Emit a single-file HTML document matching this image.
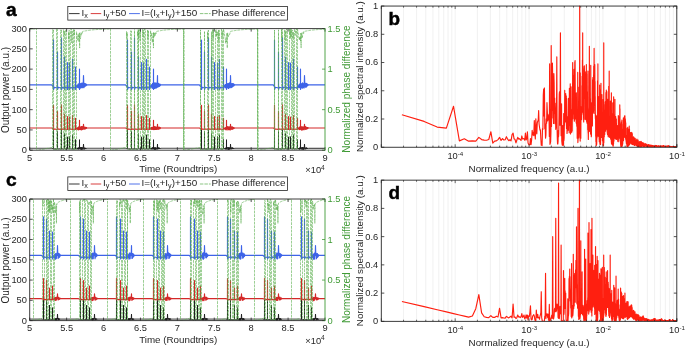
<!DOCTYPE html>
<html><head><meta charset="utf-8"><style>
html,body{margin:0;padding:0;background:#fff;}
svg{display:block;will-change:transform;}
text{font-family:'Liberation Sans',sans-serif;}
</style></head><body>
<svg width="685" height="349" viewBox="0 0 685 349">
<rect width="685" height="349" fill="#fff"/>
<defs>
<clipPath id="clipa"><rect x="29.7" y="28.6" width="295.3" height="121.6"/></clipPath>
<clipPath id="clipc"><rect x="29.7" y="199.0" width="295.3" height="121.6"/></clipPath>
</defs>
<g clip-path="url(#clipa)">
<polyline fill="none" stroke="#1e1e1e" stroke-width="0.95" stroke-linejoin="round" points="28.71,148.29 29.71,148.29 30.71,148.29 31.71,148.29 32.71,148.29 33.71,148.29 34.71,148.29 35.71,148.29 36.71,148.29 37.71,148.29 38.71,148.29 39.71,148.29 40.71,148.29 41.71,148.29 42.71,148.29 43.71,148.29 44.71,148.29 45.71,148.29 46.71,148.29 47.71,148.29 48.71,148.29 49.71,148.29 50.71,148.29 51.71,148.29 52.83,148.59 53.45,148.78 53.5,125.47 53.55,148.5 54.4,148.78 56.73,148.93 57.45,148.78 57.5,131.55 57.55,148.5 58.4,148.78 60.53,148.93 61.45,148.78 61.5,123.85 61.55,148.5 62.4,148.78 63.73,148.93 64.45,148.78 64.5,133.58 64.55,148.5 65.4,148.78 66.63,148.93 67.45,148.78 67.5,136.82 67.55,148.5 68.4,148.78 69.45,148.78 69.5,136.62 69.55,148.5 70.4,148.78 71.73,148.93 72.45,148.78 72.5,134.8 72.55,148.5 73.4,148.78 75.03,148.93 75.45,148.78 75.5,139.5 75.55,148.5 76.03,148.59 76.33,148.46 76.4,148.78 76.63,148.82 76.93,148.28 77.23,148.92 77.53,147.98 77.83,149.27 78.13,147.62 78.43,149.22 78.73,147.57 78.73,148.93 79.45,148.78 79.5,139.66 79.55,148.5 79.93,147.32 80.23,149.41 80.53,147.45 80.83,149.2 81.13,147.39 81.43,149.62 81.73,147.3 82.03,149.59 82.33,147.37 82.63,149.26 83.2,148.29 83.5,144.12 83.8,148.29 83.83,149.35 84.13,147.69 84.43,149.23 84.73,147.83 85.03,149.06 85.33,147.88 85.63,148.78 85.93,147.96 86.23,148.67 86.53,148.11 86.83,148.42 87.03,148.29 87.53,148.29 88.53,148.29 89.53,148.29 90.53,148.29 91.53,148.29 92.53,148.29 93.53,148.29 94.53,148.29 95.53,148.29 96.53,148.29 97.53,148.29 98.53,148.29 99.53,148.29 100.53,148.29 101.53,148.29 102.53,148.29 103.53,148.29 104.53,148.29 105.53,148.29 106.53,148.29 107.53,148.29 108.53,148.29 109.53,148.29 110.53,148.29 111.53,148.29 112.53,148.29 113.53,148.29 114.53,148.29 115.53,148.29 116.53,148.29 117.53,148.29 118.53,148.29 119.53,148.29 120.53,148.29 121.53,148.29 122.53,148.29 123.53,148.29 124.53,148.29 125.53,148.29 126.66,148.59 127.45,148.78 127.5,125.47 127.55,148.5 128.4,148.78 130.56,148.93 131.45,148.78 131.5,131.55 131.55,148.5 132.4,148.78 134.36,148.93 134.45,148.78 134.5,123.85 134.55,148.5 135.4,148.78 137.56,148.93 138.45,148.78 138.5,133.58 138.55,148.5 139.4,148.78 140.46,148.93 141.45,148.78 141.5,136.82 141.55,148.5 142.4,148.78 143.45,148.78 143.5,136.62 143.55,148.5 144.4,148.78 145.56,148.93 146.45,148.78 146.5,134.8 146.55,148.5 147.4,148.78 148.86,148.93 149.45,148.78 149.5,139.5 149.55,148.5 149.86,148.59 150.16,148.49 150.4,148.78 150.46,148.77 150.76,148.31 151.06,149.01 151.36,148.05 151.66,149.25 151.96,147.73 152.26,149.34 152.56,148.93 152.56,147.38 153.45,148.78 153.5,139.66 153.55,148.5 153.76,147.45 154.06,149.6 154.36,147.57 154.66,149.45 154.96,147.63 155.26,149.66 155.56,147.59 155.86,149.28 156.16,147.65 156.46,149.27 157.2,148.29 157.5,144.12 157.66,149.35 157.8,148.29 157.96,147.5 158.26,148.97 158.56,147.72 158.86,148.94 159.16,147.75 159.46,148.8 159.76,147.9 160.06,148.7 160.36,148.05 160.66,148.41 160.86,148.29 161.36,148.29 162.36,148.29 163.36,148.29 164.36,148.29 165.36,148.29 166.36,148.29 167.36,148.29 168.36,148.29 169.36,148.29 170.36,148.29 171.36,148.29 172.36,148.29 173.36,148.29 174.36,148.29 175.36,148.29 176.36,148.29 177.36,148.29 178.36,148.29 179.36,148.29 180.36,148.29 181.36,148.29 182.36,148.29 183.36,148.29 184.36,148.29 185.36,148.29 186.36,148.29 187.36,148.29 188.36,148.29 189.36,148.29 190.36,148.29 191.36,148.29 192.36,148.29 193.36,148.29 194.36,148.29 195.36,148.29 196.36,148.29 197.36,148.29 198.36,148.29 199.36,148.29 200.48,148.59 201.45,148.78 201.5,125.47 201.55,148.5 202.4,148.78 204.38,148.93 204.45,148.78 204.5,131.55 204.55,148.5 205.4,148.78 208.18,148.93 208.45,148.78 208.5,123.85 208.55,148.5 209.4,148.78 211.38,148.93 211.45,148.78 211.5,133.58 211.55,148.5 212.4,148.78 214.28,148.93 214.45,148.78 214.5,136.82 214.55,148.5 215.4,148.78 216.48,148.93 217.45,148.78 217.5,136.62 217.55,148.5 218.4,148.78 219.38,148.93 219.45,148.78 219.5,134.8 219.55,148.5 220.4,148.78 222.68,148.93 223.45,148.78 223.5,139.5 223.55,148.5 223.68,148.59 223.98,148.48 224.28,148.74 224.4,148.78 224.58,148.29 224.88,148.93 225.18,148.07 225.48,149.12 225.78,147.76 226.08,149.57 226.38,148.93 226.38,147.43 226.45,148.78 226.5,139.66 226.55,148.5 227.58,147.37 227.88,149.57 228.18,147.45 228.48,149.64 228.78,147.39 229.08,149.42 229.38,147.67 229.68,149.39 229.98,147.59 230.2,148.29 230.28,149.21 230.5,144.12 230.8,148.29 231.48,149.24 231.78,147.46 232.08,149.03 232.38,147.59 232.68,148.97 232.98,147.89 233.28,148.92 233.58,147.94 233.88,148.61 234.18,148.03 234.48,148.4 234.68,148.29 235.18,148.29 236.18,148.29 237.18,148.29 238.18,148.29 239.18,148.29 240.18,148.29 241.18,148.29 242.18,148.29 243.18,148.29 244.18,148.29 245.18,148.29 246.18,148.29 247.18,148.29 248.18,148.29 249.18,148.29 250.18,148.29 251.18,148.29 252.18,148.29 253.18,148.29 254.18,148.29 255.18,148.29 256.18,148.29 257.18,148.29 258.18,148.29 259.18,148.29 260.18,148.29 261.18,148.29 262.18,148.29 263.18,148.29 264.18,148.29 265.18,148.29 266.18,148.29 267.18,148.29 268.18,148.29 269.18,148.29 270.18,148.29 271.18,148.29 272.18,148.29 273.18,148.29 274.31,148.59 274.45,148.78 274.5,125.47 274.55,148.5 275.4,148.78 278.21,148.93 278.45,148.78 278.5,131.55 278.55,148.5 279.4,148.78 282.01,148.93 282.45,148.78 282.5,123.85 282.55,148.5 283.4,148.78 285.21,148.93 285.45,148.78 285.5,133.58 285.55,148.5 286.4,148.78 288.11,148.93 288.45,148.78 288.5,136.82 288.55,148.5 289.4,148.78 290.31,148.93 290.45,148.78 290.5,136.62 290.55,148.5 291.4,148.78 293.21,148.93 293.45,148.78 293.5,134.8 293.55,148.5 294.4,148.78 296.51,148.93 297.45,148.78 297.5,139.5 297.51,148.59 297.55,148.5 297.81,148.49 298.11,148.77 298.4,148.78 298.41,148.29 298.71,149.05 299.01,148.05 299.31,149.33 299.61,147.74 299.91,149.45 300.21,148.93 300.21,147.55 300.45,148.78 300.5,139.66 300.55,148.5 301.41,147.6 301.71,149.4 302.01,147.28 302.31,149.29 302.61,147.24 302.91,149.54 303.21,147.53 303.51,149.47 303.81,147.5 304.11,149.33 304.2,148.29 304.5,144.12 304.8,148.29 305.31,149.24 305.61,147.77 305.91,149.1 306.21,147.52 306.51,148.9 306.81,147.72 307.11,148.8 307.41,147.98 307.71,148.71 308.01,148.13 308.31,148.41 308.51,148.29 309.01,148.29 310.01,148.29 311.01,148.29 312.01,148.29 313.01,148.29 314.01,148.29 315.01,148.29 316.01,148.29 317.01,148.29 318.01,148.29 319.01,148.29 320.01,148.29 321.01,148.29 322.01,148.29 323.01,148.29 324.01,148.29 325.01,148.29"/>
<polyline fill="none" stroke="#d42828" stroke-width="1.15" stroke-linejoin="round" points="28.71,127.99 29.71,127.99 30.71,127.99 31.71,127.99 32.71,127.99 33.71,127.99 34.71,127.99 35.71,127.99 36.71,127.99 37.71,127.99 38.71,127.99 39.71,127.99 40.71,127.99 41.71,127.99 42.71,127.99 43.71,127.99 44.71,127.99 45.71,127.99 46.71,127.99 47.71,127.99 48.71,127.99 49.71,127.99 50.71,127.99 51.71,127.99 52.83,128.6 53.45,129 53.5,105.21 53.55,129.41 54.4,129 56.73,129.31 57.45,129 57.5,111.45 57.55,129.41 58.4,129 60.53,129.31 61.45,129 61.5,104.8 61.55,129.41 62.4,129 63.73,129.31 64.45,129 64.5,114.13 64.55,129.41 65.4,129 66.63,129.31 67.45,129 67.5,116.56 67.55,129.41 68.4,129 69.45,129 69.5,117.17 69.55,129.41 70.4,129 71.73,129.31 72.45,129 72.5,115.46 72.55,129.41 73.4,129 75.03,129.31 75.45,129 75.5,118.34 75.55,129.41 76.03,128.6 76.33,128.42 76.4,129 76.63,128.82 76.93,128.04 77.23,129.2 77.53,127.9 77.83,129.6 78.13,127.21 78.43,130 78.73,126.89 78.73,129.31 79.45,129 79.5,120.21 79.55,129.41 79.93,126.78 80.23,129.58 80.53,127.24 80.83,129.47 81.13,126.52 81.43,129.86 81.73,126.5 82.03,129.61 82.33,126.6 82.63,129.37 83.2,127.99 83.5,124.26 83.8,127.99 83.83,129.23 84.13,127.08 84.43,129.27 84.73,127.07 85.03,129.02 85.33,127.29 85.63,128.81 85.93,127.3 86.23,128.51 86.53,127.61 86.83,128.14 87.03,127.99 87.53,127.99 88.53,127.99 89.53,127.99 90.53,127.99 91.53,127.99 92.53,127.99 93.53,127.99 94.53,127.99 95.53,127.99 96.53,127.99 97.53,127.99 98.53,127.99 99.53,127.99 100.53,127.99 101.53,127.99 102.53,127.99 103.53,127.99 104.53,127.99 105.53,127.99 106.53,127.99 107.53,127.99 108.53,127.99 109.53,127.99 110.53,127.99 111.53,127.99 112.53,127.99 113.53,127.99 114.53,127.99 115.53,127.99 116.53,127.99 117.53,127.99 118.53,127.99 119.53,127.99 120.53,127.99 121.53,127.99 122.53,127.99 123.53,127.99 124.53,127.99 125.53,127.99 126.66,128.6 127.45,129 127.5,105.21 127.55,129.41 128.4,129 130.56,129.31 131.45,129 131.5,111.45 131.55,129.41 132.4,129 134.36,129.31 134.45,129 134.5,104.8 134.55,129.41 135.4,129 137.56,129.31 138.45,129 138.5,114.13 138.55,129.41 139.4,129 140.46,129.31 141.45,129 141.5,116.56 141.55,129.41 142.4,129 143.45,129 143.5,117.17 143.55,129.41 144.4,129 145.56,129.31 146.45,129 146.5,115.46 146.55,129.41 147.4,129 148.86,129.31 149.45,129 149.5,118.34 149.55,129.41 149.86,128.6 150.16,128.42 150.4,129 150.46,128.9 150.76,128.13 151.06,129.13 151.36,127.54 151.66,129.52 151.96,127.32 152.26,129.46 152.56,129.31 152.56,127.33 153.45,129 153.5,120.21 153.55,129.41 153.76,127.13 154.06,129.56 154.36,126.53 154.66,129.43 154.96,126.95 155.26,129.43 155.56,126.72 155.86,129.39 156.16,127.1 156.46,129.38 157.2,127.99 157.5,124.26 157.66,129.3 157.8,127.99 157.96,126.91 158.26,129.41 158.56,127.22 158.86,128.92 159.16,127.12 159.46,128.87 159.76,127.55 160.06,128.59 160.36,127.61 160.66,128.15 160.86,127.99 161.36,127.99 162.36,127.99 163.36,127.99 164.36,127.99 165.36,127.99 166.36,127.99 167.36,127.99 168.36,127.99 169.36,127.99 170.36,127.99 171.36,127.99 172.36,127.99 173.36,127.99 174.36,127.99 175.36,127.99 176.36,127.99 177.36,127.99 178.36,127.99 179.36,127.99 180.36,127.99 181.36,127.99 182.36,127.99 183.36,127.99 184.36,127.99 185.36,127.99 186.36,127.99 187.36,127.99 188.36,127.99 189.36,127.99 190.36,127.99 191.36,127.99 192.36,127.99 193.36,127.99 194.36,127.99 195.36,127.99 196.36,127.99 197.36,127.99 198.36,127.99 199.36,127.99 200.48,128.6 201.45,129 201.5,105.21 201.55,129.41 202.4,129 204.38,129.31 204.45,129 204.5,111.45 204.55,129.41 205.4,129 208.18,129.31 208.45,129 208.5,104.8 208.55,129.41 209.4,129 211.38,129.31 211.45,129 211.5,114.13 211.55,129.41 212.4,129 214.28,129.31 214.45,129 214.5,116.56 214.55,129.41 215.4,129 216.48,129.31 217.45,129 217.5,117.17 217.55,129.41 218.4,129 219.38,129.31 219.45,129 219.5,115.46 219.55,129.41 220.4,129 222.68,129.31 223.45,129 223.5,118.34 223.55,129.41 223.68,128.6 223.98,128.44 224.28,128.84 224.4,129 224.58,128.07 224.88,129.17 225.18,127.73 225.48,129.47 225.78,127.53 226.08,129.91 226.38,129.31 226.38,127.17 226.45,129 226.5,120.21 226.55,129.41 227.58,126.62 227.88,129.83 228.18,127.03 228.48,129.55 228.78,126.87 229.08,129.67 229.38,126.73 229.68,129.72 229.98,127.13 230.2,127.99 230.28,129.93 230.5,124.26 230.8,127.99 231.48,129.16 231.78,126.76 232.08,129.41 232.38,126.88 232.68,129.1 232.98,127.4 233.28,128.76 233.58,127.46 233.88,128.55 234.18,127.69 234.48,128.2 234.68,127.99 235.18,127.99 236.18,127.99 237.18,127.99 238.18,127.99 239.18,127.99 240.18,127.99 241.18,127.99 242.18,127.99 243.18,127.99 244.18,127.99 245.18,127.99 246.18,127.99 247.18,127.99 248.18,127.99 249.18,127.99 250.18,127.99 251.18,127.99 252.18,127.99 253.18,127.99 254.18,127.99 255.18,127.99 256.18,127.99 257.18,127.99 258.18,127.99 259.18,127.99 260.18,127.99 261.18,127.99 262.18,127.99 263.18,127.99 264.18,127.99 265.18,127.99 266.18,127.99 267.18,127.99 268.18,127.99 269.18,127.99 270.18,127.99 271.18,127.99 272.18,127.99 273.18,127.99 274.31,128.6 274.45,129 274.5,105.21 274.55,129.41 275.4,129 278.21,129.31 278.45,129 278.5,111.45 278.55,129.41 279.4,129 282.01,129.31 282.45,129 282.5,104.8 282.55,129.41 283.4,129 285.21,129.31 285.45,129 285.5,114.13 285.55,129.41 286.4,129 288.11,129.31 288.45,129 288.5,116.56 288.55,129.41 289.4,129 290.31,129.31 290.45,129 290.5,117.17 290.55,129.41 291.4,129 293.21,129.31 293.45,129 293.5,115.46 293.55,129.41 294.4,129 296.51,129.31 297.45,129 297.5,118.34 297.51,128.6 297.55,129.41 297.81,128.43 298.11,128.89 298.4,129 298.41,128.09 298.71,129.05 299.01,127.53 299.31,129.54 299.61,127.18 299.91,129.65 300.21,129.31 300.21,126.7 300.45,129 300.5,120.21 300.55,129.41 301.41,126.69 301.71,130.17 302.01,127.11 302.31,129.77 302.61,126.94 302.91,129.84 303.21,127 303.51,129.43 303.81,126.81 304.11,129.79 304.2,127.99 304.5,124.26 304.8,127.99 305.31,129.37 305.61,126.66 305.91,129.19 306.21,127.2 306.51,129.17 306.81,127.27 307.11,128.7 307.41,127.51 307.71,128.63 308.01,127.59 308.31,128.2 308.51,127.99 309.01,127.99 310.01,127.99 311.01,127.99 312.01,127.99 313.01,127.99 314.01,127.99 315.01,127.99 316.01,127.99 317.01,127.99 318.01,127.99 319.01,127.99 320.01,127.99 321.01,127.99 322.01,127.99 323.01,127.99 324.01,127.99 325.01,127.99"/>
<polyline fill="none" stroke="#3d63e8" stroke-width="1.15" stroke-linejoin="round" points="28.71,84.86 29.71,84.86 30.71,84.86 31.71,84.86 32.71,84.86 33.71,84.86 34.71,84.86 35.71,84.86 36.71,84.86 37.71,84.86 38.71,84.86 39.71,84.86 40.71,84.86 41.71,84.86 42.71,84.86 43.71,84.86 44.71,84.86 45.71,84.86 46.71,84.86 47.71,84.86 48.71,84.86 49.71,84.86 50.71,84.86 51.71,84.86 52.83,86.32 53.45,87.29 53.5,39.95 53.55,89.52 54.4,87.29 56.73,88.02 57.45,87.29 57.5,52.11 57.55,89.52 58.4,87.29 60.53,88.02 61.45,87.29 61.5,37.92 61.55,89.52 62.4,87.29 63.73,88.02 64.45,87.29 64.5,56.97 64.55,89.52 65.4,87.29 66.63,88.02 67.45,87.29 67.5,62.65 67.55,89.52 68.4,87.29 69.45,87.29 69.5,63.05 69.55,89.52 70.4,87.29 71.73,88.02 72.45,87.29 72.5,59.41 72.55,89.52 73.4,87.29 75.03,88.02 75.45,87.29 75.5,67.11 75.55,89.52 76.03,86.32 76.33,86.08 76.4,87.29 76.63,86.81 76.93,85.39 77.23,87.11 77.53,85.18 77.83,87.32 78.13,84.09 78.43,87.57 78.73,83.94 78.73,88.02 79.45,87.29 79.5,69.13 79.55,89.52 79.93,83.81 80.23,88.31 80.53,83.61 80.83,87.48 81.13,83.52 81.43,87.68 81.73,83.05 82.03,87.59 82.33,82.99 82.63,87.76 83.2,84.86 83.5,75.62 83.8,84.86 83.83,87.67 84.13,83.17 84.43,86.85 84.73,83.59 85.03,86.54 85.33,83.57 85.63,85.96 85.93,84.1 86.23,85.74 86.53,84.4 86.83,85.19 87.03,84.86 87.53,84.86 88.53,84.86 89.53,84.86 90.53,84.86 91.53,84.86 92.53,84.86 93.53,84.86 94.53,84.86 95.53,84.86 96.53,84.86 97.53,84.86 98.53,84.86 99.53,84.86 100.53,84.86 101.53,84.86 102.53,84.86 103.53,84.86 104.53,84.86 105.53,84.86 106.53,84.86 107.53,84.86 108.53,84.86 109.53,84.86 110.53,84.86 111.53,84.86 112.53,84.86 113.53,84.86 114.53,84.86 115.53,84.86 116.53,84.86 117.53,84.86 118.53,84.86 119.53,84.86 120.53,84.86 121.53,84.86 122.53,84.86 123.53,84.86 124.53,84.86 125.53,84.86 126.66,86.32 127.45,87.29 127.5,39.95 127.55,89.52 128.4,87.29 130.56,88.02 131.45,87.29 131.5,52.11 131.55,89.52 132.4,87.29 134.36,88.02 134.45,87.29 134.5,37.92 134.55,89.52 135.4,87.29 137.56,88.02 138.45,87.29 138.5,56.97 138.55,89.52 139.4,87.29 140.46,88.02 141.45,87.29 141.5,62.65 141.55,89.52 142.4,87.29 143.45,87.29 143.5,63.05 143.55,89.52 144.4,87.29 145.56,88.02 146.45,87.29 146.5,59.41 146.55,89.52 147.4,87.29 148.86,88.02 149.45,87.29 149.5,67.11 149.55,89.52 149.86,86.32 150.16,86.04 150.4,87.29 150.46,86.78 150.76,85.52 151.06,87.2 151.36,84.74 151.66,87.29 151.96,84.46 152.26,88.42 152.56,88.02 152.56,83.21 153.45,87.29 153.5,69.13 153.55,89.52 153.76,82.97 154.06,87.51 154.36,83.08 154.66,88.45 154.96,82.92 155.26,88.12 155.56,83.09 155.86,88.04 156.16,83.13 156.46,88.04 157.2,84.86 157.5,75.62 157.66,87.28 157.8,84.86 157.96,83.64 158.26,86.58 158.56,83.26 158.86,86.74 159.16,84.01 159.46,86.34 159.76,84.16 160.06,85.77 160.36,84.42 160.66,85.13 160.86,84.86 161.36,84.86 162.36,84.86 163.36,84.86 164.36,84.86 165.36,84.86 166.36,84.86 167.36,84.86 168.36,84.86 169.36,84.86 170.36,84.86 171.36,84.86 172.36,84.86 173.36,84.86 174.36,84.86 175.36,84.86 176.36,84.86 177.36,84.86 178.36,84.86 179.36,84.86 180.36,84.86 181.36,84.86 182.36,84.86 183.36,84.86 184.36,84.86 185.36,84.86 186.36,84.86 187.36,84.86 188.36,84.86 189.36,84.86 190.36,84.86 191.36,84.86 192.36,84.86 193.36,84.86 194.36,84.86 195.36,84.86 196.36,84.86 197.36,84.86 198.36,84.86 199.36,84.86 200.48,86.32 201.45,87.29 201.5,39.95 201.55,89.52 202.4,87.29 204.38,88.02 204.45,87.29 204.5,52.11 204.55,89.52 205.4,87.29 208.18,88.02 208.45,87.29 208.5,37.92 208.55,89.52 209.4,87.29 211.38,88.02 211.45,87.29 211.5,56.97 211.55,89.52 212.4,87.29 214.28,88.02 214.45,87.29 214.5,62.65 214.55,89.52 215.4,87.29 216.48,88.02 217.45,87.29 217.5,63.05 217.55,89.52 218.4,87.29 219.38,88.02 219.45,87.29 219.5,59.41 219.55,89.52 220.4,87.29 222.68,88.02 223.45,87.29 223.5,67.11 223.55,89.52 223.68,86.32 223.98,86.09 224.28,86.63 224.4,87.29 224.58,85.62 224.88,86.95 225.18,84.68 225.48,87.58 225.78,84.63 226.08,88.01 226.38,88.02 226.38,83.69 226.45,87.29 226.5,69.13 226.55,89.52 227.58,83.54 227.88,87.7 228.18,83.53 228.48,88.37 228.78,83.51 229.08,87.88 229.38,82.81 229.68,87.49 229.98,82.96 230.2,84.86 230.28,87.7 230.5,75.62 230.8,84.86 231.48,87.57 231.78,83.51 232.08,86.97 232.38,83.69 232.68,86.82 232.98,83.54 233.28,86.24 233.58,83.83 233.88,85.81 234.18,84.29 234.48,85.23 234.68,84.86 235.18,84.86 236.18,84.86 237.18,84.86 238.18,84.86 239.18,84.86 240.18,84.86 241.18,84.86 242.18,84.86 243.18,84.86 244.18,84.86 245.18,84.86 246.18,84.86 247.18,84.86 248.18,84.86 249.18,84.86 250.18,84.86 251.18,84.86 252.18,84.86 253.18,84.86 254.18,84.86 255.18,84.86 256.18,84.86 257.18,84.86 258.18,84.86 259.18,84.86 260.18,84.86 261.18,84.86 262.18,84.86 263.18,84.86 264.18,84.86 265.18,84.86 266.18,84.86 267.18,84.86 268.18,84.86 269.18,84.86 270.18,84.86 271.18,84.86 272.18,84.86 273.18,84.86 274.31,86.32 274.45,87.29 274.5,39.95 274.55,89.52 275.4,87.29 278.21,88.02 278.45,87.29 278.5,52.11 278.55,89.52 279.4,87.29 282.01,88.02 282.45,87.29 282.5,37.92 282.55,89.52 283.4,87.29 285.21,88.02 285.45,87.29 285.5,56.97 285.55,89.52 286.4,87.29 288.11,88.02 288.45,87.29 288.5,62.65 288.55,89.52 289.4,87.29 290.31,88.02 290.45,87.29 290.5,63.05 290.55,89.52 291.4,87.29 293.21,88.02 293.45,87.29 293.5,59.41 293.55,89.52 294.4,87.29 296.51,88.02 297.45,87.29 297.5,67.11 297.51,86.32 297.55,89.52 297.81,85.97 298.11,86.71 298.4,87.29 298.41,85.46 298.71,86.99 299.01,84.68 299.31,87.45 299.61,84.14 299.91,87.7 300.21,88.02 300.21,83.9 300.45,87.29 300.5,69.13 300.55,89.52 301.41,83.66 301.71,87.73 302.01,83.98 302.31,88.26 302.61,82.86 302.91,87.56 303.21,83.68 303.51,87.62 303.81,83.69 304.11,87.88 304.2,84.86 304.5,75.62 304.8,84.86 305.31,87.15 305.61,83.33 305.91,87.28 306.21,83.3 306.51,86.86 306.81,83.53 307.11,86.21 307.41,84.06 307.71,85.55 308.01,84.49 308.31,85.18 308.51,84.86 309.01,84.86 310.01,84.86 311.01,84.86 312.01,84.86 313.01,84.86 314.01,84.86 315.01,84.86 316.01,84.86 317.01,84.86 318.01,84.86 319.01,84.86 320.01,84.86 321.01,84.86 322.01,84.86 323.01,84.86 324.01,84.86 325.01,84.86"/>
<g fill="none" stroke="#5aae4d" stroke-width="0.6" stroke-dasharray="2.8,0.9">
<polyline stroke-dashoffset="1.1" points="29.91,29.16 30.61,29.13 31.31,29.1 32.01,29.08 32.71,29.05 33.41,29.03 34.11,29 34.81,28.98 35.51,28.96 36.21,28.94 36.5,28.6"/>
<line x1="36.5" y1="28.6" x2="36.5" y2="150.2" stroke-dashoffset="1.19"/>
<polyline stroke-dashoffset="1.71" points="36.5,150.2 37.3,150.12 38.3,149.99 39.3,149.85 40.3,149.7 41.3,149.53 42.3,149.36 43.3,149.19 44.3,149.01 45.3,148.82 46.3,148.63 47.3,148.43 48.3,148.24 49.3,148.03 50.3,147.83 51.3,147.62 52.3,147.41 52.5,147.36"/>
<line x1="52.5" y1="147.36" x2="52.5" y2="31.37" stroke-dashoffset="1.3"/>
<polyline stroke-dashoffset="2.77" points="52.5,31.37 52.8,29.5 53.1,30.67 53.5,29.21"/>
<line x1="53.5" y1="29.21" x2="53.5" y2="149.87" stroke-dashoffset="2.89"/>
<polyline stroke-dashoffset="0.07" points="53.5,149.87 55,149.15 56.5,149.77"/>
<line x1="56.5" y1="149.77" x2="56.5" y2="29.22" stroke-dashoffset="0.6"/>
<polyline stroke-dashoffset="0.38" points="56.5,29.22 56.8,28.83 57.1,29.29 57.5,29.59"/>
<line x1="57.5" y1="29.59" x2="57.5" y2="149.85" stroke-dashoffset="1.31"/>
<polyline stroke-dashoffset="1.32" points="57.5,149.85 59,149.67 60.5,150"/>
<line x1="60.5" y1="150" x2="60.5" y2="30.13" stroke-dashoffset="2.77"/>
<polyline stroke-dashoffset="2.7" points="60.5,30.13 60.8,29.42 61.1,30.69 61.5,29.84"/>
<line x1="61.5" y1="29.84" x2="61.5" y2="150.14" stroke-dashoffset="3.26"/>
<polyline stroke-dashoffset="2.53" points="61.5,150.14 62.5,148.95 63.5,149.81"/>
<line x1="63.5" y1="149.81" x2="63.5" y2="29.68" stroke-dashoffset="2.2"/>
<polyline stroke-dashoffset="3.68" points="63.5,29.68 63.8,31.03 64.1,35.44 64.5,31.14"/>
<line x1="64.5" y1="31.14" x2="64.5" y2="149.09" stroke-dashoffset="2.38"/>
<line x1="64.5" y1="149.09" x2="65.5" y2="149.86" stroke-dashoffset="1.44"/>
<line x1="65.5" y1="149.86" x2="65.5" y2="30.53" stroke-dashoffset="1.13"/>
<polyline stroke-dashoffset="0.13" points="65.5,30.53 65.8,30.2 66.1,30.44 66.5,32.55"/>
<line x1="66.5" y1="32.55" x2="66.5" y2="148.87" stroke-dashoffset="3.49"/>
<polyline stroke-dashoffset="2.78" points="66.5,148.87 67.5,148.86 68.5,148.69"/>
<line x1="68.5" y1="148.69" x2="68.5" y2="31.72" stroke-dashoffset="1.4"/>
<polyline stroke-dashoffset="3.24" points="68.5,31.72 68.8,39.6 69.1,29.96 69.5,31.35"/>
<line x1="69.5" y1="31.35" x2="69.5" y2="149.68" stroke-dashoffset="2.82"/>
<line x1="69.5" y1="149.68" x2="70.5" y2="148.8" stroke-dashoffset="1.72"/>
<line x1="70.5" y1="148.8" x2="70.5" y2="29.92" stroke-dashoffset="3.54"/>
<polyline stroke-dashoffset="3.3" points="70.5,29.92 70.8,28.76 71.1,29.16 71.4,29.07 71.7,42.96 72,30.84 72.5,31.77"/>
<line x1="72.5" y1="31.77" x2="72.5" y2="150.01" stroke-dashoffset="1.65"/>
<line x1="72.5" y1="150.01" x2="73.5" y2="149.85" stroke-dashoffset="1.58"/>
<line x1="73.5" y1="149.85" x2="73.5" y2="29.86" stroke-dashoffset="0.56"/>
<polyline stroke-dashoffset="0.38" points="73.5,29.86 73.8,29.41 74.1,35.62 74.5,29.92"/>
<line x1="74.5" y1="29.92" x2="74.5" y2="148.92" stroke-dashoffset="1.32"/>
<polyline stroke-dashoffset="0.79" points="74.5,148.92 75.5,150.11 76.5,149.83"/>
<line x1="76.5" y1="149.83" x2="76.5" y2="31.28" stroke-dashoffset="0.25"/>
<polyline stroke-dashoffset="2.72" points="76.5,31.28 77.33,40.28 77.63,38.69 77.93,36.77 78.23,33.95 78.53,37.1 78.83,41.86 79.13,37.71 79.33,33.06 79.43,37.14 79.63,48.06 79.73,40.05 79.98,32.61 80.03,38.63 80.33,38.8 80.63,37.83 80.93,35.56 81.23,33.25 81.53,34.32 81.83,32.81 82.13,33.64 82.43,31.69 82.73,31.41 82.73,31.41 83.43,31.26 84.13,31.12 84.83,30.99 85.53,30.87 86.23,30.75 86.93,30.63 87.63,30.53 88.33,30.43 89.03,30.33 89.73,30.24 90.43,30.15 91.13,30.07 91.83,30 92.53,29.92 93.23,29.85 93.93,29.79 94.63,29.73 95.33,29.67 96.03,29.61 96.73,29.56 97.43,29.51 98.13,29.46 98.83,29.41 99.53,29.37 100.23,29.33 100.93,29.29 101.63,29.26 102.33,29.22 103.03,29.19 103.73,29.16 104.43,29.13 105.13,29.1 105.83,29.08 106.53,29.05 107.23,29.03 107.93,29 108.63,28.98 109.33,28.96 110.03,28.94 110.5,28.6"/>
<line x1="110.5" y1="28.6" x2="110.5" y2="150.2" stroke-dashoffset="3.56"/>
<polyline stroke-dashoffset="2.54" points="110.5,150.2 111.3,150.12 112.3,149.99 113.3,149.85 114.3,149.69 115.3,149.52 116.3,149.35 117.3,149.17 118.3,148.99 119.3,148.8 120.3,148.61 121.3,148.41 122.3,148.21 123.3,148.01 124.3,147.8 125.3,147.59 126.3,147.38 126.5,147.36"/>
<line x1="126.5" y1="147.36" x2="126.5" y2="31.33" stroke-dashoffset="3.36"/>
<polyline stroke-dashoffset="3.22" points="126.5,31.33 126.8,37.37 127.1,32.76 127.5,32.47"/>
<line x1="127.5" y1="32.47" x2="127.5" y2="149.13" stroke-dashoffset="2.39"/>
<polyline stroke-dashoffset="1.93" points="127.5,149.13 129,149.61 130.5,149.36"/>
<line x1="130.5" y1="149.36" x2="130.5" y2="31.11" stroke-dashoffset="1.32"/>
<polyline stroke-dashoffset="1.83" points="130.5,31.11 130.8,30.61 131.1,32.08 131.5,31.19"/>
<line x1="131.5" y1="31.19" x2="131.5" y2="149.35" stroke-dashoffset="1.19"/>
<polyline stroke-dashoffset="0.64" points="131.5,149.35 133,149.28 134.5,149.85"/>
<line x1="134.5" y1="149.85" x2="134.5" y2="31.65" stroke-dashoffset="1.83"/>
<line x1="134.5" y1="31.65" x2="134.5" y2="29.63" stroke-dashoffset="2.45"/>
<line x1="134.5" y1="29.63" x2="134.5" y2="149.62" stroke-dashoffset="2.17"/>
<polyline stroke-dashoffset="2.73" points="134.5,149.62 136,148.97 137.5,150.12"/>
<line x1="137.5" y1="150.12" x2="137.5" y2="31.68" stroke-dashoffset="1.24"/>
<polyline stroke-dashoffset="0" points="137.5,31.68 137.8,35.58 138.1,29.22 138.5,29.52"/>
<line x1="138.5" y1="29.52" x2="138.5" y2="148.73" stroke-dashoffset="0.79"/>
<line x1="138.5" y1="148.73" x2="138.5" y2="148.6" stroke-dashoffset="1.07"/>
<line x1="138.5" y1="148.6" x2="138.5" y2="30.33" stroke-dashoffset="2.05"/>
<polyline stroke-dashoffset="1.44" points="138.5,30.33 138.8,37.42 139.1,31.72 139.4,30.11 139.7,29.51 140,41.21 140.5,29.83"/>
<line x1="140.5" y1="29.83" x2="140.5" y2="149.68" stroke-dashoffset="2.43"/>
<polyline stroke-dashoffset="0.83" points="140.5,149.68 141.5,149.22 142.5,149.79"/>
<line x1="142.5" y1="149.79" x2="142.5" y2="30.41" stroke-dashoffset="1.73"/>
<polyline stroke-dashoffset="0.01" points="142.5,30.41 142.8,29.3 143.1,37.01 143.5,30.07"/>
<line x1="143.5" y1="30.07" x2="143.5" y2="149.84" stroke-dashoffset="2.54"/>
<line x1="143.5" y1="149.84" x2="144.5" y2="150.01" stroke-dashoffset="3.2"/>
<line x1="144.5" y1="150.01" x2="144.5" y2="30.43" stroke-dashoffset="3.18"/>
<polyline stroke-dashoffset="3.24" points="144.5,30.43 144.8,28.65 145.1,30.94 145.5,30.8"/>
<line x1="145.5" y1="30.8" x2="145.5" y2="148.63" stroke-dashoffset="0.73"/>
<polyline stroke-dashoffset="3.63" points="145.5,148.63 146.5,149.06 147.5,149.32"/>
<line x1="147.5" y1="149.32" x2="147.5" y2="30.1" stroke-dashoffset="2.04"/>
<polyline stroke-dashoffset="0.69" points="147.5,30.1 147.8,38.55 148.1,39.04 148.5,30.59"/>
<line x1="148.5" y1="30.59" x2="148.5" y2="149.11" stroke-dashoffset="0.34"/>
<polyline stroke-dashoffset="0.26" points="148.5,149.11 149.5,148.67 150.5,149.82"/>
<line x1="150.5" y1="149.82" x2="150.5" y2="29.91" stroke-dashoffset="2.36"/>
<polyline stroke-dashoffset="2.33" points="150.5,29.91 151.16,36.17 151.46,33.37 151.76,39.57 152.06,39.24 152.36,42.58 152.66,38.16 152.96,35.9 153.16,33.06 153.26,39.91 153.46,48.06 153.56,32.26 153.81,32.61 153.86,34.3 154.16,37.12 154.46,32.91 154.76,33.84 155.06,35.93 155.36,33.13 155.66,32.45 155.96,33.85 156.26,31.6 156.56,31.41 156.56,31.41 157.26,31.26 157.96,31.12 158.66,30.99 159.36,30.87 160.06,30.75 160.76,30.63 161.46,30.53 162.16,30.43 162.86,30.33 163.56,30.24 164.26,30.15 164.96,30.07 165.66,30 166.36,29.92 167.06,29.85 167.76,29.79 168.46,29.73 169.16,29.67 169.86,29.61 170.56,29.56 171.26,29.51 171.96,29.46 172.66,29.41 173.36,29.37 174.06,29.33 174.76,29.29 175.46,29.26 176.16,29.22 176.86,29.19 177.56,29.16 178.26,29.13 178.96,29.1 179.66,29.08 180.36,29.05 181.06,29.03 181.76,29 182.46,28.98 183.16,28.96 183.5,28.6"/>
<line x1="183.5" y1="28.6" x2="183.5" y2="150.2" stroke-dashoffset="2.91"/>
<polyline stroke-dashoffset="2.44" points="183.5,150.2 183.86,28.94 184.3,150.13 185.3,150 186.3,149.87 187.3,149.72 188.3,149.56 189.3,149.4 190.3,149.23 191.3,149.06 192.3,148.88 193.3,148.7 194.3,148.52 195.3,148.33 196.3,148.14 197.3,147.94 198.3,147.74 199.3,147.54 200.5,147.36"/>
<line x1="200.5" y1="147.36" x2="200.5" y2="29.88" stroke-dashoffset="1.92"/>
<line x1="200.5" y1="29.88" x2="200.5" y2="31.38" stroke-dashoffset="0.6"/>
<line x1="200.5" y1="31.38" x2="200.5" y2="149.86" stroke-dashoffset="2.72"/>
<polyline stroke-dashoffset="0.02" points="200.5,149.86 202.5,149.41 204.5,149.42"/>
<line x1="204.5" y1="149.42" x2="204.5" y2="31.65" stroke-dashoffset="2.44"/>
<line x1="204.5" y1="31.65" x2="204.5" y2="31.73" stroke-dashoffset="0.61"/>
<line x1="204.5" y1="31.73" x2="204.5" y2="149.45" stroke-dashoffset="0.59"/>
<polyline stroke-dashoffset="3.35" points="204.5,149.45 206,149.29 207.5,149.68"/>
<line x1="207.5" y1="149.68" x2="207.5" y2="31.79" stroke-dashoffset="3.43"/>
<polyline stroke-dashoffset="2.67" points="207.5,31.79 207.8,41.52 208.1,30.83 208.5,30.04"/>
<line x1="208.5" y1="30.04" x2="208.5" y2="149.52" stroke-dashoffset="0.85"/>
<polyline stroke-dashoffset="1.74" points="208.5,149.52 210,149.6 211.5,148.86"/>
<line x1="211.5" y1="148.86" x2="211.5" y2="31.94" stroke-dashoffset="1.28"/>
<line x1="211.5" y1="31.94" x2="211.5" y2="31.69" stroke-dashoffset="0.44"/>
<line x1="211.5" y1="31.69" x2="211.5" y2="149.47" stroke-dashoffset="0.88"/>
<line x1="211.5" y1="149.47" x2="212.5" y2="148.86" stroke-dashoffset="0.21"/>
<line x1="212.5" y1="148.86" x2="212.5" y2="30.97" stroke-dashoffset="3.6"/>
<polyline stroke-dashoffset="0.87" points="212.5,30.97 212.8,29.05 213.1,38.87 213.5,29.41"/>
<line x1="213.5" y1="29.41" x2="213.5" y2="149.29" stroke-dashoffset="1.43"/>
<polyline stroke-dashoffset="0.91" points="213.5,149.29 214.5,148.9 215.5,149.14"/>
<line x1="215.5" y1="149.14" x2="215.5" y2="30.58" stroke-dashoffset="2.41"/>
<polyline stroke-dashoffset="2.08" points="215.5,30.58 215.8,30.35 216.1,29.28 216.4,36.74 216.7,31.58 217,35.33 217.5,31.84"/>
<line x1="217.5" y1="31.84" x2="217.5" y2="149.14" stroke-dashoffset="2.83"/>
<line x1="217.5" y1="149.14" x2="218.5" y2="150.13" stroke-dashoffset="0.04"/>
<line x1="218.5" y1="150.13" x2="218.5" y2="30.16" stroke-dashoffset="0.76"/>
<polyline stroke-dashoffset="2.22" points="218.5,30.16 218.8,41.07 219.1,29.95 219.5,31.58"/>
<line x1="219.5" y1="31.58" x2="219.5" y2="149.09" stroke-dashoffset="2.13"/>
<polyline stroke-dashoffset="3.05" points="219.5,149.09 220.5,148.88 221.5,149.75"/>
<line x1="221.5" y1="149.75" x2="221.5" y2="29.34" stroke-dashoffset="0.3"/>
<polyline stroke-dashoffset="1.37" points="221.5,29.34 221.8,30.93 222.1,36.88 222.5,30.81"/>
<line x1="222.5" y1="30.81" x2="222.5" y2="149.59" stroke-dashoffset="1.49"/>
<line x1="222.5" y1="149.59" x2="223.5" y2="148.98" stroke-dashoffset="1.9"/>
<line x1="223.5" y1="148.98" x2="223.5" y2="29.03" stroke-dashoffset="1.3"/>
<polyline stroke-dashoffset="2.72" points="223.5,29.03 224.98,37.34 225.28,37.75 225.58,43.24 225.88,39.83 226.18,39.67 226.48,41.99 226.78,34.36 226.98,33.06 227.08,37.37 227.28,48.06 227.38,33 227.63,32.61 227.68,33.26 227.98,36.73 228.28,37.04 228.58,35.38 228.88,34.6 229.18,35.01 229.48,34.9 229.78,33.94 230.08,32.76 230.38,31.41 230.38,31.41 231.08,31.26 231.78,31.12 232.48,30.99 233.18,30.87 233.88,30.75 234.58,30.63 235.28,30.53 235.98,30.43 236.68,30.33 237.38,30.24 238.08,30.15 238.78,30.07 239.48,30 240.18,29.92 240.88,29.85 241.58,29.79 242.28,29.73 242.98,29.67 243.68,29.61 244.38,29.56 245.08,29.51 245.78,29.46 246.48,29.41 247.18,29.37 247.88,29.33 248.58,29.29 249.28,29.26 249.98,29.22 250.68,29.19 251.38,29.16 252.08,29.13 252.78,29.1 253.48,29.08 254.18,29.05 254.88,29.03 255.58,29 256.28,28.98 256.98,28.96 257.5,28.6"/>
<line x1="257.5" y1="28.6" x2="257.5" y2="150.2" stroke-dashoffset="0.39"/>
<polyline stroke-dashoffset="0.22" points="257.5,150.2 257.68,28.94 258.3,150.12 259.3,150 260.3,149.86 261.3,149.71 262.3,149.56 263.3,149.39 264.3,149.22 265.3,149.05 266.3,148.87 267.3,148.68 268.3,148.49 269.3,148.3 270.3,148.11 271.3,147.91 272.3,147.71 273.3,147.51 274.5,147.36"/>
<line x1="274.5" y1="147.36" x2="274.5" y2="31.71" stroke-dashoffset="1.16"/>
<line x1="274.5" y1="31.71" x2="274.5" y2="30" stroke-dashoffset="0.33"/>
<line x1="274.5" y1="30" x2="274.5" y2="149.82" stroke-dashoffset="1.45"/>
<polyline stroke-dashoffset="2.14" points="274.5,149.82 276.5,148.73 278.5,149.75"/>
<line x1="278.5" y1="149.75" x2="278.5" y2="29.82" stroke-dashoffset="0.31"/>
<line x1="278.5" y1="29.82" x2="278.5" y2="31.78" stroke-dashoffset="1.7"/>
<line x1="278.5" y1="31.78" x2="278.5" y2="149.77" stroke-dashoffset="2.05"/>
<polyline stroke-dashoffset="2.09" points="278.5,149.77 280,149.65 281.5,149.41"/>
<line x1="281.5" y1="149.41" x2="281.5" y2="29.25" stroke-dashoffset="0.11"/>
<polyline stroke-dashoffset="2.86" points="281.5,29.25 281.8,41.5 282.1,28.98 282.5,30.39"/>
<line x1="282.5" y1="30.39" x2="282.5" y2="149.52" stroke-dashoffset="2.67"/>
<polyline stroke-dashoffset="1.1" points="282.5,149.52 283.5,148.86 284.5,149.13"/>
<line x1="284.5" y1="149.13" x2="284.5" y2="29.92" stroke-dashoffset="1.74"/>
<polyline stroke-dashoffset="2.73" points="284.5,29.92 284.8,30.07 285.1,40.17 285.5,30.49"/>
<line x1="285.5" y1="30.49" x2="285.5" y2="148.76" stroke-dashoffset="3.09"/>
<line x1="285.5" y1="148.76" x2="286.5" y2="149.12" stroke-dashoffset="0.92"/>
<line x1="286.5" y1="149.12" x2="286.5" y2="29.09" stroke-dashoffset="2.85"/>
<polyline stroke-dashoffset="1.57" points="286.5,29.09 286.8,30.01 287.1,29.62 287.5,31.29"/>
<line x1="287.5" y1="31.29" x2="287.5" y2="150.1" stroke-dashoffset="3.53"/>
<polyline stroke-dashoffset="3.25" points="287.5,150.1 288.5,149.38 289.5,148.68"/>
<line x1="289.5" y1="148.68" x2="289.5" y2="29.26" stroke-dashoffset="1.32"/>
<polyline stroke-dashoffset="1.33" points="289.5,29.26 289.8,34.59 290.1,29.52 290.4,38.44 290.7,28.73 291,37.64 291.5,28.68"/>
<line x1="291.5" y1="28.68" x2="291.5" y2="148.66" stroke-dashoffset="1.8"/>
<line x1="291.5" y1="148.66" x2="292.5" y2="149.16" stroke-dashoffset="3.55"/>
<line x1="292.5" y1="149.16" x2="292.5" y2="30.17" stroke-dashoffset="0.53"/>
<polyline stroke-dashoffset="2.03" points="292.5,30.17 292.8,30.75 293.1,38.54 293.5,32.35"/>
<line x1="293.5" y1="32.35" x2="293.5" y2="148.92" stroke-dashoffset="2.4"/>
<line x1="293.5" y1="148.92" x2="294.5" y2="150.17" stroke-dashoffset="2.66"/>
<line x1="294.5" y1="150.17" x2="294.5" y2="28.73" stroke-dashoffset="0.25"/>
<polyline stroke-dashoffset="2.22" points="294.5,28.73 294.8,29.99 295.1,30.73 295.4,31.01 295.7,35.44 296,30.3 296.5,28.83"/>
<line x1="296.5" y1="28.83" x2="296.5" y2="148.73" stroke-dashoffset="1.67"/>
<line x1="296.5" y1="148.73" x2="297.5" y2="149.2" stroke-dashoffset="1.26"/>
<line x1="297.5" y1="149.2" x2="297.5" y2="29.23" stroke-dashoffset="3.59"/>
<polyline stroke-dashoffset="0.39" points="297.5,29.23 298.81,37.05 299.11,39.45 299.41,39.91 299.71,36.93 300.01,40 300.31,37.51 300.61,41.15 300.81,33.06 300.91,39.51 301.11,48.06 301.21,33.34 301.46,32.61 301.51,32.82 301.81,37.81 302.11,35.68 302.41,37.28 302.71,33.9 303.01,32.44 303.31,31.74 303.61,33.53 303.91,31.61 304.21,31.41 304.91,31.26 305.61,31.12 306.31,30.99 307.01,30.87 307.71,30.75 308.41,30.63 309.11,30.53 309.81,30.43 310.51,30.33 311.21,30.24 311.91,30.15 312.61,30.07 313.31,30 314.01,29.92 314.71,29.85 315.41,29.79 316.11,29.73 316.81,29.67 317.51,29.61 318.21,29.56 318.91,29.51 319.61,29.46 320.31,29.41 321.01,29.37 321.71,29.33 322.41,29.29 323.11,29.26 323.81,29.22 324.51,29.19"/>
</g>
</g>
<line x1="29.7" y1="150.2" x2="29.7" y2="147.2" stroke="#262626" stroke-width="0.8"/>
<line x1="29.7" y1="28.6" x2="29.7" y2="31.6" stroke="#262626" stroke-width="0.8"/>
<line x1="66.61" y1="150.2" x2="66.61" y2="147.2" stroke="#262626" stroke-width="0.8"/>
<line x1="66.61" y1="28.6" x2="66.61" y2="31.6" stroke="#262626" stroke-width="0.8"/>
<line x1="103.53" y1="150.2" x2="103.53" y2="147.2" stroke="#262626" stroke-width="0.8"/>
<line x1="103.53" y1="28.6" x2="103.53" y2="31.6" stroke="#262626" stroke-width="0.8"/>
<line x1="140.44" y1="150.2" x2="140.44" y2="147.2" stroke="#262626" stroke-width="0.8"/>
<line x1="140.44" y1="28.6" x2="140.44" y2="31.6" stroke="#262626" stroke-width="0.8"/>
<line x1="177.35" y1="150.2" x2="177.35" y2="147.2" stroke="#262626" stroke-width="0.8"/>
<line x1="177.35" y1="28.6" x2="177.35" y2="31.6" stroke="#262626" stroke-width="0.8"/>
<line x1="214.26" y1="150.2" x2="214.26" y2="147.2" stroke="#262626" stroke-width="0.8"/>
<line x1="214.26" y1="28.6" x2="214.26" y2="31.6" stroke="#262626" stroke-width="0.8"/>
<line x1="251.18" y1="150.2" x2="251.18" y2="147.2" stroke="#262626" stroke-width="0.8"/>
<line x1="251.18" y1="28.6" x2="251.18" y2="31.6" stroke="#262626" stroke-width="0.8"/>
<line x1="288.09" y1="150.2" x2="288.09" y2="147.2" stroke="#262626" stroke-width="0.8"/>
<line x1="288.09" y1="28.6" x2="288.09" y2="31.6" stroke="#262626" stroke-width="0.8"/>
<line x1="325" y1="150.2" x2="325" y2="147.2" stroke="#262626" stroke-width="0.8"/>
<line x1="325" y1="28.6" x2="325" y2="31.6" stroke="#262626" stroke-width="0.8"/>
<line x1="29.7" y1="150.2" x2="32.7" y2="150.2" stroke="#262626" stroke-width="0.8"/>
<line x1="29.7" y1="129.93" x2="32.7" y2="129.93" stroke="#262626" stroke-width="0.8"/>
<line x1="29.7" y1="109.67" x2="32.7" y2="109.67" stroke="#262626" stroke-width="0.8"/>
<line x1="29.7" y1="89.4" x2="32.7" y2="89.4" stroke="#262626" stroke-width="0.8"/>
<line x1="29.7" y1="69.13" x2="32.7" y2="69.13" stroke="#262626" stroke-width="0.8"/>
<line x1="29.7" y1="48.87" x2="32.7" y2="48.87" stroke="#262626" stroke-width="0.8"/>
<line x1="29.7" y1="28.6" x2="32.7" y2="28.6" stroke="#262626" stroke-width="0.8"/>
<line x1="325" y1="150.2" x2="322" y2="150.2" stroke="#3f9a35" stroke-width="0.8"/>
<line x1="325" y1="109.67" x2="322" y2="109.67" stroke="#3f9a35" stroke-width="0.8"/>
<line x1="325" y1="69.13" x2="322" y2="69.13" stroke="#3f9a35" stroke-width="0.8"/>
<line x1="325" y1="28.6" x2="322" y2="28.6" stroke="#3f9a35" stroke-width="0.8"/>
<polyline fill="none" stroke="#262626" stroke-width="0.9" points="325,28.6 29.7,28.6 29.7,150.2 325,150.2"/>
<line x1="325" y1="28.15" x2="325" y2="150.65" stroke="#3f9a35" stroke-width="0.9"/>
<text x="26.9" y="153.2" text-anchor="end" font-size="9.3" fill="#262626">0</text>
<text x="26.9" y="132.93" text-anchor="end" font-size="9.3" fill="#262626">50</text>
<text x="26.9" y="112.67" text-anchor="end" font-size="9.3" fill="#262626">100</text>
<text x="26.9" y="92.4" text-anchor="end" font-size="9.3" fill="#262626">150</text>
<text x="26.9" y="72.13" text-anchor="end" font-size="9.3" fill="#262626">200</text>
<text x="26.9" y="51.87" text-anchor="end" font-size="9.3" fill="#262626">250</text>
<text x="26.9" y="31.6" text-anchor="end" font-size="9.3" fill="#262626">300</text>
<text x="29.7" y="160.9" text-anchor="middle" font-size="9.3" fill="#262626">5</text>
<text x="66.61" y="160.9" text-anchor="middle" font-size="9.3" fill="#262626">5.5</text>
<text x="103.53" y="160.9" text-anchor="middle" font-size="9.3" fill="#262626">6</text>
<text x="140.44" y="160.9" text-anchor="middle" font-size="9.3" fill="#262626">6.5</text>
<text x="177.35" y="160.9" text-anchor="middle" font-size="9.3" fill="#262626">7</text>
<text x="214.26" y="160.9" text-anchor="middle" font-size="9.3" fill="#262626">7.5</text>
<text x="251.18" y="160.9" text-anchor="middle" font-size="9.3" fill="#262626">8</text>
<text x="288.09" y="160.9" text-anchor="middle" font-size="9.3" fill="#262626">8.5</text>
<text x="325" y="160.9" text-anchor="middle" font-size="9.3" fill="#262626">9</text>
<text x="327.6" y="153.2" font-size="9.3" fill="#3f9a35">0</text>
<text x="327.6" y="112.67" font-size="9.3" fill="#3f9a35">0.5</text>
<text x="327.6" y="72.13" font-size="9.3" fill="#3f9a35">1</text>
<text x="327.6" y="31.6" font-size="9.3" fill="#3f9a35">1.5</text>
<text x="305.3" y="173.1" font-size="9.3" fill="#262626">×10<tspan font-size="6.5" dy="-3.6">4</tspan></text>
<text x="178.15" y="172.4" text-anchor="middle" font-size="9.8" fill="#262626">Time (Roundtrips)</text>
<text transform="translate(8.6,90) rotate(-90)" text-anchor="middle" font-size="10" fill="#262626">Output power (a.u.)</text>
<text transform="translate(350.2,89.1) rotate(-90)" text-anchor="middle" font-size="10" fill="#3f9a35">Normalized phase difference</text>
<rect x="67.8" y="6.5" width="219.6" height="13.6" fill="#fff" stroke="#262626" stroke-width="0.8"/>
<line x1="69" y1="13.6" x2="79.6" y2="13.6" stroke="#202020" stroke-width="0.9"/>
<line x1="90.7" y1="13.6" x2="101.2" y2="13.6" stroke="#d42828" stroke-width="0.9"/>
<line x1="129" y1="13.6" x2="139.9" y2="13.6" stroke="#3d63e8" stroke-width="0.9"/>
<line x1="199.9" y1="13.6" x2="210.7" y2="13.6" stroke="#5aae4d" stroke-width="0.7" stroke-dasharray="3.5,1"/>
<text x="81.4" y="15.9" font-size="9.9" fill="#262626">I<tspan font-size="7.2" dy="1.9">x</tspan></text>
<text x="103.1" y="15.9" font-size="9.9" fill="#262626">I<tspan font-size="7.2" dy="1.9">y</tspan><tspan dy="-1.9">+50</tspan></text>
<text x="141.4" y="15.9" font-size="9.9" fill="#262626">I=(I<tspan font-size="7.2" dy="1.9">x</tspan><tspan dy="-1.9">+I</tspan><tspan font-size="7.2" dy="1.9">y</tspan><tspan dy="-1.9">)+150</tspan></text>
<text x="211.5" y="15.9" font-size="9.9" fill="#262626">Phase difference</text>
<text x="5.9" y="16.3" font-size="19.2" font-weight="bold" fill="#000" stroke="#000" stroke-width="0.45">a</text>
<g clip-path="url(#clipc)">
<polyline fill="none" stroke="#1e1e1e" stroke-width="0.95" stroke-linejoin="round" points="29.12,319.1 30.12,319.1 31.12,319.1 32.12,319.1 33.12,319.1 34.12,319.1 35.12,319.1 36.12,319.1 37.12,319.1 38.12,319.1 39.12,319.1 40.12,319.1 41.12,319.1 42.54,319.34 43.45,319.51 43.5,298.31 43.55,319.3 44.4,319.51 45.84,319.63 46.45,319.51 46.5,300.33 46.55,319.3 47.4,319.51 49.24,319.63 49.45,319.51 49.5,305.2 49.55,319.3 50.4,319.51 52.24,319.63 52.45,319.51 52.5,307.63 52.55,319.3 53.34,319.34 53.64,319.17 53.94,319.68 54.24,318.87 54.54,319.96 54.84,318.6 55.14,320.06 55.44,318.52 55.74,320.33 56.04,318.3 56.34,320.41 56.64,318.1 57.2,319.1 57.5,314.11 57.8,319.1 57.84,318.27 58.14,320.34 58.44,318.28 58.74,320.03 59.04,318.51 59.34,319.63 59.64,318.74 59.94,319.42 60.24,318.88 60.54,319.1 61.04,319.1 62.04,319.1 63.04,319.1 64.04,319.1 65.04,319.1 66.04,319.1 67.04,319.1 68.04,319.1 69.04,319.1 70.04,319.1 71.04,319.1 72.04,319.1 73.04,319.1 74.04,319.1 75.04,319.1 76.04,319.1 77.04,319.1 78.04,319.1 79.45,319.34 80.45,319.51 80.5,298.31 80.55,319.3 81.4,319.51 82.75,319.63 83.45,319.51 83.5,300.33 83.55,319.3 84.4,319.51 86.15,319.63 86.45,319.51 86.5,305.2 86.55,319.3 87.4,319.51 89.15,319.63 89.45,319.51 89.5,307.63 89.55,319.3 90.25,319.34 90.55,319.21 90.85,319.7 91.15,318.92 91.45,319.94 91.75,318.49 92.05,320.31 92.35,318.3 92.65,320.45 92.95,318.16 93.25,320.25 93.55,318.2 94.2,319.1 94.5,314.11 94.75,318.22 94.8,319.1 95.05,320.34 95.35,318.43 95.65,320 95.95,318.46 96.25,319.59 96.55,318.71 96.85,319.55 97.15,318.86 97.45,319.1 97.45,319.1 97.95,319.1 98.95,319.1 99.95,319.1 100.95,319.1 101.95,319.1 102.95,319.1 103.95,319.1 104.95,319.1 105.95,319.1 106.95,319.1 107.95,319.1 108.95,319.1 109.95,319.1 110.95,319.1 111.95,319.1 112.95,319.1 113.95,319.1 114.95,319.1 116.36,319.34 116.45,319.51 116.5,298.31 116.55,319.3 117.4,319.51 119.66,319.63 120.45,319.51 120.5,300.33 120.55,319.3 121.4,319.51 123.06,319.63 123.45,319.51 123.5,305.2 123.55,319.3 124.4,319.51 126.06,319.63 126.45,319.51 126.5,307.63 126.55,319.3 127.16,319.34 127.46,319.21 127.76,319.7 128.06,318.92 128.36,319.81 128.66,318.29 128.96,320.23 129.26,318.39 129.56,320.02 129.86,318.33 130.16,320.15 130.46,318.25 131.2,319.1 131.5,314.11 131.66,318.46 131.8,319.1 131.96,319.96 132.26,318.44 132.56,319.91 132.86,318.54 133.16,319.75 133.46,318.71 133.76,319.55 134.06,318.84 134.36,319.1 134.36,319.1 134.86,319.1 135.86,319.1 136.86,319.1 137.86,319.1 138.86,319.1 139.86,319.1 140.86,319.1 141.86,319.1 142.86,319.1 143.86,319.1 144.86,319.1 145.86,319.1 146.86,319.1 147.86,319.1 148.86,319.1 149.86,319.1 150.86,319.1 151.86,319.1 153.27,319.34 153.45,319.51 153.5,298.31 153.55,319.3 154.4,319.51 156.57,319.63 157.45,319.51 157.5,300.33 157.55,319.3 158.4,319.51 159.97,319.63 160.45,319.51 160.5,305.2 160.55,319.3 161.4,319.51 162.97,319.63 163.45,319.51 163.5,307.63 163.55,319.3 164.07,319.34 164.37,319.17 164.67,319.69 164.97,318.93 165.27,319.85 165.57,318.5 165.87,320.34 166.17,318.1 166.47,320.41 166.77,318.14 167.07,320 167.2,319.1 167.37,318.03 167.5,314.11 167.8,319.1 168.57,318.16 168.87,319.93 169.17,318.42 169.47,319.98 169.77,318.51 170.07,319.7 170.37,318.59 170.67,319.53 170.97,318.89 171.27,319.1 171.27,319.1 171.77,319.1 172.77,319.1 173.77,319.1 174.77,319.1 175.77,319.1 176.77,319.1 177.77,319.1 178.77,319.1 179.77,319.1 180.77,319.1 181.77,319.1 182.77,319.1 183.77,319.1 184.77,319.1 185.77,319.1 186.77,319.1 187.77,319.1 188.77,319.1 190.19,319.34 190.45,319.51 190.5,298.31 190.55,319.3 191.4,319.51 193.49,319.63 194.45,319.51 194.5,300.33 194.55,319.3 195.4,319.51 196.89,319.63 197.45,319.51 197.5,305.2 197.55,319.3 198.4,319.51 199.89,319.63 200.45,319.51 200.5,307.63 200.55,319.3 200.99,319.34 201.29,319.13 201.59,319.66 201.89,318.71 202.19,319.8 202.49,318.33 202.79,320.28 203.09,318.2 203.39,320.09 203.69,318.26 203.99,320.11 204.2,319.1 204.29,318.45 204.5,314.11 204.8,319.1 205.49,318.46 205.79,320.31 206.09,318.24 206.39,319.82 206.69,318.56 206.99,319.71 207.29,318.58 207.59,319.41 207.89,318.84 208.19,319.1 208.19,319.1 208.69,319.1 209.69,319.1 210.69,319.1 211.69,319.1 212.69,319.1 213.69,319.1 214.69,319.1 215.69,319.1 216.69,319.1 217.69,319.1 218.69,319.1 219.69,319.1 220.69,319.1 221.69,319.1 222.69,319.1 223.69,319.1 224.69,319.1 225.69,319.1 227.1,319.34 227.45,319.51 227.5,298.31 227.55,319.3 228.4,319.51 230.4,319.63 230.45,319.51 230.5,300.33 230.55,319.3 231.4,319.51 233.8,319.63 234.45,319.51 234.5,305.2 234.55,319.3 235.4,319.51 236.8,319.63 237.45,319.51 237.5,307.63 237.55,319.3 237.9,319.34 238.2,319.16 238.5,319.62 238.8,318.78 239.1,319.82 239.4,318.49 239.7,320.3 240,318.24 240.3,320.33 240.6,318.09 240.9,320.09 241.2,318.43 241.2,319.1 241.5,314.11 241.8,319.1 242.4,318.27 242.7,320.15 243,318.12 243.3,320.01 243.6,318.39 243.9,319.86 244.2,318.71 244.5,319.43 244.8,318.9 245.1,319.1 245.1,319.1 245.6,319.1 246.6,319.1 247.6,319.1 248.6,319.1 249.6,319.1 250.6,319.1 251.6,319.1 252.6,319.1 253.6,319.1 254.6,319.1 255.6,319.1 256.6,319.1 257.6,319.1 258.6,319.1 259.6,319.1 260.6,319.1 261.6,319.1 262.6,319.1 264.01,319.34 264.45,319.51 264.5,298.31 264.55,319.3 265.4,319.51 267.31,319.63 267.45,319.51 267.5,300.33 267.55,319.3 268.4,319.51 270.71,319.63 271.45,319.51 271.5,305.2 271.55,319.3 272.4,319.51 273.71,319.63 274.45,319.51 274.5,307.63 274.55,319.3 274.81,319.34 275.11,319.13 275.41,319.59 275.71,318.82 276.01,320.01 276.31,318.48 276.61,320.46 276.91,318.18 277.21,320.42 277.51,318.47 277.81,320.07 278.11,318.47 278.2,319.1 278.5,314.11 278.8,319.1 279.31,318.06 279.61,320.34 279.91,318.52 280.21,320.04 280.51,318.4 280.81,319.84 281.11,318.71 281.41,319.52 281.71,318.92 282.01,319.1 282.51,319.1 283.51,319.1 284.51,319.1 285.51,319.1 286.51,319.1 287.51,319.1 288.51,319.1 289.51,319.1 290.51,319.1 291.51,319.1 292.51,319.1 293.51,319.1 294.51,319.1 295.51,319.1 296.51,319.1 297.51,319.1 298.51,319.1 299.51,319.1 300.92,319.34 301.45,319.51 301.5,298.31 301.55,319.3 302.4,319.51 304.22,319.63 304.45,319.51 304.5,300.33 304.55,319.3 305.4,319.51 307.62,319.63 308.45,319.51 308.5,305.2 308.55,319.3 309.4,319.51 310.62,319.63 311.45,319.51 311.5,307.63 311.55,319.3 311.72,319.34 312.02,319.15 312.32,319.57 312.62,318.78 312.92,319.88 313.22,318.49 313.52,320.45 313.82,318.42 314.12,320.22 314.42,318.35 314.72,320.06 315.02,318.27 315.2,319.1 315.5,314.11 315.8,319.1 316.22,318.37 316.52,320.26 316.82,318.27 317.12,319.85 317.42,318.31 317.72,319.67 318.02,318.62 318.32,319.52 318.62,318.92 318.92,319.1 319.42,319.1 320.42,319.1 321.42,319.1 322.42,319.1 323.42,319.1 324.42,319.1 325.42,319.1"/>
<polyline fill="none" stroke="#d42828" stroke-width="1.15" stroke-linejoin="round" points="29.12,298.59 30.12,298.59 31.12,298.59 32.12,298.59 33.12,298.59 34.12,298.59 35.12,298.59 36.12,298.59 37.12,298.59 38.12,298.59 39.12,298.59 40.12,298.59 41.12,298.59 42.54,299.08 43.45,299.4 43.5,278.61 43.55,299.81 44.4,299.4 45.84,299.64 46.45,299.4 46.5,280.47 46.55,299.81 47.4,299.4 49.24,299.64 49.45,299.4 49.5,288.01 49.55,299.81 50.4,299.4 52.24,299.64 52.45,299.4 52.5,286.15 52.55,299.81 53.34,299.08 53.64,298.82 53.94,299.45 54.24,298.14 54.54,299.87 54.84,297.49 55.14,300.13 55.44,297.53 55.74,300.33 56.04,297.28 56.34,300.22 56.64,297.4 57.2,298.59 57.5,293.85 57.8,298.59 57.84,297.63 58.14,300.03 58.44,297.3 58.74,299.64 59.04,297.7 59.34,299.43 59.64,298.06 59.94,299.06 60.24,298.23 60.54,298.59 61.04,298.59 62.04,298.59 63.04,298.59 64.04,298.59 65.04,298.59 66.04,298.59 67.04,298.59 68.04,298.59 69.04,298.59 70.04,298.59 71.04,298.59 72.04,298.59 73.04,298.59 74.04,298.59 75.04,298.59 76.04,298.59 77.04,298.59 78.04,298.59 79.45,299.08 80.45,299.4 80.5,278.61 80.55,299.81 81.4,299.4 82.75,299.64 83.45,299.4 83.5,280.47 83.55,299.81 84.4,299.4 86.15,299.64 86.45,299.4 86.5,288.01 86.55,299.81 87.4,299.4 89.15,299.64 89.45,299.4 89.5,286.15 89.55,299.81 90.25,299.08 90.55,298.83 90.85,299.5 91.15,298.2 91.45,300.02 91.75,297.51 92.05,300.72 92.35,297.49 92.65,300.49 92.95,297.4 93.25,300.19 93.55,297.43 94.2,298.59 94.5,293.85 94.75,297.15 94.8,298.59 95.05,300.2 95.35,297.36 95.65,299.86 95.95,297.45 96.25,299.66 96.55,298.07 96.85,299.25 97.15,298.21 97.45,298.59 97.45,298.59 97.95,298.59 98.95,298.59 99.95,298.59 100.95,298.59 101.95,298.59 102.95,298.59 103.95,298.59 104.95,298.59 105.95,298.59 106.95,298.59 107.95,298.59 108.95,298.59 109.95,298.59 110.95,298.59 111.95,298.59 112.95,298.59 113.95,298.59 114.95,298.59 116.36,299.08 116.45,299.4 116.5,278.61 116.55,299.81 117.4,299.4 119.66,299.64 120.45,299.4 120.5,280.47 120.55,299.81 121.4,299.4 123.06,299.64 123.45,299.4 123.5,288.01 123.55,299.81 124.4,299.4 126.06,299.64 126.45,299.4 126.5,286.15 126.55,299.81 127.16,299.08 127.46,298.83 127.76,299.46 128.06,298.45 128.36,299.95 128.66,297.55 128.96,300.61 129.26,297.36 129.56,300.63 129.86,297.32 130.16,300.13 130.46,297.17 131.2,298.59 131.5,293.85 131.66,297.41 131.8,298.59 131.96,300.44 132.26,297.56 132.56,299.63 132.86,297.56 133.16,299.37 133.46,297.81 133.76,299.14 134.06,298.24 134.36,298.59 134.36,298.59 134.86,298.59 135.86,298.59 136.86,298.59 137.86,298.59 138.86,298.59 139.86,298.59 140.86,298.59 141.86,298.59 142.86,298.59 143.86,298.59 144.86,298.59 145.86,298.59 146.86,298.59 147.86,298.59 148.86,298.59 149.86,298.59 150.86,298.59 151.86,298.59 153.27,299.08 153.45,299.4 153.5,278.61 153.55,299.81 154.4,299.4 156.57,299.64 157.45,299.4 157.5,280.47 157.55,299.81 158.4,299.4 159.97,299.64 160.45,299.4 160.5,288.01 160.55,299.81 161.4,299.4 162.97,299.64 163.45,299.4 163.5,286.15 163.55,299.81 164.07,299.08 164.37,298.79 164.67,299.43 164.97,298.25 165.27,299.79 165.57,297.88 165.87,300.32 166.17,297.39 166.47,300.1 166.77,297.67 167.07,300.54 167.2,298.59 167.37,297.24 167.5,293.85 167.8,298.59 168.57,297.35 168.87,300.01 169.17,297.32 169.47,299.85 169.77,297.77 170.07,299.7 170.37,298.05 170.67,299.25 170.97,298.26 171.27,298.59 171.27,298.59 171.77,298.59 172.77,298.59 173.77,298.59 174.77,298.59 175.77,298.59 176.77,298.59 177.77,298.59 178.77,298.59 179.77,298.59 180.77,298.59 181.77,298.59 182.77,298.59 183.77,298.59 184.77,298.59 185.77,298.59 186.77,298.59 187.77,298.59 188.77,298.59 190.19,299.08 190.45,299.4 190.5,278.61 190.55,299.81 191.4,299.4 193.49,299.64 194.45,299.4 194.5,280.47 194.55,299.81 195.4,299.4 196.89,299.64 197.45,299.4 197.5,288.01 197.55,299.81 198.4,299.4 199.89,299.64 200.45,299.4 200.5,286.15 200.55,299.81 200.99,299.08 201.29,298.78 201.59,299.62 201.89,298.13 202.19,299.85 202.49,297.96 202.79,300.7 203.09,297.69 203.39,300.17 203.69,297.21 203.99,300.67 204.2,298.59 204.29,297.14 204.5,293.85 204.8,298.59 205.49,297.3 205.79,300.08 206.09,297.13 206.39,300 206.69,297.61 206.99,299.33 207.29,298.05 207.59,299.04 207.89,298.21 208.19,298.59 208.19,298.59 208.69,298.59 209.69,298.59 210.69,298.59 211.69,298.59 212.69,298.59 213.69,298.59 214.69,298.59 215.69,298.59 216.69,298.59 217.69,298.59 218.69,298.59 219.69,298.59 220.69,298.59 221.69,298.59 222.69,298.59 223.69,298.59 224.69,298.59 225.69,298.59 227.1,299.08 227.45,299.4 227.5,278.61 227.55,299.81 228.4,299.4 230.4,299.64 230.45,299.4 230.5,280.47 230.55,299.81 231.4,299.4 233.8,299.64 234.45,299.4 234.5,288.01 234.55,299.81 235.4,299.4 236.8,299.64 237.45,299.4 237.5,286.15 237.55,299.81 237.9,299.08 238.2,298.8 238.5,299.45 238.8,298.27 239.1,300.19 239.4,297.54 239.7,300.23 240,297.17 240.3,300.3 240.6,297.42 240.9,300.21 241.2,297.03 241.2,298.59 241.5,293.85 241.8,298.59 242.4,297.45 242.7,300.33 243,297.37 243.3,299.97 243.6,297.88 243.9,299.56 244.2,297.77 244.5,299.18 244.8,298.33 245.1,298.59 245.1,298.59 245.6,298.59 246.6,298.59 247.6,298.59 248.6,298.59 249.6,298.59 250.6,298.59 251.6,298.59 252.6,298.59 253.6,298.59 254.6,298.59 255.6,298.59 256.6,298.59 257.6,298.59 258.6,298.59 259.6,298.59 260.6,298.59 261.6,298.59 262.6,298.59 264.01,299.08 264.45,299.4 264.5,278.61 264.55,299.81 265.4,299.4 267.31,299.64 267.45,299.4 267.5,280.47 267.55,299.81 268.4,299.4 270.71,299.64 271.45,299.4 271.5,288.01 271.55,299.81 272.4,299.4 273.71,299.64 274.45,299.4 274.5,286.15 274.55,299.81 274.81,299.08 275.11,298.78 275.41,299.41 275.71,298.45 276.01,300.04 276.31,297.53 276.61,300.37 276.91,297.39 277.21,300.2 277.51,297.6 277.81,300.32 278.11,297.6 278.2,298.59 278.5,293.85 278.8,298.59 279.31,297.35 279.61,299.91 279.91,297.18 280.21,299.95 280.51,297.88 280.81,299.41 281.11,297.82 281.41,299.13 281.71,298.32 282.01,298.59 282.51,298.59 283.51,298.59 284.51,298.59 285.51,298.59 286.51,298.59 287.51,298.59 288.51,298.59 289.51,298.59 290.51,298.59 291.51,298.59 292.51,298.59 293.51,298.59 294.51,298.59 295.51,298.59 296.51,298.59 297.51,298.59 298.51,298.59 299.51,298.59 300.92,299.08 301.45,299.4 301.5,278.61 301.55,299.81 302.4,299.4 304.22,299.64 304.45,299.4 304.5,280.47 304.55,299.81 305.4,299.4 307.62,299.64 308.45,299.4 308.5,288.01 308.55,299.81 309.4,299.4 310.62,299.64 311.45,299.4 311.5,286.15 311.55,299.81 311.72,299.08 312.02,298.79 312.32,299.54 312.62,298.16 312.92,299.81 313.22,297.61 313.52,300.65 313.82,297.24 314.12,300.55 314.42,297.48 314.72,300 315.02,297.29 315.2,298.59 315.5,293.85 315.8,298.59 316.22,297.66 316.52,299.87 316.82,297.51 317.12,299.65 317.42,297.7 317.72,299.69 318.02,298.06 318.32,299.24 318.62,298.2 318.92,298.59 319.42,298.59 320.42,298.59 321.42,298.59 322.42,298.59 323.42,298.59 324.42,298.59 325.42,298.59"/>
<polyline fill="none" stroke="#3d63e8" stroke-width="1.15" stroke-linejoin="round" points="29.12,255.34 30.12,255.34 31.12,255.34 32.12,255.34 33.12,255.34 34.12,255.34 35.12,255.34 36.12,255.34 37.12,255.34 38.12,255.34 39.12,255.34 40.12,255.34 41.12,255.34 42.54,256.31 43.45,256.96 43.5,216.83 43.55,258.99 44.4,256.96 45.84,257.45 46.45,256.96 46.5,219.02 46.55,258.99 47.4,256.96 49.24,257.45 49.45,256.96 49.5,231.02 49.55,258.99 50.4,256.96 52.24,257.45 52.45,256.96 52.5,232.03 52.55,258.99 53.34,256.31 53.64,255.9 53.94,257.13 54.24,254.94 54.54,257.81 54.84,254.33 55.14,259.09 55.44,253.46 55.74,259.06 56.04,253.96 56.34,258.45 56.64,253.44 57.2,255.34 57.5,245.61 57.8,255.34 57.84,252.67 58.14,258.41 58.44,253.32 58.74,257.29 59.04,253.58 59.34,257.35 59.64,254.03 59.94,256.59 60.24,254.77 60.54,255.34 61.04,255.34 62.04,255.34 63.04,255.34 64.04,255.34 65.04,255.34 66.04,255.34 67.04,255.34 68.04,255.34 69.04,255.34 70.04,255.34 71.04,255.34 72.04,255.34 73.04,255.34 74.04,255.34 75.04,255.34 76.04,255.34 77.04,255.34 78.04,255.34 79.45,256.31 80.45,256.96 80.5,216.83 80.55,258.99 81.4,256.96 82.75,257.45 83.45,256.96 83.5,219.02 83.55,258.99 84.4,256.96 86.15,257.45 86.45,256.96 86.5,231.02 86.55,258.99 87.4,256.96 89.15,257.45 89.45,256.96 89.5,232.03 89.55,258.99 90.25,256.31 90.55,255.9 90.85,257.23 91.15,254.69 91.45,258 91.75,253.64 92.05,258.65 92.35,252.98 92.65,258.84 92.95,253.69 93.25,258.62 93.55,253.07 94.2,255.34 94.5,245.61 94.75,253.5 94.8,255.34 95.05,258.72 95.35,252.99 95.65,257.27 95.95,253.99 96.25,256.66 96.55,253.92 96.85,256.22 97.15,254.7 97.45,255.34 97.45,255.34 97.95,255.34 98.95,255.34 99.95,255.34 100.95,255.34 101.95,255.34 102.95,255.34 103.95,255.34 104.95,255.34 105.95,255.34 106.95,255.34 107.95,255.34 108.95,255.34 109.95,255.34 110.95,255.34 111.95,255.34 112.95,255.34 113.95,255.34 114.95,255.34 116.36,256.31 116.45,256.96 116.5,216.83 116.55,258.99 117.4,256.96 119.66,257.45 120.45,256.96 120.5,219.02 120.55,258.99 121.4,256.96 123.06,257.45 123.45,256.96 123.5,231.02 123.55,258.99 124.4,256.96 126.06,257.45 126.45,256.96 126.5,232.03 126.55,258.99 127.16,256.31 127.46,255.9 127.76,256.99 128.06,254.72 128.36,257.77 128.66,254.34 128.96,259.24 129.26,253.42 129.56,258.02 129.86,252.74 130.16,258.73 130.46,253.35 131.2,255.34 131.5,245.61 131.66,253.57 131.8,255.34 131.96,258.42 132.26,253.8 132.56,258.08 132.86,253.51 133.16,257.21 133.46,254.03 133.76,256.55 134.06,254.81 134.36,255.34 134.36,255.34 134.86,255.34 135.86,255.34 136.86,255.34 137.86,255.34 138.86,255.34 139.86,255.34 140.86,255.34 141.86,255.34 142.86,255.34 143.86,255.34 144.86,255.34 145.86,255.34 146.86,255.34 147.86,255.34 148.86,255.34 149.86,255.34 150.86,255.34 151.86,255.34 153.27,256.31 153.45,256.96 153.5,216.83 153.55,258.99 154.4,256.96 156.57,257.45 157.45,256.96 157.5,219.02 157.55,258.99 158.4,256.96 159.97,257.45 160.45,256.96 160.5,231.02 160.55,258.99 161.4,256.96 162.97,257.45 163.45,256.96 163.5,232.03 163.55,258.99 164.07,256.31 164.37,255.8 164.67,257.21 164.97,255.08 165.27,257.55 165.57,253.5 165.87,259.17 166.17,253.94 166.47,258.7 166.77,253.77 167.07,258.12 167.2,255.34 167.37,252.72 167.5,245.61 167.8,255.34 168.57,252.9 168.87,258.5 169.17,253.59 169.47,257.92 169.77,253.59 170.07,256.93 170.37,254.2 170.67,256.25 170.97,254.77 171.27,255.34 171.27,255.34 171.77,255.34 172.77,255.34 173.77,255.34 174.77,255.34 175.77,255.34 176.77,255.34 177.77,255.34 178.77,255.34 179.77,255.34 180.77,255.34 181.77,255.34 182.77,255.34 183.77,255.34 184.77,255.34 185.77,255.34 186.77,255.34 187.77,255.34 188.77,255.34 190.19,256.31 190.45,256.96 190.5,216.83 190.55,258.99 191.4,256.96 193.49,257.45 194.45,256.96 194.5,219.02 194.55,258.99 195.4,256.96 196.89,257.45 197.45,256.96 197.5,231.02 197.55,258.99 198.4,256.96 199.89,257.45 200.45,256.96 200.5,232.03 200.55,258.99 200.99,256.31 201.29,255.76 201.59,257.17 201.89,254.83 202.19,257.55 202.49,253.6 202.79,258.82 203.09,252.85 203.39,259.15 203.69,252.8 203.99,258.55 204.2,255.34 204.29,252.92 204.5,245.61 204.8,255.34 205.49,253.63 205.79,257.6 206.09,253.01 206.39,257.81 206.69,253.34 206.99,256.9 207.29,254.2 207.59,256.51 207.89,254.77 208.19,255.34 208.19,255.34 208.69,255.34 209.69,255.34 210.69,255.34 211.69,255.34 212.69,255.34 213.69,255.34 214.69,255.34 215.69,255.34 216.69,255.34 217.69,255.34 218.69,255.34 219.69,255.34 220.69,255.34 221.69,255.34 222.69,255.34 223.69,255.34 224.69,255.34 225.69,255.34 227.1,256.31 227.45,256.96 227.5,216.83 227.55,258.99 228.4,256.96 230.4,257.45 230.45,256.96 230.5,219.02 230.55,258.99 231.4,256.96 233.8,257.45 234.45,256.96 234.5,231.02 234.55,258.99 235.4,256.96 236.8,257.45 237.45,256.96 237.5,232.03 237.55,258.99 237.9,256.31 238.2,255.77 238.5,257.25 238.8,254.63 239.1,257.79 239.4,253.51 239.7,258.42 240,253.31 240.3,259.21 240.6,253.17 240.9,258.62 241.2,253.45 241.2,255.34 241.5,245.61 241.8,255.34 242.4,253.09 242.7,258.16 243,253.14 243.3,257.68 243.6,253.9 243.9,256.81 244.2,253.89 244.5,256.43 244.8,254.89 245.1,255.34 245.1,255.34 245.6,255.34 246.6,255.34 247.6,255.34 248.6,255.34 249.6,255.34 250.6,255.34 251.6,255.34 252.6,255.34 253.6,255.34 254.6,255.34 255.6,255.34 256.6,255.34 257.6,255.34 258.6,255.34 259.6,255.34 260.6,255.34 261.6,255.34 262.6,255.34 264.01,256.31 264.45,256.96 264.5,216.83 264.55,258.99 265.4,256.96 267.31,257.45 267.45,256.96 267.5,219.02 267.55,258.99 268.4,256.96 270.71,257.45 271.45,256.96 271.5,231.02 271.55,258.99 272.4,256.96 273.71,257.45 274.45,256.96 274.5,232.03 274.55,258.99 274.81,256.31 275.11,255.9 275.41,257.27 275.71,254.87 276.01,258.04 276.31,253.77 276.61,258.23 276.91,252.88 277.21,259.03 277.51,253.81 277.81,258.59 278.11,253.24 278.2,255.34 278.5,245.61 278.8,255.34 279.31,253.36 279.61,258.02 279.91,253.62 280.21,257.77 280.51,253.8 280.81,256.74 281.11,254.37 281.41,256.21 281.71,254.76 282.01,255.34 282.51,255.34 283.51,255.34 284.51,255.34 285.51,255.34 286.51,255.34 287.51,255.34 288.51,255.34 289.51,255.34 290.51,255.34 291.51,255.34 292.51,255.34 293.51,255.34 294.51,255.34 295.51,255.34 296.51,255.34 297.51,255.34 298.51,255.34 299.51,255.34 300.92,256.31 301.45,256.96 301.5,216.83 301.55,258.99 302.4,256.96 304.22,257.45 304.45,256.96 304.5,219.02 304.55,258.99 305.4,256.96 307.62,257.45 308.45,256.96 308.5,231.02 308.55,258.99 309.4,256.96 310.62,257.45 311.45,256.96 311.5,232.03 311.55,258.99 311.72,256.31 312.02,255.86 312.32,257.12 312.62,254.81 312.92,257.64 313.22,254.43 313.52,259.26 313.82,253.84 314.12,258.25 314.42,253.09 314.72,259.13 315.02,253.76 315.2,255.34 315.5,245.61 315.8,255.34 316.22,253.24 316.52,258.62 316.82,253.82 317.12,257.38 317.42,253.64 317.72,257.3 318.02,254.45 318.32,256.33 318.62,254.77 318.92,255.34 319.42,255.34 320.42,255.34 321.42,255.34 322.42,255.34 323.42,255.34 324.42,255.34 325.42,255.34"/>
<g fill="none" stroke="#5aae4d" stroke-width="0.6" stroke-dasharray="2.8,0.9">
<polyline stroke-dashoffset="3.2" points="29.92,199.69 30.62,199.61 31.32,199.54 32.02,199.47 32.72,199.42 33.5,199"/>
<line x1="33.5" y1="199" x2="33.5" y2="320.6" stroke-dashoffset="2.45"/>
<polyline stroke-dashoffset="3.4" points="33.5,320.6 34.3,320.47 35.3,320.25 36.3,320 37.3,319.74 38.3,319.46 39.3,319.17 40.3,318.87 41.3,318.56 42.3,318.24 42.5,318.17"/>
<line x1="42.5" y1="318.17" x2="42.5" y2="199.43" stroke-dashoffset="2.92"/>
<polyline stroke-dashoffset="1.63" points="42.5,199.43 42.8,200.05 43.1,206.46 43.4,200.76 43.7,199.28 44,199.82 44.5,200.46"/>
<line x1="44.5" y1="200.46" x2="44.5" y2="319.86" stroke-dashoffset="0.39"/>
<polyline stroke-dashoffset="1.81" points="44.5,319.86 45.5,319.85 46.5,319.32"/>
<line x1="46.5" y1="319.32" x2="46.5" y2="199.96" stroke-dashoffset="1.9"/>
<polyline stroke-dashoffset="0.41" points="46.5,199.96 46.8,205.32 47.1,200.36 47.5,199.19"/>
<line x1="47.5" y1="199.19" x2="47.5" y2="319.22" stroke-dashoffset="0.55"/>
<line x1="47.5" y1="319.22" x2="48.5" y2="319.56" stroke-dashoffset="3.63"/>
<line x1="48.5" y1="319.56" x2="48.5" y2="199.49" stroke-dashoffset="3.06"/>
<polyline stroke-dashoffset="1.33" points="48.5,199.49 48.8,212.14 49.1,199.98 49.4,212.89 49.7,200.61 50,211.63 50.5,199.78"/>
<line x1="50.5" y1="199.78" x2="50.5" y2="319.26" stroke-dashoffset="0.1"/>
<line x1="50.5" y1="319.26" x2="51.5" y2="319.3" stroke-dashoffset="0.99"/>
<line x1="51.5" y1="319.3" x2="51.5" y2="200.69" stroke-dashoffset="2.04"/>
<polyline stroke-dashoffset="3.58" points="51.5,200.69 51.8,209.01 52.1,205.04 52.4,210.43 52.7,206.22 53,213.39 53.5,199.45"/>
<line x1="53.5" y1="199.45" x2="53.5" y2="319.68" stroke-dashoffset="0.09"/>
<line x1="53.5" y1="319.68" x2="54.5" y2="320.24" stroke-dashoffset="2.66"/>
<line x1="54.5" y1="320.24" x2="54.5" y2="202.08" stroke-dashoffset="3.55"/>
<polyline stroke-dashoffset="3.57" points="54.5,202.08 55.14,206.16 55.44,213.2 55.74,209.51 56.04,205.24 56.14,205.49 56.34,205.88 56.44,223.32 56.64,204.42 56.79,204.84 56.94,203.84 57.04,203.12 57.74,202.62 58.44,202.19 59.14,201.81 59.84,201.47 60.54,201.18 61.24,200.92 61.94,200.69 62.64,200.49 63.34,200.31 64.04,200.15 64.74,200.02 65.44,199.89 66.14,199.79 66.84,199.69 67.54,199.61 68.24,199.54 68.94,199.47 69.64,199.42 70.5,199"/>
<line x1="70.5" y1="199" x2="70.5" y2="320.6" stroke-dashoffset="2.2"/>
<polyline stroke-dashoffset="2.91" points="70.5,320.6 71.3,320.47 72.3,320.25 73.3,320 74.3,319.73 75.3,319.45 76.3,319.15 77.3,318.85 78.3,318.54 79.3,318.22 79.5,318.17"/>
<line x1="79.5" y1="318.17" x2="79.5" y2="201.67" stroke-dashoffset="2.52"/>
<polyline stroke-dashoffset="0.07" points="79.5,201.67 79.8,213.38 80.1,199.53 80.5,199.54"/>
<line x1="80.5" y1="199.54" x2="80.5" y2="319.49" stroke-dashoffset="1.02"/>
<polyline stroke-dashoffset="3.48" points="80.5,319.49 81.5,320.02 82.5,320.17"/>
<line x1="82.5" y1="320.17" x2="82.5" y2="202" stroke-dashoffset="0.37"/>
<polyline stroke-dashoffset="0.59" points="82.5,202 82.8,199.65 83.1,200.34 83.4,200 83.7,199.37 84,201.24 84.5,199.01"/>
<line x1="84.5" y1="199.01" x2="84.5" y2="319.38" stroke-dashoffset="2.29"/>
<line x1="84.5" y1="319.38" x2="85.5" y2="319.02" stroke-dashoffset="3.31"/>
<line x1="85.5" y1="319.02" x2="85.5" y2="201.79" stroke-dashoffset="1.36"/>
<polyline stroke-dashoffset="2.22" points="85.5,201.79 85.8,199.52 86.1,199.91 86.4,200.89 86.7,201.35 87,200.08 87.5,200.92"/>
<line x1="87.5" y1="200.92" x2="87.5" y2="319.14" stroke-dashoffset="3.62"/>
<line x1="87.5" y1="319.14" x2="88.5" y2="319.87" stroke-dashoffset="3.1"/>
<line x1="88.5" y1="319.87" x2="88.5" y2="201.82" stroke-dashoffset="0.05"/>
<polyline stroke-dashoffset="2.5" points="88.5,201.82 88.8,202.68 89.1,203.51 89.4,202.23 89.7,204.55 90,204.01 90.5,200.61"/>
<line x1="90.5" y1="200.61" x2="90.5" y2="319.07" stroke-dashoffset="0.4"/>
<line x1="90.5" y1="319.07" x2="91.5" y2="319.92" stroke-dashoffset="3.53"/>
<line x1="91.5" y1="319.92" x2="91.5" y2="200.92" stroke-dashoffset="2.66"/>
<polyline stroke-dashoffset="3.35" points="91.5,200.92 92.05,214.71 92.35,208.72 92.65,206.48 92.95,207.81 93.05,205.49 93.25,208.06 93.35,223.32 93.55,204.45 93.7,204.84 93.85,204.2 93.95,203.12 94.65,202.62 95.35,202.19 96.05,201.81 96.75,201.47 97.45,201.18 98.15,200.92 98.85,200.69 99.55,200.49 100.25,200.31 100.95,200.15 101.65,200.02 102.35,199.89 103.05,199.79 103.75,199.69 104.45,199.61 105.15,199.54 105.85,199.47 106.55,199.42 107.5,199"/>
<line x1="107.5" y1="199" x2="107.5" y2="320.6" stroke-dashoffset="1.82"/>
<polyline stroke-dashoffset="0.22" points="107.5,320.6 108.3,320.46 109.3,320.24 110.3,319.99 111.3,319.72 112.3,319.43 113.3,319.14 114.3,318.83 115.3,318.51 116.3,318.19 116.5,318.17"/>
<line x1="116.5" y1="318.17" x2="116.5" y2="200.56" stroke-dashoffset="0.77"/>
<polyline stroke-dashoffset="0.31" points="116.5,200.56 116.8,200.57 117.1,201.72 117.5,199.94"/>
<line x1="117.5" y1="199.94" x2="117.5" y2="320.52" stroke-dashoffset="2.79"/>
<polyline stroke-dashoffset="3.25" points="117.5,320.52 118.5,319.17 119.5,319.54"/>
<line x1="119.5" y1="319.54" x2="119.5" y2="202.04" stroke-dashoffset="1.68"/>
<polyline stroke-dashoffset="3.1" points="119.5,202.04 119.8,207.16 120.1,199.34 120.4,200.47 120.7,204.1 121,200.12 121.5,201.43"/>
<line x1="121.5" y1="201.43" x2="121.5" y2="320.28" stroke-dashoffset="0.8"/>
<line x1="121.5" y1="320.28" x2="122.5" y2="320.47" stroke-dashoffset="1.62"/>
<line x1="122.5" y1="320.47" x2="122.5" y2="202.19" stroke-dashoffset="1.56"/>
<polyline stroke-dashoffset="1.81" points="122.5,202.19 122.8,199.88 123.1,201.99 123.4,199.73 123.7,200.82 124,199.54 124.5,200.78"/>
<line x1="124.5" y1="200.78" x2="124.5" y2="320.55" stroke-dashoffset="0.11"/>
<line x1="124.5" y1="320.55" x2="125.5" y2="319.11" stroke-dashoffset="0.63"/>
<line x1="125.5" y1="319.11" x2="125.5" y2="202.15" stroke-dashoffset="0.39"/>
<polyline stroke-dashoffset="2.4" points="125.5,202.15 125.8,199.74 126.1,200.98 126.4,199.38 126.7,209.5 127,200.54 127.5,202.88"/>
<line x1="127.5" y1="202.88" x2="127.5" y2="319.9" stroke-dashoffset="1.77"/>
<line x1="127.5" y1="319.9" x2="127.5" y2="319.27" stroke-dashoffset="3.68"/>
<line x1="127.5" y1="319.27" x2="127.5" y2="200.16" stroke-dashoffset="2.35"/>
<polyline stroke-dashoffset="0.76" points="127.5,200.16 128.96,206.93 129.26,212.12 129.56,208.36 129.86,209.92 129.96,205.49 130.16,206.3 130.26,223.32 130.46,206.57 130.61,204.84 130.76,204.18 130.86,203.12 131.56,202.62 132.26,202.19 132.96,201.81 133.66,201.47 134.36,201.18 135.06,200.92 135.76,200.69 136.46,200.49 137.16,200.31 137.86,200.15 138.56,200.02 139.26,199.89 139.96,199.79 140.66,199.69 141.36,199.61 142.06,199.54 142.76,199.47 143.46,199.42 143.5,199"/>
<line x1="143.5" y1="199" x2="143.5" y2="320.6" stroke-dashoffset="0.39"/>
<polyline stroke-dashoffset="2.53" points="143.5,320.6 144.3,320.48 145.3,320.28 146.3,320.06 147.3,319.82 148.3,319.56 149.3,319.3 150.3,319.03 151.3,318.74 152.3,318.46 153.5,318.17"/>
<line x1="153.5" y1="318.17" x2="153.5" y2="200.85" stroke-dashoffset="3.04"/>
<polyline stroke-dashoffset="0.49" points="153.5,200.85 153.8,200.79 154.1,210.81 154.5,199.44"/>
<line x1="154.5" y1="199.44" x2="154.5" y2="319.72" stroke-dashoffset="1.91"/>
<polyline stroke-dashoffset="3.54" points="154.5,319.72 155.5,319.81 156.5,319.36"/>
<line x1="156.5" y1="319.36" x2="156.5" y2="199.71" stroke-dashoffset="3.34"/>
<polyline stroke-dashoffset="0.42" points="156.5,199.71 156.8,200.92 157.1,207.46 157.4,210.02 157.7,200.24 158,212.43 158.5,201.38"/>
<line x1="158.5" y1="201.38" x2="158.5" y2="320.31" stroke-dashoffset="1.83"/>
<line x1="158.5" y1="320.31" x2="159.5" y2="319.41" stroke-dashoffset="3.23"/>
<line x1="159.5" y1="319.41" x2="159.5" y2="200.47" stroke-dashoffset="2.24"/>
<polyline stroke-dashoffset="0.08" points="159.5,200.47 159.8,203.98 160.1,199.81 160.4,199.82 160.7,209.64 161,205 161.5,202.26"/>
<line x1="161.5" y1="202.26" x2="161.5" y2="319.56" stroke-dashoffset="1.29"/>
<line x1="161.5" y1="319.56" x2="162.5" y2="319.01" stroke-dashoffset="1.04"/>
<line x1="162.5" y1="319.01" x2="162.5" y2="201.7" stroke-dashoffset="1.25"/>
<polyline stroke-dashoffset="3.62" points="162.5,201.7 162.8,200.24 163.1,201.43 163.5,199.05"/>
<line x1="163.5" y1="199.05" x2="163.5" y2="319.84" stroke-dashoffset="3.02"/>
<line x1="163.5" y1="319.84" x2="164.5" y2="319.39" stroke-dashoffset="3.69"/>
<line x1="164.5" y1="319.39" x2="164.5" y2="199.75" stroke-dashoffset="2.94"/>
<polyline stroke-dashoffset="3.58" points="164.5,199.75 165.87,205.57 166.17,209.29 166.47,204.75 166.77,205.02 166.87,205.49 167.07,203.94 167.17,223.32 167.37,206.06 167.52,204.84 167.67,203.26 167.77,203.12 168.47,202.62 169.17,202.19 169.87,201.81 170.57,201.47 171.27,201.18 171.97,200.92 172.67,200.69 173.37,200.49 174.07,200.31 174.77,200.15 175.47,200.02 176.17,199.89 176.87,199.79 177.57,199.69 178.27,199.61 178.97,199.54 179.67,199.47 180.37,199.42 180.5,199"/>
<line x1="180.5" y1="199" x2="180.5" y2="320.6" stroke-dashoffset="1.54"/>
<polyline stroke-dashoffset="3.47" points="180.5,320.6 181.3,320.48 182.3,320.28 183.3,320.05 184.3,319.81 185.3,319.55 186.3,319.29 187.3,319.01 188.3,318.72 189.3,318.43 190.5,318.17"/>
<line x1="190.5" y1="318.17" x2="190.5" y2="201.98" stroke-dashoffset="2.02"/>
<polyline stroke-dashoffset="3" points="190.5,201.98 190.8,199.98 191.1,204.73 191.5,200.03"/>
<line x1="191.5" y1="200.03" x2="191.5" y2="319.2" stroke-dashoffset="0.75"/>
<polyline stroke-dashoffset="3.24" points="191.5,319.2 192.5,319.77 193.5,320.57"/>
<line x1="193.5" y1="320.57" x2="193.5" y2="202.04" stroke-dashoffset="1.47"/>
<polyline stroke-dashoffset="3.48" points="193.5,202.04 193.8,201.41 194.1,206.3 194.4,199.27 194.7,203.69 195,199.06 195.5,202.75"/>
<line x1="195.5" y1="202.75" x2="195.5" y2="320.57" stroke-dashoffset="1.13"/>
<line x1="195.5" y1="320.57" x2="196.5" y2="319.1" stroke-dashoffset="1.46"/>
<line x1="196.5" y1="319.1" x2="196.5" y2="200.48" stroke-dashoffset="1.89"/>
<polyline stroke-dashoffset="3.27" points="196.5,200.48 196.8,203.57 197.1,199.46 197.4,201.16 197.7,207.51 198,201.27 198.5,199.75"/>
<line x1="198.5" y1="199.75" x2="198.5" y2="319.99" stroke-dashoffset="2.71"/>
<line x1="198.5" y1="319.99" x2="199.5" y2="319.52" stroke-dashoffset="0.97"/>
<line x1="199.5" y1="319.52" x2="199.5" y2="199.46" stroke-dashoffset="1.85"/>
<polyline stroke-dashoffset="3.15" points="199.5,199.46 199.8,210.22 200.1,200.37 200.5,202.52"/>
<line x1="200.5" y1="202.52" x2="200.5" y2="320.21" stroke-dashoffset="3.28"/>
<line x1="200.5" y1="320.21" x2="201.5" y2="319.11" stroke-dashoffset="2.75"/>
<line x1="201.5" y1="319.11" x2="201.5" y2="200.05" stroke-dashoffset="1.22"/>
<polyline stroke-dashoffset="3.41" points="201.5,200.05 202.79,214.63 203.09,211.41 203.39,210.14 203.69,208.1 203.79,205.49 203.99,207.81 204.09,223.32 204.29,204.55 204.44,204.84 204.59,204.19 204.69,203.12 205.39,202.62 206.09,202.19 206.79,201.81 207.49,201.47 208.19,201.18 208.89,200.92 209.59,200.69 210.29,200.49 210.99,200.31 211.69,200.15 212.39,200.02 213.09,199.89 213.79,199.79 214.49,199.69 215.19,199.61 215.89,199.54 216.59,199.47 217.29,199.42 217.5,199"/>
<line x1="217.5" y1="199" x2="217.5" y2="320.6" stroke-dashoffset="1.43"/>
<polyline stroke-dashoffset="2.7" points="217.5,320.6 218.3,320.48 219.3,320.27 220.3,320.05 221.3,319.8 222.3,319.54 223.3,319.27 224.3,318.99 225.3,318.7 226.3,318.41 227.5,318.17"/>
<line x1="227.5" y1="318.17" x2="227.5" y2="199.38" stroke-dashoffset="2.98"/>
<polyline stroke-dashoffset="2.54" points="227.5,199.38 227.8,201.37 228.1,199.6 228.5,202.65"/>
<line x1="228.5" y1="202.65" x2="228.5" y2="319.63" stroke-dashoffset="0.2"/>
<polyline stroke-dashoffset="0.79" points="228.5,319.63 229.5,319.89 230.5,319.98"/>
<line x1="230.5" y1="319.98" x2="230.5" y2="200.46" stroke-dashoffset="2.89"/>
<polyline stroke-dashoffset="2.41" points="230.5,200.46 230.8,212.88 231.1,199.39 231.4,200.46 231.7,199.7 232,200.26 232.5,199.91"/>
<line x1="232.5" y1="199.91" x2="232.5" y2="320.41" stroke-dashoffset="3.13"/>
<line x1="232.5" y1="320.41" x2="233.5" y2="319.15" stroke-dashoffset="2.61"/>
<line x1="233.5" y1="319.15" x2="233.5" y2="199.05" stroke-dashoffset="2.54"/>
<polyline stroke-dashoffset="3.26" points="233.5,199.05 233.8,205.9 234.1,207.07 234.5,199.72"/>
<line x1="234.5" y1="199.72" x2="234.5" y2="319.34" stroke-dashoffset="3.44"/>
<polyline stroke-dashoffset="1.06" points="234.5,319.34 235.5,319.65 236.5,319.55"/>
<line x1="236.5" y1="319.55" x2="236.5" y2="202.16" stroke-dashoffset="3.08"/>
<polyline stroke-dashoffset="3.57" points="236.5,202.16 236.8,205.81 237.1,203.37 237.5,201.04"/>
<line x1="237.5" y1="201.04" x2="237.5" y2="319.37" stroke-dashoffset="0.44"/>
<line x1="237.5" y1="319.37" x2="238.5" y2="320.3" stroke-dashoffset="1.63"/>
<line x1="238.5" y1="320.3" x2="238.5" y2="201.63" stroke-dashoffset="2.01"/>
<polyline stroke-dashoffset="2.08" points="238.5,201.63 239.7,212.61 240,209.02 240.3,211.38 240.6,206.84 240.7,205.49 240.9,208.9 241,223.32 241.2,206.9 241.35,204.84 241.5,203.76 241.6,203.12 242.3,202.62 243,202.19 243.7,201.81 244.4,201.47 245.1,201.18 245.8,200.92 246.5,200.69 247.2,200.49 247.9,200.31 248.6,200.15 249.3,200.02 250,199.89 250.7,199.79 251.4,199.69 252.1,199.61 252.8,199.54 253.5,199.47 254.2,199.42 254.5,199"/>
<line x1="254.5" y1="199" x2="254.5" y2="320.6" stroke-dashoffset="3.21"/>
<polyline stroke-dashoffset="0.03" points="254.5,320.6 255.3,320.48 256.3,320.27 257.3,320.04 258.3,319.79 259.3,319.53 260.3,319.26 261.3,318.97 262.3,318.68 263.3,318.38 264.5,318.17"/>
<line x1="264.5" y1="318.17" x2="264.5" y2="202.1" stroke-dashoffset="0.25"/>
<polyline stroke-dashoffset="2.89" points="264.5,202.1 264.8,200.29 265.1,200.95 265.5,202.89"/>
<line x1="265.5" y1="202.89" x2="265.5" y2="319.13" stroke-dashoffset="1.02"/>
<polyline stroke-dashoffset="1.71" points="265.5,319.13 266.5,319.05 267.5,319.95"/>
<line x1="267.5" y1="319.95" x2="267.5" y2="199.03" stroke-dashoffset="0.54"/>
<polyline stroke-dashoffset="3.55" points="267.5,199.03 267.8,204.56 268.1,206.94 268.4,203.44 268.7,212.29 269,200.66 269.5,202.06"/>
<line x1="269.5" y1="202.06" x2="269.5" y2="319.08" stroke-dashoffset="1.83"/>
<line x1="269.5" y1="319.08" x2="270.5" y2="319.44" stroke-dashoffset="0.26"/>
<line x1="270.5" y1="319.44" x2="270.5" y2="199.02" stroke-dashoffset="3.35"/>
<polyline stroke-dashoffset="2.18" points="270.5,199.02 270.8,199.52 271.1,201 271.5,201.77"/>
<line x1="271.5" y1="201.77" x2="271.5" y2="320.48" stroke-dashoffset="0.94"/>
<polyline stroke-dashoffset="0.34" points="271.5,320.48 272.5,320 273.5,320.39"/>
<line x1="273.5" y1="320.39" x2="273.5" y2="201.53" stroke-dashoffset="0.11"/>
<polyline stroke-dashoffset="3.21" points="273.5,201.53 273.8,205.47 274.1,201.01 274.5,200.73"/>
<line x1="274.5" y1="200.73" x2="274.5" y2="320.46" stroke-dashoffset="0.45"/>
<line x1="274.5" y1="320.46" x2="275.5" y2="319.18" stroke-dashoffset="0.81"/>
<line x1="275.5" y1="319.18" x2="275.5" y2="199.96" stroke-dashoffset="2.05"/>
<polyline stroke-dashoffset="0.25" points="275.5,199.96 276.61,210.09 276.91,204.53 277.21,206.69 277.51,210.37 277.61,205.49 277.81,207.56 277.91,223.32 278.11,206 278.26,204.84 278.41,203.96 278.51,203.12 279.21,202.62 279.91,202.19 280.61,201.81 281.31,201.47 282.01,201.18 282.71,200.92 283.41,200.69 284.11,200.49 284.81,200.31 285.51,200.15 286.21,200.02 286.91,199.89 287.61,199.79 288.31,199.69 289.01,199.61 289.71,199.54 290.41,199.47 291.11,199.42 291.5,199"/>
<line x1="291.5" y1="199" x2="291.5" y2="320.6" stroke-dashoffset="2.67"/>
<polyline stroke-dashoffset="2.39" points="291.5,320.6 292.3,320.47 293.3,320.27 294.3,320.03 295.3,319.78 296.3,319.52 297.3,319.24 298.3,318.96 299.3,318.66 300.3,318.36 300.5,318.17"/>
<line x1="300.5" y1="318.17" x2="300.5" y2="199.45" stroke-dashoffset="2.4"/>
<polyline stroke-dashoffset="1.32" points="300.5,199.45 300.8,212.9 301.1,208.7 301.4,209.67 301.7,200.54 302,199.63 302.5,202.19"/>
<line x1="302.5" y1="202.19" x2="302.5" y2="318.98" stroke-dashoffset="1.05"/>
<polyline stroke-dashoffset="2.85" points="302.5,318.98 303.5,320.38 304.5,320.2"/>
<line x1="304.5" y1="320.2" x2="304.5" y2="199.57" stroke-dashoffset="3.63"/>
<polyline stroke-dashoffset="2.2" points="304.5,199.57 304.8,202.42 305.1,199.92 305.4,201.09 305.7,199.43 306,207.32 306.5,200.92"/>
<line x1="306.5" y1="200.92" x2="306.5" y2="320.55" stroke-dashoffset="3.38"/>
<line x1="306.5" y1="320.55" x2="307.5" y2="319.41" stroke-dashoffset="0.58"/>
<line x1="307.5" y1="319.41" x2="307.5" y2="201.57" stroke-dashoffset="2.82"/>
<polyline stroke-dashoffset="0.87" points="307.5,201.57 307.8,200.8 308.1,199.16 308.5,199.26"/>
<line x1="308.5" y1="199.26" x2="308.5" y2="319.67" stroke-dashoffset="1.03"/>
<polyline stroke-dashoffset="0.11" points="308.5,319.67 309.5,319.89 310.5,319"/>
<line x1="310.5" y1="319" x2="310.5" y2="199.82" stroke-dashoffset="3.47"/>
<polyline stroke-dashoffset="0.56" points="310.5,199.82 310.8,203.71 311.1,200.69 311.5,199.02"/>
<line x1="311.5" y1="199.02" x2="311.5" y2="320.39" stroke-dashoffset="0.84"/>
<line x1="311.5" y1="320.39" x2="312.5" y2="319.06" stroke-dashoffset="1.28"/>
<line x1="312.5" y1="319.06" x2="312.5" y2="200.84" stroke-dashoffset="1.59"/>
<polyline stroke-dashoffset="3.01" points="312.5,200.84 313.52,209.27 313.82,205.23 314.12,206.06 314.42,204.06 314.52,205.49 314.72,208.19 314.82,223.32 315.02,206.78 315.17,204.84 315.32,203.92 315.42,203.12 316.12,202.62 316.82,202.19 317.52,201.81 318.22,201.47 318.92,201.18 319.62,200.92 320.32,200.69 321.02,200.49 321.72,200.31 322.42,200.15 323.12,200.02 323.82,199.89 324.52,199.79"/>
</g>
</g>
<line x1="29.7" y1="320.6" x2="29.7" y2="317.6" stroke="#262626" stroke-width="0.8"/>
<line x1="29.7" y1="199" x2="29.7" y2="202" stroke="#262626" stroke-width="0.8"/>
<line x1="66.61" y1="320.6" x2="66.61" y2="317.6" stroke="#262626" stroke-width="0.8"/>
<line x1="66.61" y1="199" x2="66.61" y2="202" stroke="#262626" stroke-width="0.8"/>
<line x1="103.53" y1="320.6" x2="103.53" y2="317.6" stroke="#262626" stroke-width="0.8"/>
<line x1="103.53" y1="199" x2="103.53" y2="202" stroke="#262626" stroke-width="0.8"/>
<line x1="140.44" y1="320.6" x2="140.44" y2="317.6" stroke="#262626" stroke-width="0.8"/>
<line x1="140.44" y1="199" x2="140.44" y2="202" stroke="#262626" stroke-width="0.8"/>
<line x1="177.35" y1="320.6" x2="177.35" y2="317.6" stroke="#262626" stroke-width="0.8"/>
<line x1="177.35" y1="199" x2="177.35" y2="202" stroke="#262626" stroke-width="0.8"/>
<line x1="214.26" y1="320.6" x2="214.26" y2="317.6" stroke="#262626" stroke-width="0.8"/>
<line x1="214.26" y1="199" x2="214.26" y2="202" stroke="#262626" stroke-width="0.8"/>
<line x1="251.18" y1="320.6" x2="251.18" y2="317.6" stroke="#262626" stroke-width="0.8"/>
<line x1="251.18" y1="199" x2="251.18" y2="202" stroke="#262626" stroke-width="0.8"/>
<line x1="288.09" y1="320.6" x2="288.09" y2="317.6" stroke="#262626" stroke-width="0.8"/>
<line x1="288.09" y1="199" x2="288.09" y2="202" stroke="#262626" stroke-width="0.8"/>
<line x1="325" y1="320.6" x2="325" y2="317.6" stroke="#262626" stroke-width="0.8"/>
<line x1="325" y1="199" x2="325" y2="202" stroke="#262626" stroke-width="0.8"/>
<line x1="29.7" y1="320.6" x2="32.7" y2="320.6" stroke="#262626" stroke-width="0.8"/>
<line x1="29.7" y1="300.33" x2="32.7" y2="300.33" stroke="#262626" stroke-width="0.8"/>
<line x1="29.7" y1="280.07" x2="32.7" y2="280.07" stroke="#262626" stroke-width="0.8"/>
<line x1="29.7" y1="259.8" x2="32.7" y2="259.8" stroke="#262626" stroke-width="0.8"/>
<line x1="29.7" y1="239.53" x2="32.7" y2="239.53" stroke="#262626" stroke-width="0.8"/>
<line x1="29.7" y1="219.27" x2="32.7" y2="219.27" stroke="#262626" stroke-width="0.8"/>
<line x1="29.7" y1="199" x2="32.7" y2="199" stroke="#262626" stroke-width="0.8"/>
<line x1="325" y1="320.6" x2="322" y2="320.6" stroke="#3f9a35" stroke-width="0.8"/>
<line x1="325" y1="280.07" x2="322" y2="280.07" stroke="#3f9a35" stroke-width="0.8"/>
<line x1="325" y1="239.53" x2="322" y2="239.53" stroke="#3f9a35" stroke-width="0.8"/>
<line x1="325" y1="199" x2="322" y2="199" stroke="#3f9a35" stroke-width="0.8"/>
<polyline fill="none" stroke="#262626" stroke-width="0.9" points="325,199 29.7,199 29.7,320.6 325,320.6"/>
<line x1="325" y1="198.55" x2="325" y2="321.05" stroke="#3f9a35" stroke-width="0.9"/>
<text x="26.9" y="323.6" text-anchor="end" font-size="9.3" fill="#262626">0</text>
<text x="26.9" y="303.33" text-anchor="end" font-size="9.3" fill="#262626">50</text>
<text x="26.9" y="283.07" text-anchor="end" font-size="9.3" fill="#262626">100</text>
<text x="26.9" y="262.8" text-anchor="end" font-size="9.3" fill="#262626">150</text>
<text x="26.9" y="242.53" text-anchor="end" font-size="9.3" fill="#262626">200</text>
<text x="26.9" y="222.27" text-anchor="end" font-size="9.3" fill="#262626">250</text>
<text x="26.9" y="202" text-anchor="end" font-size="9.3" fill="#262626">300</text>
<text x="29.7" y="331.3" text-anchor="middle" font-size="9.3" fill="#262626">5</text>
<text x="66.61" y="331.3" text-anchor="middle" font-size="9.3" fill="#262626">5.5</text>
<text x="103.53" y="331.3" text-anchor="middle" font-size="9.3" fill="#262626">6</text>
<text x="140.44" y="331.3" text-anchor="middle" font-size="9.3" fill="#262626">6.5</text>
<text x="177.35" y="331.3" text-anchor="middle" font-size="9.3" fill="#262626">7</text>
<text x="214.26" y="331.3" text-anchor="middle" font-size="9.3" fill="#262626">7.5</text>
<text x="251.18" y="331.3" text-anchor="middle" font-size="9.3" fill="#262626">8</text>
<text x="288.09" y="331.3" text-anchor="middle" font-size="9.3" fill="#262626">8.5</text>
<text x="325" y="331.3" text-anchor="middle" font-size="9.3" fill="#262626">9</text>
<text x="327.6" y="323.6" font-size="9.3" fill="#3f9a35">0</text>
<text x="327.6" y="283.07" font-size="9.3" fill="#3f9a35">0.5</text>
<text x="327.6" y="242.53" font-size="9.3" fill="#3f9a35">1</text>
<text x="327.6" y="202" font-size="9.3" fill="#3f9a35">1.5</text>
<text x="305.3" y="343.5" font-size="9.3" fill="#262626">×10<tspan font-size="6.5" dy="-3.6">4</tspan></text>
<text x="178.15" y="342.8" text-anchor="middle" font-size="9.8" fill="#262626">Time (Roundtrips)</text>
<text transform="translate(8.6,260.4) rotate(-90)" text-anchor="middle" font-size="10" fill="#262626">Output power (a.u.)</text>
<text transform="translate(350.2,259.5) rotate(-90)" text-anchor="middle" font-size="10" fill="#3f9a35">Normalized phase difference</text>
<rect x="67.8" y="176.9" width="219.6" height="13.6" fill="#fff" stroke="#262626" stroke-width="0.8"/>
<line x1="69" y1="184" x2="79.6" y2="184" stroke="#202020" stroke-width="0.9"/>
<line x1="90.7" y1="184" x2="101.2" y2="184" stroke="#d42828" stroke-width="0.9"/>
<line x1="129" y1="184" x2="139.9" y2="184" stroke="#3d63e8" stroke-width="0.9"/>
<line x1="199.9" y1="184" x2="210.7" y2="184" stroke="#5aae4d" stroke-width="0.7" stroke-dasharray="3.5,1"/>
<text x="81.4" y="186.3" font-size="9.9" fill="#262626">I<tspan font-size="7.2" dy="1.9">x</tspan></text>
<text x="103.1" y="186.3" font-size="9.9" fill="#262626">I<tspan font-size="7.2" dy="1.9">y</tspan><tspan dy="-1.9">+50</tspan></text>
<text x="141.4" y="186.3" font-size="9.9" fill="#262626">I=(I<tspan font-size="7.2" dy="1.9">x</tspan><tspan dy="-1.9">+I</tspan><tspan font-size="7.2" dy="1.9">y</tspan><tspan dy="-1.9">)+150</tspan></text>
<text x="211.5" y="186.3" font-size="9.9" fill="#262626">Phase difference</text>
<text x="5.9" y="185.5" font-size="19.2" font-weight="bold" fill="#000" stroke="#000" stroke-width="0.45">c</text>
<line x1="403.54" y1="6.05" x2="403.54" y2="147.25" stroke="#e6e6e6" stroke-width="0.55"/>
<line x1="416.55" y1="6.05" x2="416.55" y2="147.25" stroke="#e6e6e6" stroke-width="0.55"/>
<line x1="425.78" y1="6.05" x2="425.78" y2="147.25" stroke="#e6e6e6" stroke-width="0.55"/>
<line x1="432.94" y1="6.05" x2="432.94" y2="147.25" stroke="#e6e6e6" stroke-width="0.55"/>
<line x1="438.79" y1="6.05" x2="438.79" y2="147.25" stroke="#e6e6e6" stroke-width="0.55"/>
<line x1="443.73" y1="6.05" x2="443.73" y2="147.25" stroke="#e6e6e6" stroke-width="0.55"/>
<line x1="448.02" y1="6.05" x2="448.02" y2="147.25" stroke="#e6e6e6" stroke-width="0.55"/>
<line x1="451.79" y1="6.05" x2="451.79" y2="147.25" stroke="#e6e6e6" stroke-width="0.55"/>
<line x1="455.18" y1="6.05" x2="455.18" y2="147.25" stroke="#e6e6e6" stroke-width="0.55"/>
<line x1="477.41" y1="6.05" x2="477.41" y2="147.25" stroke="#e6e6e6" stroke-width="0.55"/>
<line x1="490.42" y1="6.05" x2="490.42" y2="147.25" stroke="#e6e6e6" stroke-width="0.55"/>
<line x1="499.65" y1="6.05" x2="499.65" y2="147.25" stroke="#e6e6e6" stroke-width="0.55"/>
<line x1="506.81" y1="6.05" x2="506.81" y2="147.25" stroke="#e6e6e6" stroke-width="0.55"/>
<line x1="512.66" y1="6.05" x2="512.66" y2="147.25" stroke="#e6e6e6" stroke-width="0.55"/>
<line x1="517.61" y1="6.05" x2="517.61" y2="147.25" stroke="#e6e6e6" stroke-width="0.55"/>
<line x1="521.89" y1="6.05" x2="521.89" y2="147.25" stroke="#e6e6e6" stroke-width="0.55"/>
<line x1="525.67" y1="6.05" x2="525.67" y2="147.25" stroke="#e6e6e6" stroke-width="0.55"/>
<line x1="529.05" y1="6.05" x2="529.05" y2="147.25" stroke="#e6e6e6" stroke-width="0.55"/>
<line x1="551.29" y1="6.05" x2="551.29" y2="147.25" stroke="#e6e6e6" stroke-width="0.55"/>
<line x1="564.3" y1="6.05" x2="564.3" y2="147.25" stroke="#e6e6e6" stroke-width="0.55"/>
<line x1="573.53" y1="6.05" x2="573.53" y2="147.25" stroke="#e6e6e6" stroke-width="0.55"/>
<line x1="580.69" y1="6.05" x2="580.69" y2="147.25" stroke="#e6e6e6" stroke-width="0.55"/>
<line x1="586.54" y1="6.05" x2="586.54" y2="147.25" stroke="#e6e6e6" stroke-width="0.55"/>
<line x1="591.48" y1="6.05" x2="591.48" y2="147.25" stroke="#e6e6e6" stroke-width="0.55"/>
<line x1="595.77" y1="6.05" x2="595.77" y2="147.25" stroke="#e6e6e6" stroke-width="0.55"/>
<line x1="599.54" y1="6.05" x2="599.54" y2="147.25" stroke="#e6e6e6" stroke-width="0.55"/>
<line x1="602.92" y1="6.05" x2="602.92" y2="147.25" stroke="#e6e6e6" stroke-width="0.55"/>
<line x1="625.16" y1="6.05" x2="625.16" y2="147.25" stroke="#e6e6e6" stroke-width="0.55"/>
<line x1="638.17" y1="6.05" x2="638.17" y2="147.25" stroke="#e6e6e6" stroke-width="0.55"/>
<line x1="647.4" y1="6.05" x2="647.4" y2="147.25" stroke="#e6e6e6" stroke-width="0.55"/>
<line x1="654.56" y1="6.05" x2="654.56" y2="147.25" stroke="#e6e6e6" stroke-width="0.55"/>
<line x1="660.41" y1="6.05" x2="660.41" y2="147.25" stroke="#e6e6e6" stroke-width="0.55"/>
<line x1="665.36" y1="6.05" x2="665.36" y2="147.25" stroke="#e6e6e6" stroke-width="0.55"/>
<line x1="669.64" y1="6.05" x2="669.64" y2="147.25" stroke="#e6e6e6" stroke-width="0.55"/>
<line x1="673.42" y1="6.05" x2="673.42" y2="147.25" stroke="#e6e6e6" stroke-width="0.55"/>
<clipPath id="clipb"><rect x="381.3" y="5.05" width="295.5" height="142.2"/></clipPath>
<polyline clip-path="url(#clipb)" fill="none" stroke="#ff1f10" stroke-width="1.15" stroke-linejoin="round" points="401.89,114.77 424.13,121.41 437.14,127.06 446.37,128.19 453.53,106.3 459.38,140.9 464.32,138.78 468.61,141.16 472.39,140.81 475.77,141.08 478.83,137.37 481.62,139.57 484.19,140.13 486.56,140.25 488.78,139.52 490.85,131.72 492.79,143.2 494.63,141.1 496.36,140.9 498.01,139.58 499.57,137.37 501.06,140.43 502.49,138.54 503.86,139.99 505.17,139.79 506.42,136.66 507.63,139.2 508.8,140.76 509.93,139.73 511.02,140.79 512.07,134.54 513.09,133.13 514.07,138.83 515.03,139.5 515.96,142.87 516.86,140.04 517.74,137.37 518.6,139.1 519.43,138.67 520.25,139.58 521.04,140.49 521.81,135.95 522.57,138.99 523.3,138.62 524.02,138.74 524.73,140.19 525.42,133.13 526.09,139.87 526.76,138.78 527.4,131.9 528.04,143.04 528.66,144.31 529.27,144.88 529.87,144.56 530.46,138.67 531.04,144.65 531.61,139.95 532.17,130.22 532.71,135.02 533.25,132.38 533.78,135.7 534.31,120.56 534.82,133.26 535.32,139.02 535.82,118.79 536.31,131.56 536.79,133.97 537.27,122.93 537.74,121.03 538.2,120.42 538.65,110.52 539.1,123.98 539.55,127.21 539.98,130.1 540.41,129.75 540.84,138.53 541.26,145.1 541.67,144.11 542.08,145.62 542.48,128.59 542.88,129.56 543.28,95.24 543.66,88.96 544.05,116.03 544.43,87.95 544.8,128.67 545.17,123.9 545.54,138.14 545.9,135.13 546.26,118.79 546.62,123.3 546.97,102.69 547.31,111.14 547.66,120.93 548,119.41 548.33,118.1 548.67,115.28 548.99,114.07 549.32,136.49 549.64,63.94 549.96,144.35 550.28,143.25 550.59,141.6 550.9,132.04 551.21,45.59 551.51,126.5 551.81,100.83 552.11,110.21 552.41,63.1 552.7,77.79 552.99,117.89 553.28,112.86 553.56,123.48 553.85,73.56 554.13,82.98 554.4,113.18 554.68,97.99 554.95,123.77 555.22,103.13 555.49,110.43 555.76,129.31 556.02,126.54 556.28,110.92 556.54,112.14 556.8,56.88 557.06,127.24 557.31,138.58 557.56,143.92 557.81,143.91 558.06,141.5 558.31,130.36 558.55,136.68 558.79,133.64 559.03,114.59 559.27,94.44 559.51,91.87 559.74,97.78 559.98,125.27 560.21,91.4 560.44,32.88 560.67,125.36 560.89,118.41 561.12,135.74 561.34,126.64 561.56,103.79 561.78,140.91 562,143.31 562.22,145 562.44,143.34 562.65,125.66 562.86,145.52 563.08,144.76 563.29,144.47 563.5,145.16 563.7,113.54 563.91,140.5 564.12,138.03 564.32,124.78 564.52,125.42 564.72,90.42 564.92,121.67 565.12,101.66 565.32,116.13 565.51,111.51 565.71,93.59 565.9,113.65 566.1,122.86 566.29,95.72 566.48,128.46 566.67,98.6 566.86,114.58 567.04,133.49 567.23,131.28 567.41,116.55 567.6,119.47 567.78,124.04 567.96,118.32 568.14,120.74 568.32,130.29 568.5,98.3 568.68,127.68 568.86,116.54 569.03,126.34 569.21,132.82 569.38,88.4 569.55,121.32 569.73,120.83 569.9,125.18 570.07,119.4 570.24,83.71 570.4,121.66 570.57,134 570.74,118.77 570.9,109.89 571.07,86.86 571.23,110.26 571.4,120.24 571.56,109.68 571.72,132.31 571.88,109.79 572.04,123.48 572.2,130.97 572.36,110.88 572.52,113.66 572.67,62.53 572.83,87.73 572.99,118.81 573.14,88.96 573.29,97.07 573.45,75.24 573.6,91.7 573.75,113.92 573.9,90.76 574.05,69.24 574.2,111.49 574.35,121.25 574.5,117.77 574.65,93.56 574.79,61.74 574.94,119.08 575.08,60.48 575.23,88.53 575.37,115.08 575.52,100.75 575.66,115.31 575.8,93.96 575.94,105.94 576.09,119.53 576.23,123.05 576.37,92.71 576.5,111.33 576.64,123.52 576.78,126.33 576.92,120.52 577.06,111.88 577.19,138.15 577.33,138.03 577.46,136.48 577.6,136.23 577.73,72.41 577.86,142.56 578,140.68 578.13,137.77 578.26,130.79 578.39,129.41 578.52,137.94 578.65,135.92 578.78,122.97 578.91,107.88 579.04,87.17 579.17,122.31 579.3,106.84 579.42,108.43 579.55,125.9 579.68,6.05 579.8,132.08 579.93,137.89 580.05,133.31 580.18,141.06 580.3,72.87 580.42,132.98 580.54,130.4 580.67,134.77 580.79,138.22 580.91,120.55 581.03,116.32 581.15,108.17 581.27,114.24 581.39,106.62 581.51,114.22 581.63,119.58 581.75,111.61 581.86,85.69 581.98,104.87 582.1,76.27 582.22,90.78 582.33,93.18 582.45,60.09 582.56,110.87 582.68,32.88 582.79,112.27 582.91,66.35 583.02,94.38 583.13,104.39 583.24,114.3 583.36,90.62 583.47,101.72 583.58,116.87 583.69,122 583.8,73.46 583.91,89.25 584.02,92.33 584.13,69.02 584.24,67.73 584.35,65.87 584.46,73.96 584.57,93.4 584.68,90.56 584.78,98.12 584.89,73.88 585,119.36 585.1,71.85 585.21,105.64 585.32,118.85 585.42,90.33 585.53,74.04 585.63,92.3 585.73,96.96 585.84,77.88 585.94,110.01 586.05,119.83 586.15,82.17 586.25,86.18 586.35,64.46 586.46,87.97 586.56,73.9 586.66,121.79 586.76,122.15 586.86,91.7 586.96,113.63 587.06,123.16 587.16,121.5 587.26,111.87 587.36,115.75 587.46,109.22 587.56,100.77 587.66,121.97 587.75,129.79 587.85,121.27 587.95,71.05 588.05,130.47 588.14,133.3 588.24,133.05 588.33,139.39 588.43,131 588.53,129.4 588.62,126.14 588.72,120.43 588.81,130.89 588.91,122.3 589,125.47 589.09,129.9 589.19,108.51 589.28,110.55 589.37,46.29 589.47,104.33 589.56,99.56 589.65,127.48 589.74,131.42 589.84,98.88 589.93,116.91 590.02,107.38 590.11,117.15 590.2,115.5 590.29,108.5 590.38,131.99 590.47,114.38 590.56,134.05 590.65,129.27 590.74,65.35 590.83,120.13 590.92,127.75 591.01,130.82 591.09,118.7 591.18,104.28 591.27,136.71 591.36,130.92 591.44,135.93 591.53,113.21 591.62,118.78 591.71,102.84 591.79,125.75 591.88,120.8 591.96,108.13 592.05,117.35 592.13,112.7 592.22,123.71 592.31,109.33 592.39,125.92 592.47,96.47 592.56,79.83 592.64,111.33 592.73,111.35 592.81,89.19 592.89,77.57 592.98,108.71 593.06,103.77 593.14,84.17 593.23,78.7 593.31,87.75 593.39,112.25 593.47,111.34 593.55,74.69 593.64,77.68 593.72,65.98 593.8,73.28 593.88,95.59 593.96,113.48 594.04,66.64 594.12,48.41 594.2,86.2 594.28,79.74 594.36,98.1 594.44,100.73 594.52,86.48 594.6,92.24 594.68,78.39 594.76,64.59 594.83,73.4 594.91,102.71 594.99,106.05 595.07,81.49 595.15,110.49 595.22,96.44 595.3,115.15 595.38,117.59 595.46,118.87 595.53,114.5 595.61,117.38 595.69,136.16 595.76,130.45 595.84,133.48 595.91,141.4 595.99,137.46 596.07,141.68 596.14,141.72 596.22,145.45 596.29,144.43 596.37,145.04 596.44,115.83 596.51,144.18 596.59,144.47 596.66,144.6 596.74,142.65 596.81,130.22 596.88,136.04 596.96,137.94 597.03,135.92 597.1,137.25 597.18,117.74 597.25,121.27 597.32,132.08 597.4,118.28 597.47,123.01 597.54,80.9 597.61,132.07 597.68,110.55 597.76,114.57 597.83,119.93 597.9,63.94 597.97,115.75 598.04,123.64 598.11,119.01 598.18,130.35 598.25,136.12 598.32,120.08 598.39,125.83 598.46,116.5 598.53,132.04 598.6,120.62 598.67,118.15 598.74,121.08 598.81,120.91 598.88,136.8 598.95,96.54 599.02,136.61 599.09,135.07 599.16,139.41 599.23,139.38 599.29,141.62 599.36,130.87 599.43,138.55 599.5,136.5 599.57,139.04 599.63,85.09 599.7,137.74 599.77,141.62 599.84,141.17 599.9,144.29 599.97,114.5 600.04,144.06 600.1,143.82 600.17,143.79 600.24,142.56 600.3,143.6 600.37,143.35 600.43,140.1 600.5,144.57 600.57,144.29 600.63,89.89 600.7,135.92 600.76,136.87 600.83,134.67 600.89,130.56 600.96,83.33 601.02,127.83 601.09,136.93 601.15,131.5 601.22,127.55 601.28,124.21 601.34,134.07 601.41,128.74 601.47,137.41 601.53,131.81 601.6,115.89 601.66,117.31 601.73,124.55 601.79,119.95 601.85,117.65 601.91,94.46 601.98,117.18 602.04,129.28 602.1,135.79 602.17,129.26 602.23,129.11 602.29,128.59 602.35,130.32 602.41,140.74 602.48,133.56 602.54,115.93 602.6,136.06 602.66,134.72 602.72,140.08 602.78,139.23 602.84,114.18 602.91,141.44 602.97,144.2 603.03,143.58 603.09,145.28 603.15,99.41 603.21,143.87 603.27,144.24 603.33,144.48 603.39,143.55 603.45,107.96 603.51,145.68 603.57,143.49 603.63,140.59 603.69,140.7 603.75,42.76 603.81,142.82 603.87,138.7 603.93,137.08 603.99,135.9 604.04,132.4 604.1,136.36 604.16,124.8 604.22,134.09 604.28,136.79 604.34,114.24 604.4,116.71 604.45,133.68 604.51,130.16 604.57,112.87 604.63,127.1 604.69,113.03 604.74,134.48 604.8,110.13 604.86,128.38 604.92,129.72 604.97,112.56 605.03,104.48 605.09,104.78 605.14,110.64 605.2,104.92 605.26,101.87 605.31,115.45 605.37,128.59 605.43,104.2 605.48,116.42 605.54,121.6 605.6,114.33 605.65,130.84 605.71,131.14 605.76,120.19 605.82,108.27 605.87,101.65 605.93,92.78 605.99,97.74 606.04,92.29 606.1,104.33 606.15,100.14 606.21,106.03 606.26,126.92 606.32,90.18 606.37,99.32 606.43,122.33 606.48,98.99 606.54,112.53 606.59,124.76 606.64,109.91 606.7,115.07 606.75,129.36 606.81,123.02 606.86,91.61 606.91,121.3 606.97,109.93 607.02,128.44 607.08,120.22 607.13,115.9 607.18,106.56 607.24,131.87 607.29,133.27 607.34,130.46 607.4,106.08 607.45,131.93 607.5,134.5 607.55,131.27 607.61,131.17 607.66,99.43 607.71,121.08 607.76,128.28 607.82,133.19 607.87,135.06 607.92,125.23 607.97,133.39 608.03,126.11 608.08,117 608.13,120.76 608.18,125.35 608.23,136.82 608.28,136.12 608.34,127.65 608.39,129.39 608.44,122.15 608.49,135.92 608.54,132.08 608.59,122.36 608.64,125.1 608.69,86.3 608.75,117.73 608.8,135.47 608.85,133.64 608.9,125.36 608.95,125.34 609,116 609.05,115.96 609.1,124.68 609.15,120.67 609.2,71 609.25,134.75 609.3,123.84 609.35,130.58 609.4,129.24 609.45,133.9 609.5,137.32 609.55,117.21 609.6,120.34 609.65,119.45 609.7,130.51 609.75,127.44 609.8,133.22 609.84,123.18 609.89,117.71 609.94,119.39 609.99,116.07 610.04,131.89 610.09,122.18 610.14,135.34 610.19,126.69 610.24,136.18 610.28,127.55 610.33,128.05 610.38,132.42 610.43,101.02 610.48,126.69 610.53,131.48 610.57,133.31 610.62,138.67 610.67,117.01 610.72,128.31 610.76,127.32 610.81,136.44 610.86,130.38 610.91,118.57 610.96,139.71 611,139.43 611.05,135.2 611.1,139.82 611.14,128.79 611.19,139.93 611.24,136.97 611.29,137.64 611.33,142.11 611.38,92.85 611.43,141.66 611.47,143.47 611.52,144.03 611.57,141.43 611.61,114.83 611.66,142.94 611.71,139.58 611.75,143.2 611.8,139.94 611.84,113.5 611.89,143.5 611.94,144.14 611.98,142.66 612.03,143.26 612.07,129.09 612.12,140.89 612.17,142.36 612.21,142.34 612.26,143.47 612.3,141.65 612.35,143.19 612.39,142.26 612.44,141.75 612.48,143.17 612.53,132.26 612.57,144.8 612.62,142.7 612.66,143.43 612.71,143.55 612.75,102.76 612.8,144.97 612.84,143.97 612.89,145.68 612.93,144.46 612.98,145.17 613.02,145.9 613.07,145.57 613.11,146.19 613.16,144.78 613.2,144.52 613.24,146.08 613.29,145.19 613.33,143.41 613.38,145.02 613.42,119.57 613.46,141.58 613.51,142.12 613.55,144.1 613.6,138.56 613.64,96.8 613.68,139.3 613.73,140.57 613.77,137.47 613.81,138.65 613.86,136.39 613.9,140.58 613.94,141.13 613.99,138.94 614.03,137.31 614.07,114.94 614.12,130.63 614.16,129.72 614.2,124.77 614.25,137.7 614.29,131.68 614.33,137.45 614.37,130.29 614.42,137.03 614.46,137.14 614.5,134.89 614.54,129.94 614.59,121.7 614.63,132.12 614.67,122.09 614.71,117.77 614.76,132.1 614.8,128.22 614.84,136.86 614.88,129.07 614.92,99.24 614.97,121.79 615.01,137.75 615.05,123.04 615.09,127.95 615.13,126.27 615.17,138.45 615.22,123.1 615.26,134.58 615.3,129.93 615.34,130.33 615.38,124.07 615.42,129.72 615.46,123.28 615.51,136.38 615.55,129.29 615.59,130.87 615.63,132.02 615.67,130.23 615.71,131.56 615.75,116.53 615.79,130.14 615.83,139.2 615.87,132.75 615.91,133.14 615.96,132.57 616,131.14 616.04,129.37 616.08,138.33 616.12,135.4 616.16,131.9 616.2,130.18 616.24,138.85 616.28,136.27 616.32,132.44 616.36,118.96 616.4,139.51 616.44,123.49 616.48,135.98 616.52,129.25 616.56,136.05 616.6,129.4 616.64,133.69 616.68,134.28 616.72,131.5 616.76,129.52 616.8,129.31 616.84,127.74 616.88,135.21 616.92,138.37 616.95,135.55 616.99,134.3 617.03,129.47 617.07,132.91 617.11,134.77 617.15,130.43 617.19,130.07 617.23,138.43 617.27,131.67 617.31,128.95 617.35,130.2 617.38,137.93 617.42,134.85 617.46,125.65 617.5,139.32 617.54,127.47 617.58,134.18 617.62,131.66 617.66,135.16 617.69,139.32 617.73,133.01 617.77,141.22 617.81,129.09 617.85,130.24 617.89,136.35 617.92,134.23 617.96,134.5 618,128.56 618.04,141.18 618.08,137.87 618.11,129.73 618.15,131.56 618.19,132.36 618.23,136.35 618.27,141.71 618.3,115.61 618.34,136.42 618.38,140.2 618.42,133.18 618.45,135.53 618.49,116.6 618.53,137.62 618.57,133.81 618.6,137.56 618.64,135.14 618.68,126.43 618.72,133.24 618.75,136.51 618.79,131.82 618.83,124.73 618.86,125.05 618.9,127.88 618.94,123.39 618.98,125.5 619.01,126.48 619.05,130.95 619.09,136.15 619.12,124.22 619.16,125.86 619.2,118.6 619.23,131.86 619.27,119.9 619.31,133.74 619.34,117.99 619.38,116.76 619.42,132.22 619.45,131.27 619.49,116.69 619.53,117.5 619.56,124.09 619.6,135.65 619.63,138.48 619.67,133.59 619.71,119.67 619.74,123.02 619.78,104.89 619.82,124.94 619.85,122.96 619.89,134.48 619.92,124.93 619.96,108.75 619.99,135.33 620.03,140.21 620.07,138.82 620.1,133.73 620.14,123.29 620.17,135.19 620.21,140.35 620.24,134.32 620.28,141.63 620.32,124.87 620.35,141.14 620.39,139.03 620.42,137.99 620.46,139.19 620.49,136.06 620.53,141.09 620.56,142.45 620.6,143.91 620.63,144.95 620.67,142.97 620.7,144.93 620.74,144.73 620.77,146.33 620.81,146.04 620.84,128.99 620.88,146.06 620.91,145.47 620.95,146.08 620.98,145.56 621.02,146.43 621.05,146.02 621.09,145.99 621.12,145.84 621.16,146.27 621.19,129.03 621.22,145.28 621.26,145.39 621.29,146.58 621.33,145.89 621.36,121.71 621.4,145.76 621.43,146.5 621.46,145.53 621.5,146.01 621.53,130.28 621.57,146.61 621.6,146.01 621.63,145.91 621.67,145.4 621.7,139.45 621.74,146.37 621.77,146.19 621.8,145.56 621.84,146.03 621.87,120.01 621.91,145.28 621.94,145.41 621.97,146.13 622.01,145.85 622.04,123.9 622.07,146.34 622.11,145.34 622.14,145.38 622.17,145.61 622.21,139.37 622.24,145.29 622.27,145.23 622.31,144.82 622.34,145.54 622.37,137 622.41,143.4 622.44,143.71 622.47,142.51 622.51,143.12 622.54,138.61 622.57,140.92 622.61,144.24 622.64,139.63 622.67,142.45 622.71,143.64 622.74,143.11 622.77,141.2 622.8,139.14 622.84,140.5 622.87,131.34 622.9,135.48 622.94,139.09 622.97,133.36 623,139.89 623.03,129.02 623.07,138.01 623.1,131.61 623.13,133.74 623.16,132.94 623.2,140.32 623.23,131.18 623.26,136.41 623.29,130.58 623.32,128.68 623.36,117.93 623.39,140.69 623.42,128.98 623.45,125.33 623.49,126.08 623.52,133.37 623.55,126.57 623.58,139.92 623.61,139.23 623.65,130.11 623.68,130.84 623.71,125.4 623.74,135.73 623.77,131.47 623.81,121.69 623.84,128.08 623.87,132.07 623.9,128.11 623.93,120.59 623.96,135.88 624,125.97 624.03,131.17 624.06,131.29 624.09,134 624.12,129.72 624.15,127.36 624.18,130.9 624.22,128.44 624.25,125.59 624.28,120.92 624.31,126.5 624.34,130.43 624.37,117.94 624.4,134.69 624.44,137.34 624.47,116.19 624.5,132.36 624.53,134.79 624.56,129.51 624.59,130.35 624.62,129.98 624.65,118.65 624.68,131.26 624.71,134.8 624.75,132.84 624.78,115.87 624.81,127.81 624.84,129.34 624.87,119.62 624.9,115.87 624.93,125.77 624.96,118.66 624.99,131.48 625.02,129.49 625.05,124.27 625.08,132.2 625.11,131.34 625.14,133.43 625.17,131.77 625.21,118.64 625.24,119.84 625.27,135.38 625.3,130.19 625.33,122.05 625.36,119.25 625.39,126.04 625.42,122.68 625.45,133.41 625.48,122.11 625.51,121.62 625.54,130.48 625.57,134.19 625.6,138.42 625.63,126.94 625.66,127.25 625.69,124.64 625.72,130.09 625.75,122.92 625.78,139.48 625.81,137.79 625.84,128.4 625.87,133.36 625.9,134.54 625.93,127.37 625.96,140.05 625.99,138.3 626.02,128.13 626.05,141.34 626.08,138.36 626.11,136.93 626.14,141.46 626.16,138.94 626.19,135.64 626.22,135.96 626.25,136.49 626.28,136.52 626.31,137.33 626.34,143.13 626.37,137.85 626.4,138.9 626.43,142.04 626.46,140.94 626.49,142.58 626.52,138.53 626.55,142.8 626.58,143.76 626.6,140.34 626.63,140.93 626.66,140.86 626.69,142.1 626.72,138.81 626.75,143.58 626.78,143.53 626.81,143.65 626.84,142.75 626.87,145.17 626.9,143.92 626.92,146.13 626.95,145.81 626.98,144.29 627.01,135.68 627.04,145.57 627.07,145.06 627.1,145.67 627.13,146.04 627.15,145.9 627.18,145.74 627.21,145.88 627.24,146.65 627.27,146.7 627.3,128.26 627.33,146.69 627.35,146.08 627.38,146.01 627.41,146.7 627.44,142.34 627.47,146.52 627.5,146.17 627.52,146.09 627.55,146.39 627.58,135.62 627.61,145.95 627.64,145.99 627.67,146.74 627.69,146.16 627.72,127.39 627.75,145.98 627.78,146.45 627.81,146.71 627.83,146.4 627.86,130.87 627.89,146.36 627.92,145.78 627.95,145.84 627.97,145.68 628,132.09 628.03,146.33 628.06,146.41 628.09,145.71 628.11,144.68 628.14,139.8 628.17,144.48 628.2,144.74 628.22,144.19 628.25,143.47 628.28,132.07 628.31,143.5 628.34,143 628.36,143.57 628.39,143.19 628.42,145.57 628.45,145.66 628.47,142.38 628.5,144.81 628.53,144.49 628.56,129.4 628.58,143.03 628.61,145.43 628.64,142.17 628.66,144.22 628.69,141.41 628.72,141.42 628.75,142.33 628.77,143.47 628.8,142.51 628.83,130.75 628.86,142.03 628.88,144.14 628.91,145.27 628.94,141.14 628.96,142.33 628.99,144.98 629.02,142.64 629.04,142.44 629.07,143.85 629.1,137.54 629.13,144.1 629.15,144.56 629.18,143.75 629.21,143.6 629.23,126.07 629.26,142.03 629.29,144.64 629.31,143.29 629.34,144.71 629.37,137.28 629.39,140.96 629.42,144.73 629.45,142.67 629.47,143.93 629.5,129.17 629.53,141.3 629.55,140.05 629.58,143.64 629.61,142.21 629.63,138.87 629.66,144.68 629.69,141.69 629.71,144.1 629.74,141.05 629.77,140.62 629.79,144.04 629.82,141.31 629.85,143.54 629.87,140.1 629.9,134.77 629.92,140.32 629.95,140.47 629.98,140.83 630,143.09 630.03,137.37 630.06,142 630.08,139.02 630.11,140.98 630.13,141.07 630.16,132.53 630.19,141.67 630.21,138.41 630.24,140.71 630.26,138.33 630.29,138.54 630.32,136.46 630.34,140.65 630.37,141.05 630.39,135.66 630.42,134.75 630.45,140.27 630.47,137.8 630.5,141.58 630.52,135.43 630.55,137.11 630.57,137.96 630.6,141.05 630.63,136.43 630.65,135.41 630.68,136.5 630.7,135.37 630.73,142.72 630.75,136.87 630.78,135.72 630.81,139.23 630.83,142.81 630.86,138.64 630.88,141.35 630.91,143.25 630.93,132.45 630.96,136.1 630.98,137.9 631.01,136.92 631.03,137.65 631.06,137.24 631.09,142.57 631.11,141.13 631.14,139.28 631.16,138.67 631.19,139.59 631.21,142.66 631.24,140.88 631.26,142.24 631.29,136.07 631.31,142.02 631.34,140.65 631.36,139.5 631.39,141.9 631.41,140.01 631.44,139.61 631.46,143.63 631.49,136.68 631.51,139.93 631.54,142.99 631.56,136.69 631.59,142.9 631.61,138.78 631.64,140.66 631.66,142.36 631.69,141.52 631.71,140.84 631.74,141.68 631.76,142.6 631.79,141.45 631.81,132.39 631.84,139.67 631.86,143.08 631.89,144.15 631.91,138.86 631.94,138.74 631.96,140.31 631.98,140.91 632.01,138.14 632.03,143.32 632.06,138.79 632.08,143.73 632.11,143.48 632.13,140.38 632.16,143.54 632.18,135.7 632.21,140.31 632.23,143.82 632.25,139.6 632.28,141.95 632.3,133.53 632.33,144.57 632.35,144.14 632.38,140.72 632.4,143.02 632.43,142.1 632.45,138.9 632.47,142.47 632.5,144.32 632.52,143.74 632.55,141.02 632.57,139.72 632.6,139.82 632.62,141.63 632.64,143.1 632.67,136.96 632.69,143.19 632.72,143.33 632.74,138.8 632.76,141.99 632.79,143.85 632.81,140.49 632.84,141.65 632.86,144.4 632.88,138.25 632.91,138.46 632.93,142.88 632.96,139.18 632.98,141.62 633,140.2 633.03,139.35 633.05,139.82 633.07,141.72 633.1,143.62 633.12,139.36 633.15,141.13 633.17,141.72 633.19,139.68 633.22,140.17 633.24,138.24 633.26,142.12 633.29,140.55 633.31,144.09 633.34,143.92 633.36,143.03 633.38,140.49 633.41,141.86 633.43,143.25 633.45,138.88 633.48,142.07 633.5,136.89 633.52,139.24 633.55,139.94 633.57,140.15 633.59,139.34 633.62,140.45 633.64,143.04 633.66,139.26 633.69,144.72 633.71,139.77 633.74,141.78 633.76,143.05 633.78,142.33 633.8,142.79 633.83,140.32 633.85,140.69 633.87,141.07 633.9,143.85 633.92,142.81 633.94,144.74 633.97,140.24 633.99,144.96 634.01,143.21 634.04,144.47 634.06,141.07 634.08,137.37 634.11,143.89 634.13,141.16 634.15,144.48 634.18,142.03 634.2,139.35 634.22,143.34 634.24,142.63 634.27,143.83 634.29,144.54 634.31,142.84 634.34,141.97 634.36,141.13 634.38,144.08 634.4,144.38 634.43,144.24 634.45,144.63 634.47,145.4 634.5,144.46 634.52,142.47 634.54,141.88 634.56,142.83 634.59,144.3 634.61,144.58 634.63,143.52 634.66,143.71 634.68,143.67 634.7,145.04 634.72,143.16 634.75,141.73 634.77,139.59 634.79,145.17 634.81,143.02 634.84,144.14 634.86,144.41 634.88,141.23 634.9,144.14 634.93,141.46 634.95,142.75 634.97,145.31 634.99,143.51 635.02,145.08 635.04,142.99 635.06,141.29 635.08,145.14 635.11,145.24 635.13,145.22 635.15,144.07 635.17,144.55 635.19,140.76 635.22,138.35 635.24,140.81 635.26,142.49 635.28,141.3 635.31,141.81 635.33,139.61 635.35,142.03 635.37,143.79 635.39,142.91 635.42,141.1 635.44,144.09 635.46,144.31 635.48,140.89 635.51,142.83 635.53,144.28 635.55,143.53 635.57,143.73 635.59,140.59 635.62,142.74 635.64,140.46 635.66,142.76 635.68,140.37 635.7,140.48 635.73,142.27 635.75,141.17 635.77,143.71 635.79,144.59 635.81,142.14 635.83,144.91 635.86,142.87 635.88,142.13 635.9,141.42 635.92,140.82 635.94,144.24 635.97,141.06 635.99,142.88 636.01,142.3 636.03,143.11 636.05,141.33 636.07,143.93 636.1,143.5 636.12,141.57 636.14,142.39 636.16,142.19 636.18,144.87 636.2,140.18 636.23,142.75 636.25,142.27 636.27,142.7 636.29,143.02 636.31,142.83 636.33,144.96 636.36,143.77 636.38,144.29 636.4,142.73 636.42,143.64 636.44,142.91 636.46,143.07 636.48,142.34 636.51,142.59 636.53,145.57 636.55,143.39 636.57,144.48 636.59,145.47 636.61,144.2 636.63,141.89 636.65,143.23 636.68,145.55 636.7,145.27 636.72,143.73 636.74,139.79 636.76,145.74 636.78,145.73 636.8,143.93 636.82,144.21 636.85,141.96 636.87,145.5 636.89,144.69 636.91,143.87 636.93,145.07 636.95,139.04 636.97,146.06 636.99,144.07 637.01,145.03 637.04,145.23 637.06,139.44 637.08,144.11 637.1,144.13 637.12,145.43 637.14,144.83 637.16,142.4 637.18,144.37 637.2,144.51 637.22,144.84 637.25,144.52 637.27,145.24 637.29,145.14 637.31,146.03 637.33,144.91 637.35,145.81 637.37,145.27 637.39,146.42 637.41,145.65 637.43,145.24 637.45,145.24 637.48,145.21 637.5,146 637.52,145.26 637.54,145.27 637.56,145.42 637.58,141.17 637.6,146.24 637.62,145.53 637.64,146.43 637.66,144.93 637.68,143.51 637.7,146.05 637.72,145.77 637.74,146.37 637.76,145.04 637.79,142.15 637.81,145.16 637.83,145.58 637.85,144.96 637.87,146 637.89,141.44 637.91,146.26 637.93,145.83 637.95,144.96 637.97,145.41 637.99,145.6 638.01,145.61 638.03,145.43 638.05,145.46 638.07,145.72 638.09,140 638.11,146.33 638.13,145.69 638.15,145.25 638.17,146.07 638.19,140.81 638.21,144.94 638.23,146.2 638.25,146.07 638.27,144.84 638.3,146.19 638.32,145.82 638.34,144.56 638.36,145.55 638.38,144.69 638.4,141.94 638.42,146.33 638.44,145.89 638.46,144.37 638.48,145.64 638.5,144.85 638.52,144.23 638.54,146.07 638.56,144.09 638.58,144.81 638.6,144.83 638.62,146.28 638.64,144.79 638.66,144.32 638.68,145.33 638.7,146.08 638.72,145.94 638.74,146.07 638.76,145.24 638.78,144.26 638.8,143.31 638.82,145.25 638.84,145.26 638.86,145.27 638.88,144.96 638.9,144.94 638.92,145.75 638.94,144.33 638.96,145.01 638.98,145.41 639,143.96 639.02,144.6 639.04,145.9 639.06,144.03 639.07,144.96 639.09,141.84 639.11,145.78 639.13,146.18 639.15,145.8 639.17,145.72 639.19,142.62 639.21,144.29 639.23,145.17 639.25,146.02 639.27,145.69 639.29,145.37 639.31,146.3 639.33,145.6 639.35,145.57 639.37,144.89 639.39,145.46 639.41,145.39 639.43,145.46 639.45,146.31 639.47,145.74 639.49,141.48 639.51,146.42 639.53,146.64 639.55,145.35 639.57,146.6 639.58,145.63 639.6,146.32 639.62,146.68 639.64,145.74 639.66,146.13 639.68,143.23 639.7,146.06 639.72,146.24 639.74,146.54 639.76,146.34 639.78,144.89 639.8,146.83 639.82,146.49 639.84,146.41 639.86,146.6 639.87,145.15 639.89,146.54 639.91,146.68 639.93,146.87 639.95,146.86 639.97,145.68 639.99,146.9 640.01,147.1 640.03,147.12 640.05,147.08 640.07,146.96 640.09,147.1 640.11,147.08 640.12,146.96 640.14,147.12 640.16,143.78 640.18,147.09 640.2,147.14 640.22,146.98 640.24,147.08 640.26,142.01 640.28,147.07 640.3,147.14 640.32,146.96 640.33,147.12 640.35,141.96 640.37,146.99 640.39,147.07 640.41,147.04 640.43,147.08 640.45,142.02 640.47,147.08 640.49,147.05 640.5,147.15 640.52,147.15 640.54,144.24 640.56,146.97 640.58,146.93 640.6,146.97 640.62,147.03 640.64,143.63 640.66,147 640.67,146.99 640.69,146.93 640.71,147.08 640.73,143.94 640.75,146.98 640.77,147.11 640.79,147.13 640.81,146.92 640.82,145.9 640.84,146.86 640.86,146.82 640.88,147.05 640.9,146.82 640.92,144.22 640.94,146.96 640.95,146.63 640.97,146.64 640.99,146.67 641.01,141.33 641.03,146.48 641.05,146.68 641.07,146.41 641.09,146.53 641.1,144.76 641.12,146.41 641.14,146.35 641.16,146.28 641.18,146.44 641.2,144.02 641.21,146.17 641.23,146.52 641.25,146.7 641.27,146.67 641.29,145.92 641.31,146.02 641.33,146.75 641.34,145.83 641.36,146.78 641.38,145.96 641.4,146.5 641.42,146.13 641.44,146.52 641.45,145.58 641.47,141.83 641.49,146.07 641.51,145.84 641.53,146.03 641.55,146.34 641.56,142.85 641.58,145.2 641.6,146.41 641.62,146.57 641.64,145.1 641.66,145.09 641.67,145.38 641.69,145.72 641.71,144.83 641.73,145.76 641.75,145.87 641.76,145.66 641.78,145.45 641.8,145.38 641.82,144.68 641.84,145.87 641.86,144.66 641.87,145.31 641.89,144.83 641.91,145.48 641.93,144.31 641.95,145.6 641.96,145.71 641.98,145.29 642,144.93 642.02,144.36 642.04,145.87 642.05,145.2 642.07,144.98 642.09,144.26 642.11,144.5 642.13,144.69 642.14,144.54 642.16,145.08 642.18,144.15 642.2,143.86 642.22,144.73 642.23,145.88 642.25,145.06 642.27,145.47 642.29,144.68 642.3,145.37 642.32,143.97 642.34,145.22 642.36,144.99 642.38,145.11 642.39,145.64 642.41,144.58 642.43,145 642.45,143.58 642.47,144.45 642.48,143.46 642.5,143.78 642.52,144.79 642.54,146.08 642.55,142.53 642.57,145.81 642.59,144.13 642.61,145.76 642.62,144.4 642.64,143.34 642.66,144.86 642.68,144.13 642.7,145.36 642.71,145.71 642.73,145.41 642.75,143.7 642.77,144.74 642.78,145.44 642.8,145.81 642.82,143.13 642.84,145.36 642.85,144.67 642.87,145.08 642.89,144.21 642.91,143.79 642.92,144.85 642.94,145.42 642.96,144.36 642.98,146.06 642.99,144.5 643.01,144.24 643.03,144.51 643.05,146.09 643.06,145.01 643.08,144.54 643.1,145.43 643.12,144.5 643.13,146 643.15,145.24 643.17,144.88 643.19,144.74 643.2,145.55 643.22,145.88 643.24,144.98 643.26,145.81 643.27,145.71 643.29,145.53 643.31,144.94 643.32,145.66 643.34,145.41 643.36,145.22 643.38,145.25 643.39,144.74 643.41,145.67 643.43,144.75 643.45,146.49 643.46,146.2 643.48,146.11 643.5,146.18 643.51,145.67 643.53,146.22 643.55,145.61 643.57,145.2 643.58,146.46 643.6,145.06 643.62,145.78 643.63,146.52 643.65,146.37 643.67,145.69 643.69,142.96 643.7,145.19 643.72,145.72 643.74,145.44 643.75,146.08 643.77,142.98 643.79,145.31 643.81,145.68 643.82,145.22 643.84,146.23 643.86,146.45 643.87,145.59 643.89,146.43 643.91,146.51 643.92,146.02 643.94,145.55 643.96,146.06 643.98,145.46 643.99,145.91 644.01,146.17 644.03,144 644.04,145.67 644.06,146.37 644.08,145.67 644.09,146.33 644.11,144.28 644.13,145.74 644.14,146.26 644.16,146.52 644.18,146.23 644.2,146.06 644.21,145.63 644.23,145.47 644.25,145.38 644.26,145.82 644.28,145.49 644.3,145.61 644.31,146.04 644.33,146.16 644.35,145.84 644.36,145.32 644.38,146.29 644.4,145.39 644.41,146.48 644.43,146.18 644.45,144.16 644.46,145.02 644.48,145.08 644.5,145.22 644.51,146 644.53,144.61 644.55,145.33 644.56,144.73 644.58,144.66 644.6,145.99 644.61,144.56 644.63,146.28 644.65,145.18 644.66,145.92 644.68,146.24 644.7,145.28 644.71,145.99 644.73,144.81 644.75,145.46 644.76,145.85 644.78,145.2 644.8,144.96 644.81,145.06 644.83,144.69 644.85,145.57 644.86,143.85 644.88,146.32 644.89,144.4 644.91,144.72 644.93,146.14 644.94,144.22 644.96,146.16 644.98,144.71 644.99,145.81 645.01,144.82 645.03,144.49 645.04,146.07 645.06,145.61 645.08,144.33 645.09,145.25 645.11,144.76 645.12,146.12 645.14,146.04 645.16,146.07 645.17,145.5 645.19,144.53 645.21,145.27 645.22,146.08 645.24,145.49 645.26,145.18 645.27,145.26 645.29,144.81 645.3,144.71 645.32,144.55 645.34,145.04 645.35,144.98 645.37,144.48 645.39,144.44 645.4,144.56 645.42,145.25 645.43,144.07 645.45,146.05 645.47,144.53 645.48,144.86 645.5,144.61 645.51,146.11 645.53,143.97 645.55,146.2 645.56,145.85 645.58,145.04 645.6,144.62 645.61,145.85 645.63,145.59 645.64,144.1 645.66,145.51 645.68,145.22 645.69,146.01 645.71,144.92 645.72,144.62 645.74,144.52 645.76,144.62 645.77,145.41 645.79,144.74 645.8,144 645.82,144.48 645.84,145.62 645.85,146.14 645.87,145.53 645.88,145.07 645.9,145.67 645.92,144.48 645.93,145.72 645.95,146.03 645.96,144.94 645.98,144.59 646,145.16 646.01,145.57 646.03,145.75 646.04,146.27 646.06,144.83 646.08,145.39 646.09,145.01 646.11,144.99 646.12,145.21 646.14,146.27 646.16,145.81 646.17,145.28 646.19,145.35 646.2,146.36 646.22,146.37 646.23,144.81 646.25,145.74 646.27,144.96 646.28,146.02 646.3,145.9 646.31,144.66 646.33,146.05 646.34,145.65 646.36,145.49 646.38,145.1 646.39,145.86 646.41,145.26 646.42,146.07 646.44,145.24 646.45,146.46 646.47,145.64 646.49,146.41 646.5,146.34 646.52,145.22 646.53,145.73 646.55,144.31 646.56,144.9 646.58,146.25 646.6,145.29 646.61,144.97 646.63,145.94 646.64,146.46 646.66,145.86 646.67,145.74 646.69,145.53 646.7,145.73 646.72,146.16 646.74,146.38 646.75,146.12 646.77,145.94 646.78,144.35 646.8,146.21 646.81,145.37 646.83,146.05 646.84,146.49 646.86,145.73 646.88,146.18 646.89,145.97 646.91,146.14 646.92,146.53 646.94,145.69 646.95,145.93 646.97,145.38 646.98,146.7 647,145.95 647.01,146.15 647.03,146.15 647.05,145.78 647.06,146.41 647.08,146.21 647.09,145.29 647.11,146.01 647.12,146.18 647.14,146.68 647.15,146.44 647.17,144.73 647.18,146.07 647.2,146.62 647.21,145.97 647.23,145.73 647.25,145.74 647.26,146.66 647.28,146.56 647.29,145.81 647.31,146.09 647.32,145.56 647.34,146.54 647.35,145.72 647.37,145.91 647.38,145.89 647.4,146.57 647.41,145.53 647.43,146.43 647.44,146.31 647.46,146.45 647.47,145.58 647.49,145.96 647.5,146.06 647.52,146.23 647.54,145.85 647.55,145.45 647.57,146.16 647.58,146.55 647.6,145.71 647.61,146.65 647.63,145.6 647.64,145.58 647.66,146.07 647.67,146.53 647.69,146.46 647.7,146.33 647.72,145.84 647.73,146.27 647.75,145.48 647.76,146.29 647.78,146.31 647.79,145.86 647.81,145.6 647.82,146.05 647.84,146.57 647.85,146.07 647.87,145.81 647.88,145.74 647.9,145.46 647.91,145.99 647.93,145.72 647.94,145.86 647.96,146.02 647.97,145.69 647.99,146.46 648,146.53 648.02,146.33 648.03,146.24 648.05,145.52 648.06,145.68 648.08,145.79 648.09,145.61 648.11,146.25 648.12,145.5 648.14,145.6 648.15,146.22 648.17,146.27 648.18,146.36 648.2,146.51 648.21,145.6 648.23,144.6 648.24,145.7 648.26,146.03 648.27,146.68 648.29,146.24 648.3,145.83 648.31,146.39 648.33,146.42 648.34,146.66 648.36,146.23 648.37,145.7 648.39,146.76 648.4,145.78 648.42,146.12 648.43,146.48 648.45,145.81 648.46,145.79 648.48,145.75 648.49,146.31 648.51,146.37 648.52,146.12 648.54,145.9 648.55,146.46 648.57,146.49 648.58,146.42 648.59,144.99 648.61,146.01 648.62,146.4 648.64,146.4 648.65,146.25 648.67,145.63 648.68,146.21 648.7,146.57 648.71,146.61 648.73,146.58 648.74,145.35 648.76,146.19 648.77,146.89 648.79,146.39 648.8,146.2 648.81,146.45 648.83,146.61 648.84,146.54 648.86,146.52 648.87,146.44 648.89,144.61 648.9,146.34 648.92,146.53 648.93,146.74 648.95,146.29 648.96,146.67 648.97,146.42 648.99,146.76 649,146.6 649.02,146.85 649.03,146.1 649.05,146.77 649.06,146.89 649.08,146.51 649.09,146.71 649.1,146.78 649.12,146.65 649.13,146.87 649.15,146.75 649.16,146.68 649.18,145.05 649.19,146.78 649.21,146.61 649.22,146.55 649.23,146.5 649.25,144.71 649.26,146.52 649.28,146.54 649.29,146.7 649.31,146.97 649.32,145.88 649.34,146.78 649.35,146.7 649.36,146.91 649.38,146.56 649.39,146.88 649.41,146.57 649.42,146.92 649.44,146.83 649.45,146.74 649.46,146.94 649.48,146.87 649.49,146.75 649.51,146.71 649.52,146.64 649.54,146.54 649.55,146.62 649.56,146.94 649.58,146.79 649.59,146.72 649.61,145.82 649.62,146.71 649.64,146.7 649.65,146.81 649.66,146.65 649.68,145.16 649.69,146.9 649.71,146.7 649.72,146.83 649.73,146.76 649.75,146.18 649.76,146.75 649.78,146.71 649.79,146.69 649.81,146.97 649.82,146.01 649.83,147.03 649.85,146.85 649.86,146.62 649.88,146.86 649.89,145.41 649.9,146.92 649.92,146.99 649.93,146.87 649.95,146.66 649.96,146.25 649.97,146.8 649.99,146.88 650,146.69 650.02,146.85 650.03,145.75 650.04,146.69 650.06,147.01 650.07,146.68 650.09,146.59 650.1,145.38 650.11,146.67 650.13,147.04 650.14,146.99 650.16,146.9 650.17,145.28 650.18,147.02 650.2,146.82 650.21,146.82 650.23,146.95 650.24,144.98 650.25,146.92 650.27,146.59 650.28,146.77 650.3,146.68 650.31,145.65 650.32,146.7 650.34,146.63 650.35,146.6 650.37,146.97 650.38,145.4 650.39,146.81 650.41,146.99 650.42,146.75 650.44,146.57 650.45,146.56 650.46,146.96 650.48,146.99 650.49,146.78 650.5,146.68 650.52,146.65 650.53,146.68 650.55,146.83 650.56,146.63 650.57,146.8 650.59,146.17 650.6,147.05 650.62,146.83 650.63,147.02 650.64,146.96 650.66,146.93 650.67,146.81 650.68,147.03 650.7,146.75 650.71,146.9 650.73,146.98 650.74,146.66 650.75,146.8 650.77,146.94 650.78,147.03 650.79,146.77 650.81,146.77 650.82,146.88 650.83,146.97 650.85,147.05 650.86,145.68 650.88,146.8 650.89,147.04 650.9,146.74 650.92,146.84 650.93,145.24 650.94,147.04 650.96,146.95 650.97,146.8 650.99,147.08 651,145 651.01,147.1 651.03,146.9 651.04,146.84 651.05,146.96 651.07,146.66 651.08,146.86 651.09,146.97 651.11,146.88 651.12,147.04 651.13,146.25 651.15,147.13 651.16,147.08 651.18,147.05 651.19,146.97 651.2,147.05 651.22,147.1 651.23,146.96 651.24,147.04 651.26,147.04 651.27,146.71 651.28,147.04 651.3,147.12 651.31,146.99 651.32,147.14 651.34,146.79 651.35,147.06 651.36,147.08 651.38,147.14 651.39,147.07 651.4,145.34 651.42,147.11 651.43,147.04 651.45,147.05 651.46,147.1 651.47,145.49 651.49,147.1 651.5,147.16 651.51,147.08 651.53,147.11 651.54,145.49 651.55,147.07 651.57,147.13 651.58,147.16 651.59,147.15 651.61,146.35 651.62,147.09 651.63,147.1 651.65,147.15 651.66,147.14 651.67,146.77 651.69,147.12 651.7,147.1 651.71,147.17 651.73,147.12 651.74,146.48 651.75,147.09 651.77,147.1 651.78,147.08 651.79,147.16 651.81,145.7 651.82,147.12 651.83,147.19 651.85,147.08 651.86,147.16 651.87,146.83 651.89,147.17 651.9,147.08 651.91,147.18 651.93,147.12 651.94,145.37 651.95,147.05 651.96,147.17 651.98,147.14 651.99,147.04 652,145.88 652.02,147.15 652.03,146.98 652.04,147.1 652.06,147.08 652.07,146.05 652.08,147.06 652.1,146.98 652.11,147.04 652.12,147.1 652.14,146.83 652.15,146.95 652.16,147.08 652.18,146.99 652.19,147 652.2,145.9 652.22,147.04 652.23,147.07 652.24,146.95 652.25,146.89 652.27,146.67 652.28,147.09 652.29,146.88 652.31,146.96 652.32,146.9 652.33,146.84 652.35,146.86 652.36,146.99 652.37,146.81 652.39,147.02 652.4,145.75 652.41,146.99 652.42,146.84 652.44,146.83 652.45,146.78 652.46,145.46 652.48,146.86 652.49,147.06 652.5,147 652.52,147.07 652.53,146.19 652.54,146.71 652.55,146.83 652.57,146.82 652.58,146.69 652.59,146.93 652.61,146.83 652.62,146.72 652.63,146.98 652.65,146.75 652.66,145.85 652.67,146.9 652.68,146.98 652.7,146.86 652.71,146.97 652.72,146.83 652.74,146.85 652.75,146.87 652.76,146.71 652.77,147.05 652.79,146.02 652.8,147.03 652.81,146.82 652.83,147.04 652.84,146.61 652.85,146.48 652.86,146.82 652.88,147.02 652.89,146.67 652.9,146.92 652.92,145.46 652.93,146.7 652.94,146.67 652.95,146.87 652.97,147.02 652.98,146.54 652.99,146.93 653.01,147.03 653.02,146.76 653.03,146.64 653.04,145.79 653.06,147.04 653.07,146.74 653.08,146.79 653.09,146.94 653.11,146.94 653.12,146.72 653.13,147.06 653.15,146.96 653.16,146.91 653.17,146.72 653.18,146.93 653.2,147.05 653.21,146.76 653.22,146.79 653.23,145.9 653.25,146.78 653.26,146.83 653.27,146.94 653.29,146.86 653.3,146.66 653.31,146.79 653.32,146.73 653.34,146.97 653.35,147.07 653.36,145.98 653.37,146.89 653.39,147.02 653.4,147.06 653.41,147.04 653.43,146.17 653.44,146.89 653.45,147.08 653.46,147.03 653.48,147.04 653.49,146.63 653.5,146.89 653.51,147.05 653.53,146.98 653.54,147.04 653.55,147.12 653.56,147.14 653.58,146.98 653.59,147 653.6,147.04 653.61,146.45 653.63,147.09 653.64,147.06 653.65,147.12 653.66,147.05 653.68,146.06 653.69,147.14 653.7,147.01 653.71,147.09 653.73,147.02 653.74,146.04 653.75,147.18 653.76,147.09 653.78,147.16 653.79,147.11 653.8,146.8 653.81,147.15 653.83,147.13 653.84,147.13 653.85,147.19 653.86,146.52 653.88,147.18 653.89,147.17 653.9,147.15 653.91,147.21 653.93,146.74 653.94,147.19 653.95,147.2 653.96,147.17 653.98,147.2 653.99,146.67 654,147.22 654.01,147.19 654.03,147.22 654.04,147.17 654.05,146.34 654.06,147.21 654.08,147.2 654.09,147.21 654.1,147.16 654.11,146.91 654.12,147.16 654.14,147.18 654.15,147.21 654.16,147.19 654.17,146.93 654.19,147.19 654.2,147.22 654.21,147.19 654.22,147.22 654.24,146.67 654.25,147.17 654.26,147.18 654.27,147.17 654.28,147.18 654.3,145.87 654.31,147.21 654.32,147.18 654.33,147.21 654.35,147.22 654.36,146.04 654.37,147.21 654.38,147.18 654.4,147.2 654.41,147.22 654.42,147.17 654.43,147.16 654.44,147.18 654.46,147.16 654.47,147.16 654.48,147.15 654.49,147.16 654.51,147.15 654.52,147.14 654.53,147.2 654.54,146.85 654.55,147.13 654.57,147.16 654.58,147.09 654.59,147.19 654.6,146.21 654.62,147.14 654.63,147.13 654.64,147.04 654.65,147.17 654.66,146.93 654.68,146.98 654.69,147.16 654.7,146.96 654.71,147.01 654.72,147.12 654.74,146.95 654.75,147.12 654.76,147.04 654.77,147.07 654.79,146.83 654.8,147.09 654.81,147.01 654.82,146.94 654.83,146.96 654.85,146.8 654.86,146.79 654.87,146.79 654.88,147.05 654.89,146.81 654.91,146.77 654.92,146.71 654.93,146.91 654.94,146.66 654.95,146.81 654.97,145.92 654.98,146.81 654.99,146.85 655,146.7 655.01,146.76 655.03,146.21 655.04,146.77 655.05,146.99 655.06,146.92 655.07,146.77 655.09,146.71 655.1,146.5 655.11,146.62 655.12,146.88 655.13,146.78 655.15,146.62 655.16,146.43 655.17,146.47 655.18,146.5 655.19,146.77 655.21,146.52 655.22,146.76 655.23,146.88 655.24,146.34 655.25,146.41 655.27,146.09 655.28,146.3 655.29,146.69 655.3,146.88 655.31,146.52 655.33,146.11 655.34,146.42 655.35,146.54 655.36,146.83 655.37,146.8 655.38,146.52 655.4,146.29 655.41,146.68 655.42,146.67 655.43,146.61 655.44,145.93 655.46,146.05 655.47,146.32 655.48,146.76 655.49,145.82 655.5,145.88 655.52,146.48 655.53,146.79 655.54,146.26 655.55,146.61 655.56,146.36 655.57,146.33 655.59,146.43 655.6,145.73 655.61,146.32 655.62,146.64 655.63,146.09 655.65,145.71 655.66,146.48 655.67,146.15 655.68,146.29 655.69,145.93 655.7,146.36 655.72,146.43 655.73,145.55 655.74,145.71 655.75,145.86 655.76,145.91 655.77,145.55 655.79,146.66 655.8,146.16 655.81,145.93 655.82,146.56 655.83,145.45 655.85,145.84 655.86,145.75 655.87,145.49 655.88,145.98 655.89,145.55 655.9,146.25 655.92,145.54 655.93,146.07 655.94,145.73 655.95,146.38 655.96,146.11 655.97,146.01 655.99,146.07 656,145.54 656.01,146.14 656.02,145.61 656.03,146.58 656.04,146.46 656.06,146.5 656.07,146.49 656.08,145.98 656.09,146.43 656.1,145.87 656.11,145.61 656.12,145.55 656.14,146.65 656.15,146.41 656.16,146.17 656.17,146.71 656.18,145.88 656.19,146.16 656.21,146.2 656.22,146.54 656.23,146.65 656.24,145.65 656.25,146.01 656.26,146.05 656.28,145.68 656.29,146.61 656.3,146.28 656.31,146.67 656.32,145.82 656.33,145.72 656.34,146.43 656.36,145.82 656.37,145.68 656.38,146.01 656.39,145.68 656.4,146.4 656.41,145.99 656.43,146.19 656.44,146.41 656.45,146.14 656.46,146.8 656.47,146.27 656.48,146.28 656.49,146.14 656.51,146.01 656.52,145.9 656.53,146 656.54,145.94 656.55,146.45 656.56,146.73 656.57,146.19 656.59,146.8 656.6,145.91 656.61,146.12 656.62,146.61 656.63,146.83 656.64,146.07 656.65,146.09 656.67,146.75 656.68,146.17 656.69,146.8 656.7,146.26 656.71,146.41 656.72,146.32 656.73,146.77 656.75,146.21 656.76,146.23 656.77,146.19 656.78,146.57 656.79,146.69 656.8,146.46 656.81,146.34 656.83,146.3 656.84,146.56 656.85,146.44 656.86,146.42 656.87,146.47 656.88,146.38 656.89,146.7 656.9,146.76 656.92,146.72 656.93,146.35 656.94,146.22 656.95,146.71 656.96,146.47 656.97,146.53 656.98,146.32 657,146.94 657.01,146.28 657.02,146.34 657.03,146.28 657.04,146.67 657.05,146.62 657.06,146.38 657.07,146.32 657.09,146.8 657.1,146.36 657.11,146.89 657.12,146.74 657.13,146.95 657.14,146.92 657.15,146.91 657.16,146.81 657.18,146.31 657.19,146.32 657.2,146.43 657.21,146.9 657.22,146.84 657.23,145.97 657.24,146.57 657.25,146.67 657.27,146.69 657.28,146.47 657.29,146.3 657.3,146.49 657.31,146.96 657.32,146.9 657.33,146.84 657.34,146.57 657.36,146.57 657.37,146.37 657.38,146.36 657.39,146.41 657.4,146.5 657.41,146.92 657.42,146.35 657.43,146.31 657.44,146.94 657.46,146.96 657.47,146.83 657.48,146.7 657.49,146.45 657.5,146.63 657.51,146.47 657.52,146.36 657.53,146.82 657.54,146.72 657.56,146.23 657.57,146.08 657.58,146.57 657.59,146.52 657.6,146.52 657.61,146.38 657.62,146.27 657.63,146.45 657.64,146.44 657.66,146.48 657.67,146.74 657.68,146.32 657.69,146.77 657.7,146.72 657.71,146.65 657.72,146.49 657.73,146.25 657.74,146.62 657.75,146.42 657.77,146.55 657.78,146.54 657.79,146.1 657.8,146.36 657.81,146.89 657.82,146.17 657.83,146.47 657.84,146.07 657.85,146.79 657.87,146.06 657.88,146.32 657.89,146.35 657.9,146.45 657.91,146.04 657.92,146.15 657.93,146.42 657.94,146.55 657.95,146.54 657.96,146.45 657.97,146.72 657.99,146.67 658,146.28 658.01,146.18 658.02,146.05 658.03,146.73 658.04,146.59 658.05,146.7 658.06,146.3 658.07,146.59 658.08,146.57 658.1,146.81 658.11,146.15 658.12,145.98 658.13,146.74 658.14,146.41 658.15,146.14 658.16,146.06 658.17,146.54 658.18,146.81 658.19,146.15 658.2,146.21 658.22,146.5 658.23,145.95 658.24,146.2 658.25,146.34 658.26,146.32 658.27,146.79 658.28,145.98 658.29,145.95 658.3,146.72 658.31,146.16 658.32,146.34 658.33,146.51 658.35,146.33 658.36,146.76 658.37,146.56 658.38,146.57 658.39,146.26 658.4,146.4 658.41,146.85 658.42,146.62 658.43,146.54 658.44,146.56 658.45,146.18 658.46,146.15 658.48,146.05 658.49,146.06 658.5,146.46 658.51,146.4 658.52,146.37 658.53,146.46 658.54,146.86 658.55,146.8 658.56,146.22 658.57,146.26 658.58,146.64 658.59,146.74 658.6,146.39 658.62,146.21 658.63,146.87 658.64,146.38 658.65,146.73 658.66,146.12 658.67,146.57 658.68,146.79 658.69,146.33 658.7,146.85 658.71,146.09 658.72,146.41 658.73,146.29 658.74,146.51 658.75,146.84 658.77,146.33 658.78,146.24 658.79,146.92 658.8,146.27 658.81,146.49 658.82,146.09 658.83,146.67 658.84,146.84 658.85,146.53 658.86,146.33 658.87,146.22 658.88,146.57 658.89,146.52 658.9,146.33 658.91,146.96 658.93,146.72 658.94,146.89 658.95,146.77 658.96,146.38 658.97,146.86 658.98,146.69 658.99,146.45 659,146.5 659.01,146.4 659.02,146.91 659.03,146.5 659.04,146.85 659.05,146.69 659.06,146.58 659.07,146.93 659.08,146.62 659.1,146.87 659.11,146.43 659.12,146.67 659.13,146.92 659.14,146.52 659.15,146.72 659.16,146.56 659.17,146.7 659.18,146.51 659.19,146.03 659.2,146.47 659.21,147.01 659.22,146.81 659.23,146.93 659.24,146.48 659.25,147.01 659.26,146.87 659.27,146.81 659.29,146.99 659.3,146.13 659.31,146.62 659.32,146.74 659.33,146.82 659.34,146.93 659.35,146.92 659.36,146.82 659.37,146.72 659.38,146.59 659.39,146.91 659.4,146.48 659.41,146.7 659.42,146.96 659.43,147.02 659.44,147.03 659.45,146.55 659.46,146.92 659.47,147.01 659.48,146.71 659.49,146.91 659.51,146.57 659.52,146.72 659.53,146.61 659.54,146.72 659.55,146.69 659.56,146.53 659.57,146.84 659.58,146.66 659.59,146.96 659.6,147.02 659.61,146.55 659.62,146.86 659.63,146.78 659.64,146.86 659.65,146.69 659.66,146.67 659.67,146.96 659.68,146.68 659.69,146.9 659.7,146.78 659.71,146.82 659.72,146.65 659.73,146.85 659.74,146.66 659.76,146.6 659.77,146.78 659.78,146.66 659.79,146.63 659.8,146.94 659.81,146.84 659.82,146.62 659.83,146.69 659.84,146.65 659.85,146.77 659.86,146.87 659.87,146.68 659.88,146.89 659.89,146.78 659.9,146.95 659.91,146.86 659.92,146.47 659.93,147 659.94,147.01 659.95,146.64 659.96,146.59 659.97,146.44 659.98,146.88 659.99,146.74 660,146.99 660.01,147.02 660.02,146.32 660.03,146.92 660.04,146.6 660.05,146.81 660.06,146.78 660.07,146.8 660.09,146.82 660.1,146.93 660.11,146.76 660.12,146.85 660.13,146.66 660.14,146.92 660.15,146.97 660.16,146.65 660.17,146.8 660.18,146.23 660.19,146.69 660.2,146.92 660.21,146.72 660.22,146.75 660.23,146.92 660.24,146.75 660.25,146.83 660.26,147.04 660.27,146.6 660.28,146.38 660.29,146.87 660.3,146.64 660.31,146.73 660.32,146.98 660.33,146.38 660.34,147.05 660.35,146.7 660.36,146.77 660.37,146.74 660.38,146.79 660.39,146.89 660.4,146.74 660.41,146.84 660.42,146.7 660.43,146.42 660.44,146.93 660.45,146.98 660.46,146.81 660.47,146.76 660.48,146.29 660.49,146.6 660.5,146.87 660.51,147.05 660.52,146.7 660.53,146.31 660.54,147.04 660.55,146.91 660.56,146.82 660.57,146.93 660.58,146.89 660.59,146.98 660.6,146.87 660.61,146.66 660.62,146.89 660.63,146.26 660.64,146.94 660.65,146.98 660.66,146.89 660.68,147.03 660.69,146.81 660.7,146.69 660.71,146.83 660.72,146.93 660.73,146.88 660.74,146.16 660.75,146.92 660.76,146.87 660.77,146.68 660.78,146.91 660.79,146.17 660.8,146.95 660.81,147.02 660.82,146.81 660.83,146.75 660.84,146.73 660.85,146.86 660.86,146.61 660.87,146.58 660.88,146.77 660.89,146.58 660.9,146.59 660.91,146.93 660.92,146.95 660.93,146.95 660.94,146.34 660.95,146.59 660.96,146.81 660.97,146.94 660.98,146.71 660.99,146.22 661,146.99 661.01,146.78 661.02,146.54 661.03,146.6 661.04,146.44 661.05,146.73 661.06,146.44 661.07,146.78 661.08,146.71 661.09,146.56 661.1,146.73 661.11,146.9 661.12,146.57 661.13,146.44 661.14,146.75 661.15,146.74 661.16,146.8 661.17,146.56 661.17,146.68 661.18,146.85 661.19,146.42 661.2,146.98 661.21,146.45 661.22,146.43 661.23,146.51 661.24,146.97 661.25,146.56 661.26,146.6 661.27,146.86 661.28,146.29 661.29,146.91 661.3,146.7 661.31,146.62 661.32,146.37 661.33,146.16 661.34,146.86 661.35,146.32 661.36,146.53 661.37,146.87 661.38,146.88 661.39,146.7 661.4,146.79 661.41,146.7 661.42,146.77 661.43,146.31 661.44,146.38 661.45,146.48 661.46,146.89 661.47,146.38 661.48,146.28 661.49,146.32 661.5,146.91 661.51,146.84 661.52,146.85 661.53,146.35 661.54,146.24 661.55,146.39 661.56,146.72 661.57,146.91 661.58,146.22 661.59,146.81 661.6,146.33 661.61,146.59 661.62,146.68 661.63,146.63 661.64,146.88 661.65,146.85 661.66,146.28 661.67,146.59 661.68,146.32 661.69,146.68 661.7,146.56 661.71,146.32 661.72,146.44 661.73,146.48 661.74,146.58 661.75,146.17 661.76,146.91 661.76,146.62 661.77,146.22 661.78,146.85 661.79,146.89 661.8,146.33 661.81,146.57 661.82,146.29 661.83,146.69 661.84,146.62 661.85,146.57 661.86,146.28 661.87,146.6 661.88,146.79 661.89,146.79 661.9,146.56 661.91,146.55 661.92,146.39 661.93,146.15 661.94,146.21 661.95,146.74 661.96,146.61 661.97,146.21 661.98,146.31 661.99,146.53 662,146.8 662.01,146.89 662.02,146.51 662.03,146.45 662.04,146.79 662.05,146.57 662.06,146.63 662.07,146.18 662.07,146.38 662.08,146.17 662.09,146.53 662.1,146.55 662.11,146.17 662.12,146.61 662.13,146.5 662.14,146.91 662.15,146.8 662.16,146.14 662.17,146.74 662.18,146.6 662.19,146.25 662.2,146.77 662.21,146.82 662.22,146.5 662.23,146.66 662.24,146.9 662.25,146.36 662.26,146.22 662.27,146.37 662.28,146.33 662.29,146.36 662.3,146.2 662.31,146.4 662.32,146.28 662.32,146.41 662.33,146.23 662.34,146.31 662.35,146.38 662.36,146.45 662.37,146.76 662.38,146.7 662.39,146.83 662.4,146.65 662.41,146.33 662.42,146.69 662.43,146.3 662.44,146.8 662.45,146.47 662.46,146.78 662.47,146.48 662.48,146.38 662.49,146.31 662.5,146.4 662.51,146.85 662.52,146.46 662.53,146.74 662.53,146.59 662.54,146.25 662.55,146.64 662.56,146.48 662.57,146.87 662.58,146.54 662.59,146.33 662.6,146.58 662.61,146.73 662.62,146.81 662.63,146.63 662.64,146.68 662.65,146.47 662.66,146.44 662.67,146.47 662.68,146.43 662.69,146.41 662.7,146.45 662.71,146.79 662.71,146.56 662.72,146.69 662.73,146.72 662.74,146.53 662.75,146.87 662.76,146.49 662.77,146.59 662.78,146.76 662.79,146.68 662.8,146.59 662.81,146.8 662.82,146.33 662.83,146.31 662.84,146.9 662.85,146.48 662.86,146.68 662.87,146.4 662.88,146.33 662.88,146.63 662.89,146.54 662.9,146.72 662.91,146.52 662.92,146.3 662.93,146.75 662.94,146.95 662.95,146.31 662.96,146.95 662.97,146.51 662.98,146.58 662.99,146.7 663,146.35 663.01,146.89 663.02,146.81 663.03,146.41 663.03,146.97 663.04,146.8 663.05,146.86 663.06,146.23 663.07,146.48 663.08,146.33 663.09,146.81 663.1,146.97 663.11,146.48 663.12,146.36 663.13,146.96 663.14,146.56 663.15,146.58 663.16,146.6 663.17,146.55 663.17,146.79 663.18,146.38 663.19,146.83 663.2,146.34 663.21,146.34 663.22,146.42 663.23,146.72 663.24,146.34 663.25,146.41 663.26,146.65 663.27,146.64 663.28,146.88 663.29,146.32 663.3,146.85 663.31,146.66 663.31,146.92 663.32,146.79 663.33,146.42 663.34,146.52 663.35,146.73 663.36,146.54 663.37,146.86 663.38,146.54 663.39,146.38 663.4,146.97 663.41,146.78 663.42,146.8 663.43,146.92 663.43,146.37 663.44,146.52 663.45,146.57 663.46,146.57 663.47,146.53 663.48,146.25 663.49,146.84 663.5,146.93 663.51,146.87 663.52,146.84 663.53,146.45 663.54,146.76 663.55,146.72 663.55,146.49 663.56,146.34 663.57,146.91 663.58,146.59 663.59,146.7 663.6,146.86 663.61,146.75 663.62,146.32 663.63,146.8 663.64,146.61 663.65,146.68 663.66,146.97 663.67,146.41 663.67,146.41 663.68,146.43 663.69,146.69 663.7,146.7 663.71,146.54 663.72,146.33 663.73,146.65 663.74,146.79 663.75,146.67 663.76,146.61 663.77,146.57 663.78,146.37 663.78,146.6 663.79,146.45 663.8,146.67 663.81,146.69 663.82,146.39 663.83,146.8 663.84,146.79 663.85,146.63 663.86,146.91 663.87,146.88 663.88,146.65 663.88,146.57 663.89,146.22 663.9,146.91 663.91,146.96 663.92,146.55 663.93,146.42 663.94,146.93 663.95,146.8 663.96,146.56 663.97,146.58 663.98,146.44 663.98,146.57 663.99,146.39 664,146.81 664.01,146.52 664.02,146.62 664.03,146.58 664.04,146.54 664.05,146.47 664.06,146.63 664.07,146.55 664.08,146.74 664.08,146.46 664.09,146.76 664.1,146.61 664.11,146.63 664.12,146.68 664.13,146.44 664.14,146.57 664.15,146.64 664.16,146.57 664.17,146.4 664.18,146.8 664.18,146.81 664.19,146.64 664.2,146.92 664.21,146.52 664.22,146.54 664.23,146.62 664.24,146.81 664.25,146.43 664.26,146.57 664.27,146.5 664.27,146.58 664.28,146.68 664.29,146.84 664.3,146.9 664.31,146.54 664.32,146.65 664.33,146.87 664.34,146.89 664.35,146.47 664.36,146.65 664.36,146.58 664.37,146.74 664.38,146.87 664.39,146.63 664.4,146.94 664.41,146.92 664.42,146.81 664.43,146.7 664.44,146.99 664.44,146.94 664.45,146.63 664.46,146.79 664.47,146.78 664.48,146.6 664.49,146.93 664.5,146.5 664.51,146.52 664.52,146.68 664.53,146.48 664.53,146.66 664.54,146.59 664.55,146.85 664.56,146.95 664.57,146.64 664.58,146.69 664.59,146.82 664.6,146.88 664.61,146.54 664.61,146.33 664.62,146.87 664.63,146.78 664.64,146.73 664.65,146.9 664.66,146.73 664.67,146.98 664.68,146.76 664.69,146.99 664.69,146.84 664.7,146.67 664.71,146.94 664.72,146.96 664.73,146.55 664.74,146.82 664.75,146.97 664.76,146.83 664.77,146.91 664.77,146.63 664.78,146.6 664.79,146.25 664.8,146.71 664.81,146.76 664.82,147.02 664.83,146.72 664.84,146.55 664.85,146.91 664.85,146.77 664.86,146.93 664.87,146.57 664.88,146.76 664.89,146.68 664.9,147 664.91,147.03 664.92,146.97 664.93,146.56 664.93,146.79 664.94,146.74 664.95,146.62 664.96,147.01 664.97,146.81 664.98,146.74 664.99,146.86 665,147.02 665,147.01 665.01,147.05 665.02,146.9 665.03,146.98 665.04,146.61 665.05,146.76 665.06,146.92 665.07,146.74 665.07,146.82 665.08,146.67 665.09,146.97 665.1,146.71 665.11,146.83 665.12,146.82 665.13,146.99 665.14,146.67 665.15,146.76 665.15,146.84 665.16,146.79 665.17,146.85 665.18,146.9 665.19,146.72 665.2,146.82 665.21,146.74 665.22,146.71 665.22,146.63 665.23,146.35 665.24,146.87 665.25,146.63 665.26,146.61 665.27,146.66 665.28,146.78 665.29,146.64 665.29,146.76 665.3,146.82 665.31,147 665.32,146.61 665.33,146.66 665.34,146.93 665.35,146.84 665.35,146.86 665.36,146.88 665.37,146.86 665.38,146.93 665.39,146.64 665.4,146.82 665.41,146.92 665.42,146.96 665.42,146.69 665.43,146.69 665.44,146.68 665.45,146.78 665.46,146.9 665.47,146.96 665.48,146.88 665.49,147.02 665.49,146.3 665.5,146.9 665.51,147 665.52,146.99 665.53,147 665.54,146.46 665.55,146.62 665.55,146.61 665.56,147.01 665.57,146.78 665.58,146.7 665.59,146.74 665.6,146.76 665.61,146.81 665.61,146.92 665.62,146.83 665.63,147.04 665.64,146.74 665.65,146.68 665.66,147.01 665.67,146.58 665.68,146.97 665.68,146.62 665.69,146.58 665.7,146.85 665.71,146.65 665.72,146.78 665.73,146.92 665.74,146.72 665.74,146.88 665.75,146.78 665.76,146.68 665.77,146.96 665.78,146.6 665.79,146.95 665.8,146.89 665.8,146.66 665.81,146.64 665.82,146.85 665.83,146.75 665.84,146.59 665.85,146.91 665.86,146.92 665.86,147 665.87,146.71 665.88,146.71 665.89,146.99 665.9,146.69 665.91,146.9 665.92,146.79 665.92,146.77 665.93,146.76 665.94,146.77 665.95,146.85 665.96,146.7 665.97,146.55 665.98,146.61 665.98,146.85 665.99,146.66 666,146.74 666.01,146.82 666.02,146.8 666.03,146.78 666.04,146.83 666.04,146.76 666.05,146.8 666.06,146.62 666.07,146.91 666.08,146.66 666.09,146.83 666.1,146.61 666.1,146.62 666.11,147 666.12,146.57 666.13,146.63 666.14,146.71 666.15,146.94 666.15,146.61 666.16,146.74 666.17,146.92 666.18,146.32 666.19,146.98 666.2,146.68 666.21,146.94 666.21,146.88 666.22,147.03 666.23,146.85 666.24,146.72 666.25,146.7 666.26,146.82 666.26,146.89 666.27,146.99 666.28,146.85 666.29,146.63 666.3,146.55 666.31,146.56 666.32,146.99 666.32,146.97 666.33,146.84 666.34,146.74 666.35,147.01 666.36,146.99 666.37,146.6 666.37,146.51 666.38,146.81 666.39,146.62 666.4,146.67 666.41,146.63 666.42,146.81 666.43,146.55 666.43,146.97 666.44,146.89 666.45,146.7 666.46,146.9 666.47,146.59 666.48,146.6 666.48,146.62 666.49,146.57 666.5,146.7 666.51,146.94 666.52,146.78 666.53,147.03 666.53,146.82 666.54,146.69 666.55,146.66 666.56,146.36 666.57,146.89 666.58,146.54 666.58,146.74 666.59,146.92 666.6,146.53 666.61,146.67 666.62,146.66 666.63,146.7 666.64,147.03 666.64,146.73 666.65,146.64 666.66,146.67 666.67,146.91 666.68,146.77 666.69,146.51 666.69,146.54 666.7,146.9 666.71,146.71 666.72,146.99 666.73,146.93 666.74,146.82 666.74,147.01 666.75,146.83 666.76,146.54 666.77,146.4 666.78,146.94 666.79,146.96 666.79,146.72 666.8,146.8 666.81,146.67 666.82,146.8 666.83,146.73 666.84,146.79 666.84,146.86 666.85,146.41 666.86,146.86 666.87,146.6 666.88,146.82 666.89,146.58 666.89,146.78 666.9,146.61 666.91,146.54 666.92,146.87 666.93,146.8 666.94,146.77 666.94,146.76 666.95,146.48 666.96,146.61 666.97,146.95 666.98,146.43 666.98,146.61 666.99,146.53 667,146.51 667.01,146.46 667.02,146.55 667.03,146.84 667.03,146.56 667.04,146.6 667.05,146.75 667.06,146.48 667.07,146.99 667.08,146.69 667.08,146.46 667.09,146.67 667.1,146.76 667.11,146.93 667.12,146.88 667.13,146.83 667.13,146.37 667.14,146.65 667.15,146.8 667.16,146.43 667.17,146.6 667.17,146.8 667.18,146.57 667.19,146.97 667.2,146.65 667.21,146.64 667.22,146.94 667.22,146.55 667.23,146.96 667.24,146.85 667.25,146.49 667.26,146.71 667.26,146.49 667.27,146.61 667.28,146.66 667.29,146.57 667.3,146.96 667.31,146.95 667.31,146.32 667.32,146.49 667.33,146.84 667.34,146.48 667.35,146.31 667.36,146.37 667.36,146.51 667.37,146.59 667.38,146.51 667.39,146.66 667.4,146.63 667.4,146.32 667.41,146.69 667.42,146.75 667.43,146.57 667.44,146.35 667.44,146.29 667.45,146.2 667.46,146.22 667.47,146.86 667.48,146.59 667.49,146.52 667.49,146.42 667.5,146.85 667.51,146.61 667.52,146.64 667.53,146.46 667.53,146.64 667.54,146.68 667.55,146.37 667.56,146.4 667.57,146.67 667.58,146.76 667.58,146.18 667.59,146.6 667.6,146.68 667.61,146.84 667.62,146.48 667.62,146.63 667.63,146.42 667.64,146.65 667.65,146.51 667.66,146.8 667.66,146.85 667.67,146.11 667.68,146.27 667.69,146.54 667.7,146.72 667.71,146.32 667.71,146.37 667.72,146.35 667.73,146.03 667.74,146.58 667.75,146.06 667.75,146.5 667.76,146.01 667.77,146.01 667.78,146.51 667.79,146.43 667.79,146.06 667.8,146.06 667.81,146.79 667.82,146.41 667.83,146.78 667.83,146.09 667.84,146.62 667.85,146.56 667.86,146.57 667.87,146.19 667.87,146.56 667.88,146.44 667.89,146.03 667.9,146.44 667.91,145.98 667.91,145.98 667.92,146.42 667.93,146.64 667.94,145.96 667.95,146.33 667.95,146.52 667.96,146.8 667.97,146.42 667.98,146.83 667.99,146.26 668,146.48 668,146.58 668.01,146.65 668.02,146.14 668.03,146 668.04,146.63 668.04,146.36 668.05,146.78 668.06,146.83 668.07,145.93 668.08,146.56 668.08,146.35 668.09,146 668.1,146.25 668.11,146.53 668.12,146.19 668.12,146.12 668.13,146.25 668.14,146.49 668.15,146.14 668.16,146.51 668.16,146.52 668.17,146.59 668.18,145.94 668.19,146.75 668.2,146.77 668.2,146.58 668.21,146.74 668.22,146.51 668.23,145.97 668.23,145.97 668.24,146.65 668.25,146.58 668.26,146.48 668.27,145.96 668.27,146.61 668.28,146.14 668.29,146.26 668.3,146.03 668.31,146.6 668.31,145.99 668.32,145.92 668.33,146.49 668.34,145.98 668.35,146.17 668.35,146.65 668.36,146.45 668.37,146.63 668.38,146.01 668.39,146.65 668.39,146.04 668.4,146.6 668.41,146.02 668.42,146.12 668.43,146.17 668.43,146.61 668.44,146.19 668.45,146.27 668.46,146.54 668.46,145.94 668.47,145.97 668.48,146.25 668.49,146.01 668.5,146.55 668.5,146.7 668.51,146.55 668.52,146.33 668.53,146.02 668.54,146.08 668.54,146.64 668.55,146.1 668.56,146.04 668.57,146.32 668.58,146.4 668.58,146.43 668.59,146.68 668.6,146.62 668.61,146.39 668.61,146.39 668.62,146.37 668.63,146.45 668.64,146.07 668.65,146.71 668.65,146.7 668.66,146 668.67,146.32 668.68,146.29 668.69,146.43 668.69,146.47 668.7,146.54 668.71,146.37 668.72,146.1 668.72,146.83 668.73,145.99 668.74,146.69 668.75,146.41 668.76,146.1 668.76,146.74 668.77,146.26 668.78,146.3 668.79,146.35 668.8,146.1 668.8,146.75 668.81,146.66 668.82,146.02 668.83,145.99 668.83,146.76 668.84,146.26 668.85,146.78 668.86,146.02 668.87,146.02 668.87,146.25 668.88,146.45 668.89,146.3 668.9,146.38 668.9,146.15 668.91,146.15 668.92,146.13 668.93,146.15 668.94,146.7 668.94,146.71 668.95,146.29 668.96,146.42 668.97,146.06 668.97,146.85 668.98,146.55 668.99,146.16 669,146.52 669.01,146.79 669.01,146.63 669.02,146.1 669.03,146.26 669.04,146.21 669.04,146.69 669.05,146.25 669.06,146.91 669.07,146.73 669.08,146.41 669.08,146.38 669.09,146.55 669.1,146.15 669.11,146.63 669.11,146.71 669.12,146.76 669.13,146.34 669.14,146.29 669.15,146.28 669.15,146.45 669.16,146.9 669.17,146.61 669.18,146.81 669.18,146.72 669.19,146.92 669.2,146.41 669.21,146.75 669.21,146.52 669.22,146.22 669.23,146.77 669.24,146.73 669.25,146.76 669.25,146.81 669.26,146.53 669.27,146.55 669.28,146.52 669.28,146.26 669.29,146.54 669.3,146.52 669.31,146.32 669.32,146.34 669.32,146.59 669.33,146.53 669.34,146.71 669.35,146.62 669.35,146.63 669.36,146.6 669.37,146.78 669.38,146.56 669.38,146.78 669.39,146.76 669.4,146.76 669.41,146.45 669.41,146.93 669.42,146.31 669.43,146.87 669.44,146.57 669.45,146.83 669.45,146.53 669.46,146.42 669.47,146.7 669.48,146.68 669.48,146.35 669.49,146.61 669.5,146.75 669.51,146.84 669.51,146.45 669.52,146.55 669.53,146.8 669.54,146.68 669.55,146.91 669.55,146.51 669.56,146.44 669.57,146.55 669.58,146.56 669.58,146.92 669.59,146.45 669.6,146.45 669.61,146.46 669.61,146.56 669.62,146.48 669.63,146.53 669.64,146.57 669.64,146.66 669.65,146.85 669.66,146.86 669.67,146.48 669.67,146.55 669.68,146.87 669.69,146.95 669.7,146.52 669.71,147.01 669.71,146.66 669.72,146.62 669.73,146.78 669.74,146.51 669.74,146.66 669.75,146.47 669.76,146.64 669.77,146.72 669.77,146.98 669.78,146.55 669.79,146.96 669.8,146.88 669.8,146.68 669.81,146.67 669.82,146.54 669.83,146.53 669.83,146.55 669.84,146.62 669.85,146.84 669.86,146.66 669.86,146.96 669.87,146.87 669.88,146.53 669.89,146.72 669.89,146.57 669.9,146.96 669.91,146.74 669.92,146.95 669.93,146.7 669.93,146.59 669.94,146.83 669.95,147.04 669.96,146.89 669.96,147.01 669.97,146.83 669.98,146.67 669.99,146.59 669.99,146.92 670,146.99 670.01,147.04 670.02,146.92 670.02,146.94 670.03,146.97 670.04,146.66 670.05,146.93 670.05,146.91 670.06,147 670.07,146.74 670.08,146.88 670.08,146.9 670.09,146.76 670.1,146.79 670.11,146.87 670.11,146.8 670.12,146.94 670.13,146.57 670.14,146.79 670.14,147.07 670.15,146.91 670.16,146.92 670.17,146.95 670.17,146.87 670.18,146.8 670.19,146.78 670.2,146.77 670.2,146.46 670.21,147.08 670.22,146.99 670.23,146.83 670.23,147.04 670.24,146.87 670.25,147.09 670.26,146.77 670.26,147.03 670.27,146.93 670.28,147.05 670.29,147.03 670.29,146.92 670.3,146.91 670.31,146.79 670.32,147.03 670.32,146.78 670.33,147.02 670.34,146.96 670.35,146.77 670.35,146.93 670.36,147.02 670.37,146.95 670.38,146.83 670.38,146.82 670.39,146.98 670.4,146.94 670.4,146.99 670.41,147.09 670.42,146.97 670.43,146.45 670.43,146.88 670.44,147.11 670.45,146.98 670.46,147.01 670.46,146.99 670.47,146.99 670.48,146.82 670.49,146.92 670.49,147.01 670.5,147.03 670.51,147 670.52,146.85 670.52,146.95 670.53,146.85 670.54,146.71 670.55,146.98 670.55,146.93 670.56,146.9 670.57,147.11 670.58,146.49 670.58,146.9 670.59,146.97 670.6,147.1 670.61,147.03 670.61,146.96 670.62,147.14 670.63,147.03 670.63,147.02 670.64,146.9 670.65,146.59 670.66,147.01 670.66,147.13 670.67,147.14 670.68,147.03 670.69,146.99 670.69,147.1 670.7,147.01 670.71,147.13 670.72,147.09 670.72,147.01 670.73,147.08 670.74,147.05 670.75,146.99 670.75,147.11 670.76,146.95 670.77,146.94 670.77,146.97 670.78,147.08 670.79,147.02 670.8,147 670.8,147 670.81,147 670.82,147.11 670.83,147.08 670.83,147.04 670.84,147.03 670.85,147.04 670.86,147.01 670.86,146.99 670.87,146.52 670.88,147.16 670.88,147.01 670.89,147.15 670.9,147.06 670.91,146.68 670.91,147.01 670.92,147.07 670.93,147.05 670.94,146.99 670.94,146.64 670.95,147.12 670.96,147 670.97,147.05 670.97,147.12 670.98,146.86 670.99,147.09 670.99,147.08 671,147.02 671.01,147.1 671.02,147.05 671.02,147.12 671.03,147.1 671.04,147.12 671.05,147.11 671.05,146.72 671.06,147.14 671.07,147.1 671.07,147.06 671.08,147.18 671.09,147.06 671.1,147.05 671.1,147.07 671.11,147.05 671.12,147.14 671.13,147.08 671.13,147.13 671.14,147.17 671.15,147.06 671.15,147.14 671.16,147.05 671.17,147.07 671.18,147.06 671.18,147.14 671.19,147.06 671.2,147.15 671.21,147.09 671.21,147.19 671.22,147.07 671.23,147.18 671.23,147.05 671.24,147.1 671.25,147.18 671.26,147.11 671.26,147.09 671.27,146.99 671.28,147.05 671.29,147.16 671.29,147.13 671.3,147.14 671.31,146.77 671.31,147.17 671.32,147.12 671.33,147.16 671.34,147.17 671.34,147.09 671.35,147.12 671.36,147.09 671.37,147.11 671.37,147.08 671.38,146.87 671.39,147.19 671.39,147.07 671.4,147.17 671.41,147.09 671.42,147.17 671.42,147.13 671.43,147.16 671.44,147.12 671.44,147.19 671.45,146.88 671.46,147.14 671.47,147.1 671.47,147.15 671.48,147.19 671.49,146.82 671.49,147.19 671.5,147.17 671.51,147.14 671.52,147.17 671.52,147.13 671.53,147.16 671.54,147.12 671.55,147.2 671.55,147.12 671.56,147.11 671.57,147.18 671.57,147.18 671.58,147.12 671.59,147.17 671.6,146.49 671.6,147.15 671.61,147.16 671.62,147.13 671.62,147.15 671.63,146.74 671.64,147.17 671.65,147.16 671.65,147.13 671.66,147.14 671.67,147.07 671.67,147.16 671.68,147.19 671.69,147.17 671.7,147.2 671.7,147.18 671.71,147.21 671.72,147.2 671.72,147.2 671.73,147.18 671.74,146.73 671.75,147.21 671.75,147.17 671.76,147.17 671.77,147.21 671.77,147.21 671.78,147.22 671.79,147.18 671.8,147.2 671.8,147.22 671.81,146.55 671.82,147.2 671.82,147.22 671.83,147.18 671.84,147.22 671.85,146.57 671.85,147.23 671.86,147.21 671.87,147.18 671.87,147.22 671.88,146.55 671.89,147.19 671.89,147.2 671.9,147.21 671.91,147.23 671.92,147.01 671.92,147.21 671.93,147.19 671.94,147.22 671.94,147.2 671.95,147.09 671.96,147.2 671.97,147.2 671.97,147.22 671.98,147.21 671.99,146.63 671.99,147.21 672,147.21 672.01,147.23 672.02,147.2 672.02,147.04 672.03,147.21 672.04,147.22 672.04,147.21 672.05,147.19 672.06,146.53 672.06,147.21 672.07,147.22 672.08,147.19 672.09,147.2 672.09,147.01 672.1,147.2 672.11,147.22 672.11,147.21 672.12,147.19 672.13,147.06 672.14,147.19 672.14,147.2 672.15,147.21 672.16,147.21 672.16,146.98 672.17,147.22 672.18,147.22 672.18,147.21 672.19,147.21 672.2,147.08 672.21,147.21 672.21,147.21 672.22,147.2 672.23,147.2 672.23,146.73 672.24,147.2 672.25,147.21 672.26,147.2 672.26,147.23 672.27,147.07 672.28,147.22 672.28,147.2 672.29,147.2 672.3,147.21 672.3,146.63 672.31,147.23 672.32,147.23 672.33,147.21 672.33,147.22 672.34,146.84 672.35,147.19 672.35,147.22 672.36,147.2 672.37,147.22 672.37,146.85 672.38,147.23 672.39,147.21 672.4,147.2 672.4,147.21 672.41,147.21 672.42,147.2 672.42,147.22 672.43,147.2 672.44,147.22 672.44,146.6 672.45,147.22 672.46,147.2 672.47,147.23 672.47,147.2 672.48,147.22 672.49,147.21 672.49,147.23 672.5,147.23 672.51,147.21 672.51,147 672.52,147.22 672.53,147.2 672.53,147.2 672.54,147.2 672.55,146.69 672.56,147.23 672.56,147.21 672.57,147.22 672.58,147.23 672.58,146.73 672.59,147.19 672.6,147.22 672.6,147.22 672.61,147.19 672.62,147.21 672.63,147.23 672.63,147.23 672.64,147.23 672.65,147.23 672.65,146.62 672.66,147.2 672.67,147.23 672.67,147.22 672.68,147.21 672.69,146.79 672.69,147.19 672.7,147.23 672.71,147.23 672.72,147.21 672.72,146.72 672.73,147.22 672.74,147.21 672.74,147.21 672.75,147.23 672.76,146.54 672.76,147.21 672.77,147.23 672.78,147.19 672.78,147.22 672.79,147.05 672.8,147.23 672.81,147.21 672.81,147.2 672.82,147.21 672.83,146.66 672.83,147.22 672.84,147.22 672.85,147.21 672.85,147.19 672.86,147.02 672.87,147.22 672.87,147.21 672.88,147.22 672.89,147.2 672.89,146.79 672.9,147.2 672.91,147.2 672.92,147.22 672.92,147.2 672.93,146.61 672.94,147.2 672.94,147.21 672.95,147.21 672.96,147.22 672.96,146.89 672.97,147.23 672.98,147.21 672.98,147.21 672.99,147.23 673,147.03 673,147.22 673.01,147.23 673.02,147.23 673.03,147.2 673.03,146.55 673.04,147.23 673.05,147.2 673.05,147.19 673.06,147.2 673.07,146.76 673.07,147.19 673.08,147.2 673.09,147.21 673.09,147.2 673.1,146.63 673.11,147.21 673.11,147.2 673.12,147.2 673.13,147.2 673.14,146.85 673.14,147.21 673.15,147.22 673.16,147.19 673.16,147.21 673.17,147.06 673.18,147.22 673.18,147.22 673.19,147.19 673.2,147.19 673.2,146.72 673.21,147.2 673.22,147.17 673.22,147.18 673.23,147.19 673.24,146.72 673.24,147.21 673.25,147.2 673.26,147.2 673.26,147.17 673.27,146.78 673.28,147.15 673.28,147.2 673.29,147.19 673.3,147.17 673.31,146.58 673.31,147.19 673.32,147.19 673.33,147.17 673.33,147.14 673.34,146.64 673.35,147.21 673.35,147.14 673.36,147.12 673.37,147.14 673.37,146.73 673.38,147.18 673.39,147.15 673.39,147.15 673.4,147.2 673.41,147.06 673.41,147.16 673.42,147.15 673.43,147.09 673.43,147.12 673.44,147.14 673.45,147.2 673.45,147.2 673.46,147.1 673.47,147.13 673.47,147.11 673.48,147.18 673.49,147.07 673.5,147.13 673.5,147.12 673.51,147.06 673.52,147.11 673.52,147.08 673.53,147.16 673.54,147.18 673.54,146.78 673.55,147.07 673.56,147.08 673.56,147.13 673.57,147.07 673.58,147.07 673.58,147.06 673.59,147.03 673.6,147.11 673.6,147.07 673.61,147.03 673.62,147.13 673.62,147.02 673.63,147.12 673.64,147.07 673.64,147.08 673.65,147.15 673.66,147.16 673.66,147.06 673.67,147.17 673.68,147.05 673.68,147.04 673.69,147.12 673.7,147.14 673.7,146.99 673.71,147.09 673.72,147.06 673.72,147.08 673.73,146.99 673.74,147.05 673.74,146.8 673.75,147.12 673.76,147 673.76,147.1 673.77,147 673.78,147.02 673.78,147.05 673.79,146.95 673.8,147.03 673.8,147.03 673.81,146.82 673.82,147.12 673.82,147.06 673.83,147.16 673.84,147.13 673.84,147.07 673.85,147.03 673.86,147.08 673.86,147.12 673.87,147.06 673.88,146.85 673.88,147.14 673.89,147.13 673.9,146.94 673.9,147.1 673.91,146.99 673.92,147.13 673.92,147.14 673.93,147 673.94,146.96 673.94,146.72 673.95,147.03 673.96,147.11 673.96,146.93 673.97,147.11 673.98,147 673.98,146.9 673.99,147.09 674,146.95 674,147.01 674.01,146.91 674.02,146.91 674.02,147 674.03,147.01 674.04,146.93 674.04,146.94 674.05,147.04 674.06,146.87 674.06,146.99 674.07,147.06 674.08,147.02 674.08,147.02 674.09,146.99 674.1,147.03 674.1,147 674.11,146.73 674.12,146.84 674.12,147.05 674.13,147.04 674.14,147.01 674.14,147.06 674.15,147.06 674.16,146.98 674.16,147 674.17,147.1 674.18,146.7 674.18,146.97 674.19,146.82 674.2,146.85 674.2,146.92 674.21,146.95 674.22,147.08 674.22,146.91 674.23,146.82 674.24,146.8 674.24,146.81 674.25,146.87 674.26,147 674.26,147.05 674.27,147.04 674.28,146.73 674.28,147.07 674.29,147.01 674.3,146.78 674.3,146.86 674.31,146.87 674.32,147.05 674.32,146.93 674.33,146.94 674.34,146.78 674.34,146.87 674.35,147 674.36,147.01 674.36,147.07 674.37,146.93 674.37,146.65 674.38,146.96 674.39,146.76 674.39,146.83 674.4,146.9 674.41,146.62 674.41,146.86 674.42,146.84 674.43,146.83 674.43,146.98 674.44,146.78 674.45,147.01 674.45,147.04 674.46,146.98 674.47,147 674.47,146.99 674.48,146.91 674.49,146.95 674.49,146.81 674.5,146.99 674.51,146.81 674.51,146.75 674.52,146.9 674.53,146.78 674.53,147.06 674.54,146.99 674.55,147.05 674.55,146.89 674.56,146.94 674.57,146.9 674.57,147 674.58,147.07 674.58,146.78 674.59,146.71 674.6,147.01 674.6,146.76 674.61,146.94 674.62,146.78 674.62,146.84 674.63,146.78 674.64,146.68 674.64,146.97 674.65,146.72 674.66,147 674.66,146.76 674.67,146.7 674.68,147 674.68,146.9 674.69,146.99 674.7,146.74 674.7,146.66 674.71,146.93 674.72,146.84 674.72,146.74 674.73,146.67 674.73,146.85 674.74,147 674.75,146.98 674.75,146.82 674.76,147.01 674.77,146.72 674.77,146.72 674.78,146.77 674.79,146.67 674.79,146.89 674.8,146.67 674.81,146.99 674.81,146.97 674.82,146.85 674.83,146.7 674.83,147.07 674.84,146.71 674.84,146.92 674.85,146.71 674.86,146.71 674.86,146.7 674.87,146.83 674.88,147.02 674.88,146.94 674.89,146.92 674.9,146.8 674.9,146.93 674.91,146.86 674.92,146.92 674.92,146.81 674.93,146.74 674.94,146.91 674.94,146.7 674.95,146.95 674.95,146.87 674.96,146.74 674.97,146.78 674.97,146.87 674.98,147.04 674.99,146.7 674.99,146.68 675,146.74 675.01,146.75 675.01,146.7 675.02,146.7 675.03,146.87 675.03,146.91 675.04,146.88 675.05,147.02 675.05,146.99 675.06,146.78 675.06,146.76 675.07,146.78 675.08,146.83 675.08,147.01 675.09,146.92 675.1,146.67 675.1,146.67 675.11,146.95 675.12,146.92 675.12,146.89 675.13,146.93 675.14,146.89 675.14,146.96 675.15,146.7 675.15,146.66 675.16,146.89 675.17,147.05 675.17,146.93 675.18,146.76 675.19,146.78 675.19,146.84 675.2,146.84 675.21,146.84 675.21,146.87 675.22,146.82 675.22,146.97 675.23,146.97 675.24,146.76 675.24,147.01 675.25,146.74 675.26,146.71 675.26,146.85 675.27,146.97 675.28,146.9 675.28,146.68 675.29,146.8 675.3,146.7 675.3,146.91 675.31,147 675.31,146.96 675.32,146.7 675.33,147 675.33,146.98 675.34,147.07 675.35,146.84 675.35,146.9 675.36,146.76 675.37,146.83 675.37,146.83 675.38,146.82 675.38,146.91 675.39,146.97 675.4,147.08 675.4,146.93 675.41,147.02 675.42,147.01 675.42,146.94 675.43,146.89 675.44,146.94 675.44,147.01 675.45,146.8 675.45,146.97 675.46,146.95 675.47,147.01 675.47,147.06 675.48,146.8 675.49,146.92 675.49,146.88 675.5,146.76 675.51,146.76 675.51,146.87 675.52,146.74 675.52,146.89 675.53,146.76 675.54,146.78 675.54,147 675.55,146.91 675.56,147.04 675.56,146.95 675.57,146.65 675.58,146.93 675.58,147.06 675.59,146.94 675.59,146.89 675.6,146.73 675.61,146.73 675.61,146.86 675.62,146.93 675.63,146.82 675.63,146.65 675.64,146.85 675.64,147.03 675.65,146.88 675.66,146.92 675.66,146.77 675.67,146.86 675.68,146.75 675.68,147.08 675.69,146.85 675.7,146.83 675.7,146.93 675.71,146.8 675.71,146.75 675.72,147.02 675.73,146.8 675.73,147.06 675.74,146.99 675.75,147.03 675.75,146.76 675.76,147.07 675.76,146.82 675.77,146.92 675.78,146.85 675.78,147.07 675.79,146.94 675.8,146.91 675.8,147 675.81,146.88 675.81,147.08 675.82,147.08 675.83,146.88 675.83,147.01 675.84,146.81 675.85,146.91 675.85,146.8 675.86,146.81 675.87,146.86 675.87,146.76 675.88,147.02 675.88,146.91 675.89,147.06 675.9,146.86 675.9,146.82 675.91,146.8 675.92,146.92 675.92,146.79 675.93,146.98 675.93,146.98 675.94,146.85 675.95,146.79 675.95,147.08 675.96,146.93 675.97,146.95 675.97,147.1 675.98,147.03 675.98,146.82 675.99,146.78 676,146.91 676,147.03 676.01,146.77 676.02,146.96 676.02,147.06 676.03,146.84 676.03,146.87 676.04,146.74 676.05,146.98 676.05,147.01 676.06,147.03 676.07,146.9 676.07,146.93 676.08,146.86 676.08,146.79 676.09,146.81 676.1,147.1 676.1,146.88 676.11,147.09 676.12,147 676.12,147 676.13,146.91 676.13,147.09 676.14,147.03 676.15,146.78 676.15,147.1 676.16,146.99 676.16,146.69 676.17,147.07 676.18,147 676.18,146.89 676.19,146.99 676.2,146.74 676.2,146.78 676.21,147.07 676.21,146.87 676.22,147.1 676.23,146.97 676.23,146.85 676.24,146.77 676.25,146.94 676.25,146.88 676.26,146.93 676.26,147.06 676.27,147.07 676.28,146.91 676.28,146.79 676.29,147.01 676.3,146.84 676.3,146.88 676.31,146.98 676.31,146.87 676.32,146.99 676.33,147.01 676.33,146.96 676.34,146.87 676.34,147.09 676.35,147.09 676.36,146.76 676.36,146.91 676.37,146.77 676.38,146.74 676.38,147.01 676.39,146.96 676.39,146.74 676.4,147.1 676.41,146.74 676.41,146.73 676.42,146.82 676.43,146.95 676.43,146.85 676.44,147.09 676.44,146.74 676.45,147.08 676.46,146.94 676.46,146.84 676.47,147.09 676.47,146.76 676.48,147.06 676.49,147.01 676.49,146.95 676.5,147.05 676.51,146.81 676.51,146.84 676.52,146.87 676.52,146.93 676.53,146.86 676.54,146.72 676.54,146.84 676.55,146.75 676.55,146.79 676.56,146.95 676.57,146.75 676.57,146.97 676.58,146.82 676.58,146.8 676.59,146.93 676.6,146.75 676.6,146.7 676.61,147.04 676.62,147.07 676.62,146.97 676.63,147.02 676.63,146.69 676.64,146.98 676.65,147.02 676.65,146.85 676.66,146.7 676.66,146.73 676.67,146.73 676.68,147 676.68,146.97 676.69,147.05 676.7,146.8 676.7,146.94 676.71,146.81 676.71,147.07 676.72,146.77 676.73,147.03 676.73,146.67 676.74,146.97 676.74,146.87 676.75,146.73 676.76,146.81 676.76,147.04 676.77,146.69 676.77,146.77 676.78,146.76 676.79,146.86 676.79,147.01 676.8,146.8"/>
<line x1="381.3" y1="147.25" x2="381.3" y2="144.25" stroke="#262626" stroke-width="0.7"/>
<line x1="381.3" y1="6.05" x2="381.3" y2="9.05" stroke="#262626" stroke-width="0.7"/>
<line x1="403.54" y1="147.25" x2="403.54" y2="145.65" stroke="#262626" stroke-width="0.7"/>
<line x1="403.54" y1="6.05" x2="403.54" y2="7.65" stroke="#262626" stroke-width="0.7"/>
<line x1="416.55" y1="147.25" x2="416.55" y2="145.65" stroke="#262626" stroke-width="0.7"/>
<line x1="416.55" y1="6.05" x2="416.55" y2="7.65" stroke="#262626" stroke-width="0.7"/>
<line x1="425.78" y1="147.25" x2="425.78" y2="145.65" stroke="#262626" stroke-width="0.7"/>
<line x1="425.78" y1="6.05" x2="425.78" y2="7.65" stroke="#262626" stroke-width="0.7"/>
<line x1="432.94" y1="147.25" x2="432.94" y2="145.65" stroke="#262626" stroke-width="0.7"/>
<line x1="432.94" y1="6.05" x2="432.94" y2="7.65" stroke="#262626" stroke-width="0.7"/>
<line x1="438.79" y1="147.25" x2="438.79" y2="145.65" stroke="#262626" stroke-width="0.7"/>
<line x1="438.79" y1="6.05" x2="438.79" y2="7.65" stroke="#262626" stroke-width="0.7"/>
<line x1="443.73" y1="147.25" x2="443.73" y2="145.65" stroke="#262626" stroke-width="0.7"/>
<line x1="443.73" y1="6.05" x2="443.73" y2="7.65" stroke="#262626" stroke-width="0.7"/>
<line x1="448.02" y1="147.25" x2="448.02" y2="145.65" stroke="#262626" stroke-width="0.7"/>
<line x1="448.02" y1="6.05" x2="448.02" y2="7.65" stroke="#262626" stroke-width="0.7"/>
<line x1="451.79" y1="147.25" x2="451.79" y2="145.65" stroke="#262626" stroke-width="0.7"/>
<line x1="451.79" y1="6.05" x2="451.79" y2="7.65" stroke="#262626" stroke-width="0.7"/>
<line x1="455.18" y1="147.25" x2="455.18" y2="144.25" stroke="#262626" stroke-width="0.7"/>
<line x1="455.18" y1="6.05" x2="455.18" y2="9.05" stroke="#262626" stroke-width="0.7"/>
<line x1="477.41" y1="147.25" x2="477.41" y2="145.65" stroke="#262626" stroke-width="0.7"/>
<line x1="477.41" y1="6.05" x2="477.41" y2="7.65" stroke="#262626" stroke-width="0.7"/>
<line x1="490.42" y1="147.25" x2="490.42" y2="145.65" stroke="#262626" stroke-width="0.7"/>
<line x1="490.42" y1="6.05" x2="490.42" y2="7.65" stroke="#262626" stroke-width="0.7"/>
<line x1="499.65" y1="147.25" x2="499.65" y2="145.65" stroke="#262626" stroke-width="0.7"/>
<line x1="499.65" y1="6.05" x2="499.65" y2="7.65" stroke="#262626" stroke-width="0.7"/>
<line x1="506.81" y1="147.25" x2="506.81" y2="145.65" stroke="#262626" stroke-width="0.7"/>
<line x1="506.81" y1="6.05" x2="506.81" y2="7.65" stroke="#262626" stroke-width="0.7"/>
<line x1="512.66" y1="147.25" x2="512.66" y2="145.65" stroke="#262626" stroke-width="0.7"/>
<line x1="512.66" y1="6.05" x2="512.66" y2="7.65" stroke="#262626" stroke-width="0.7"/>
<line x1="517.61" y1="147.25" x2="517.61" y2="145.65" stroke="#262626" stroke-width="0.7"/>
<line x1="517.61" y1="6.05" x2="517.61" y2="7.65" stroke="#262626" stroke-width="0.7"/>
<line x1="521.89" y1="147.25" x2="521.89" y2="145.65" stroke="#262626" stroke-width="0.7"/>
<line x1="521.89" y1="6.05" x2="521.89" y2="7.65" stroke="#262626" stroke-width="0.7"/>
<line x1="525.67" y1="147.25" x2="525.67" y2="145.65" stroke="#262626" stroke-width="0.7"/>
<line x1="525.67" y1="6.05" x2="525.67" y2="7.65" stroke="#262626" stroke-width="0.7"/>
<line x1="529.05" y1="147.25" x2="529.05" y2="144.25" stroke="#262626" stroke-width="0.7"/>
<line x1="529.05" y1="6.05" x2="529.05" y2="9.05" stroke="#262626" stroke-width="0.7"/>
<line x1="551.29" y1="147.25" x2="551.29" y2="145.65" stroke="#262626" stroke-width="0.7"/>
<line x1="551.29" y1="6.05" x2="551.29" y2="7.65" stroke="#262626" stroke-width="0.7"/>
<line x1="564.3" y1="147.25" x2="564.3" y2="145.65" stroke="#262626" stroke-width="0.7"/>
<line x1="564.3" y1="6.05" x2="564.3" y2="7.65" stroke="#262626" stroke-width="0.7"/>
<line x1="573.53" y1="147.25" x2="573.53" y2="145.65" stroke="#262626" stroke-width="0.7"/>
<line x1="573.53" y1="6.05" x2="573.53" y2="7.65" stroke="#262626" stroke-width="0.7"/>
<line x1="580.69" y1="147.25" x2="580.69" y2="145.65" stroke="#262626" stroke-width="0.7"/>
<line x1="580.69" y1="6.05" x2="580.69" y2="7.65" stroke="#262626" stroke-width="0.7"/>
<line x1="586.54" y1="147.25" x2="586.54" y2="145.65" stroke="#262626" stroke-width="0.7"/>
<line x1="586.54" y1="6.05" x2="586.54" y2="7.65" stroke="#262626" stroke-width="0.7"/>
<line x1="591.48" y1="147.25" x2="591.48" y2="145.65" stroke="#262626" stroke-width="0.7"/>
<line x1="591.48" y1="6.05" x2="591.48" y2="7.65" stroke="#262626" stroke-width="0.7"/>
<line x1="595.77" y1="147.25" x2="595.77" y2="145.65" stroke="#262626" stroke-width="0.7"/>
<line x1="595.77" y1="6.05" x2="595.77" y2="7.65" stroke="#262626" stroke-width="0.7"/>
<line x1="599.54" y1="147.25" x2="599.54" y2="145.65" stroke="#262626" stroke-width="0.7"/>
<line x1="599.54" y1="6.05" x2="599.54" y2="7.65" stroke="#262626" stroke-width="0.7"/>
<line x1="602.92" y1="147.25" x2="602.92" y2="144.25" stroke="#262626" stroke-width="0.7"/>
<line x1="602.92" y1="6.05" x2="602.92" y2="9.05" stroke="#262626" stroke-width="0.7"/>
<line x1="625.16" y1="147.25" x2="625.16" y2="145.65" stroke="#262626" stroke-width="0.7"/>
<line x1="625.16" y1="6.05" x2="625.16" y2="7.65" stroke="#262626" stroke-width="0.7"/>
<line x1="638.17" y1="147.25" x2="638.17" y2="145.65" stroke="#262626" stroke-width="0.7"/>
<line x1="638.17" y1="6.05" x2="638.17" y2="7.65" stroke="#262626" stroke-width="0.7"/>
<line x1="647.4" y1="147.25" x2="647.4" y2="145.65" stroke="#262626" stroke-width="0.7"/>
<line x1="647.4" y1="6.05" x2="647.4" y2="7.65" stroke="#262626" stroke-width="0.7"/>
<line x1="654.56" y1="147.25" x2="654.56" y2="145.65" stroke="#262626" stroke-width="0.7"/>
<line x1="654.56" y1="6.05" x2="654.56" y2="7.65" stroke="#262626" stroke-width="0.7"/>
<line x1="660.41" y1="147.25" x2="660.41" y2="145.65" stroke="#262626" stroke-width="0.7"/>
<line x1="660.41" y1="6.05" x2="660.41" y2="7.65" stroke="#262626" stroke-width="0.7"/>
<line x1="665.36" y1="147.25" x2="665.36" y2="145.65" stroke="#262626" stroke-width="0.7"/>
<line x1="665.36" y1="6.05" x2="665.36" y2="7.65" stroke="#262626" stroke-width="0.7"/>
<line x1="669.64" y1="147.25" x2="669.64" y2="145.65" stroke="#262626" stroke-width="0.7"/>
<line x1="669.64" y1="6.05" x2="669.64" y2="7.65" stroke="#262626" stroke-width="0.7"/>
<line x1="673.42" y1="147.25" x2="673.42" y2="145.65" stroke="#262626" stroke-width="0.7"/>
<line x1="673.42" y1="6.05" x2="673.42" y2="7.65" stroke="#262626" stroke-width="0.7"/>
<line x1="676.8" y1="147.25" x2="676.8" y2="144.25" stroke="#262626" stroke-width="0.7"/>
<line x1="676.8" y1="6.05" x2="676.8" y2="9.05" stroke="#262626" stroke-width="0.7"/>
<line x1="676.8" y1="147.25" x2="676.8" y2="144.25" stroke="#262626" stroke-width="0.7"/>
<line x1="381.3" y1="147.25" x2="384.3" y2="147.25" stroke="#262626" stroke-width="0.8"/>
<line x1="676.8" y1="147.25" x2="673.8" y2="147.25" stroke="#262626" stroke-width="0.8"/>
<line x1="381.3" y1="119.01" x2="384.3" y2="119.01" stroke="#262626" stroke-width="0.8"/>
<line x1="676.8" y1="119.01" x2="673.8" y2="119.01" stroke="#262626" stroke-width="0.8"/>
<line x1="381.3" y1="90.77" x2="384.3" y2="90.77" stroke="#262626" stroke-width="0.8"/>
<line x1="676.8" y1="90.77" x2="673.8" y2="90.77" stroke="#262626" stroke-width="0.8"/>
<line x1="381.3" y1="62.53" x2="384.3" y2="62.53" stroke="#262626" stroke-width="0.8"/>
<line x1="676.8" y1="62.53" x2="673.8" y2="62.53" stroke="#262626" stroke-width="0.8"/>
<line x1="381.3" y1="34.29" x2="384.3" y2="34.29" stroke="#262626" stroke-width="0.8"/>
<line x1="676.8" y1="34.29" x2="673.8" y2="34.29" stroke="#262626" stroke-width="0.8"/>
<line x1="381.3" y1="6.05" x2="384.3" y2="6.05" stroke="#262626" stroke-width="0.8"/>
<line x1="676.8" y1="6.05" x2="673.8" y2="6.05" stroke="#262626" stroke-width="0.8"/>
<rect x="381.3" y="6.05" width="295.5" height="141.2" fill="none" stroke="#262626" stroke-width="0.9"/>
<text x="378.2" y="150.15" text-anchor="end" font-size="9.3" fill="#262626">0</text>
<text x="378.2" y="121.91" text-anchor="end" font-size="9.3" fill="#262626">0.2</text>
<text x="378.2" y="93.67" text-anchor="end" font-size="9.3" fill="#262626">0.4</text>
<text x="378.2" y="65.43" text-anchor="end" font-size="9.3" fill="#262626">0.6</text>
<text x="378.2" y="37.19" text-anchor="end" font-size="9.3" fill="#262626">0.8</text>
<text x="378.2" y="8.95" text-anchor="end" font-size="9.3" fill="#262626">1</text>
<text x="455.38" y="159.05" text-anchor="middle" font-size="9.3" fill="#262626">10<tspan font-size="6.2" dy="-3.5">-4</tspan></text>
<text x="529.25" y="159.05" text-anchor="middle" font-size="9.3" fill="#262626">10<tspan font-size="6.2" dy="-3.5">-3</tspan></text>
<text x="603.12" y="159.05" text-anchor="middle" font-size="9.3" fill="#262626">10<tspan font-size="6.2" dy="-3.5">-2</tspan></text>
<text x="677" y="159.05" text-anchor="middle" font-size="9.3" fill="#262626">10<tspan font-size="6.2" dy="-3.5">-1</tspan></text>
<text x="529.05" y="171.85" text-anchor="middle" font-size="9.8" fill="#262626">Normalized frequency (a.u.)</text>
<text transform="translate(363.4,76.65) rotate(-90)" text-anchor="middle" font-size="9.8" fill="#262626">Normalized spectral intensity (a.u.)</text>
<text x="388.4" y="25" font-size="18.9" font-weight="bold" fill="#000" stroke="#000" stroke-width="0.45">b</text>
<line x1="403.54" y1="180.15" x2="403.54" y2="321.35" stroke="#e6e6e6" stroke-width="0.55"/>
<line x1="416.55" y1="180.15" x2="416.55" y2="321.35" stroke="#e6e6e6" stroke-width="0.55"/>
<line x1="425.78" y1="180.15" x2="425.78" y2="321.35" stroke="#e6e6e6" stroke-width="0.55"/>
<line x1="432.94" y1="180.15" x2="432.94" y2="321.35" stroke="#e6e6e6" stroke-width="0.55"/>
<line x1="438.79" y1="180.15" x2="438.79" y2="321.35" stroke="#e6e6e6" stroke-width="0.55"/>
<line x1="443.73" y1="180.15" x2="443.73" y2="321.35" stroke="#e6e6e6" stroke-width="0.55"/>
<line x1="448.02" y1="180.15" x2="448.02" y2="321.35" stroke="#e6e6e6" stroke-width="0.55"/>
<line x1="451.79" y1="180.15" x2="451.79" y2="321.35" stroke="#e6e6e6" stroke-width="0.55"/>
<line x1="455.18" y1="180.15" x2="455.18" y2="321.35" stroke="#e6e6e6" stroke-width="0.55"/>
<line x1="477.41" y1="180.15" x2="477.41" y2="321.35" stroke="#e6e6e6" stroke-width="0.55"/>
<line x1="490.42" y1="180.15" x2="490.42" y2="321.35" stroke="#e6e6e6" stroke-width="0.55"/>
<line x1="499.65" y1="180.15" x2="499.65" y2="321.35" stroke="#e6e6e6" stroke-width="0.55"/>
<line x1="506.81" y1="180.15" x2="506.81" y2="321.35" stroke="#e6e6e6" stroke-width="0.55"/>
<line x1="512.66" y1="180.15" x2="512.66" y2="321.35" stroke="#e6e6e6" stroke-width="0.55"/>
<line x1="517.61" y1="180.15" x2="517.61" y2="321.35" stroke="#e6e6e6" stroke-width="0.55"/>
<line x1="521.89" y1="180.15" x2="521.89" y2="321.35" stroke="#e6e6e6" stroke-width="0.55"/>
<line x1="525.67" y1="180.15" x2="525.67" y2="321.35" stroke="#e6e6e6" stroke-width="0.55"/>
<line x1="529.05" y1="180.15" x2="529.05" y2="321.35" stroke="#e6e6e6" stroke-width="0.55"/>
<line x1="551.29" y1="180.15" x2="551.29" y2="321.35" stroke="#e6e6e6" stroke-width="0.55"/>
<line x1="564.3" y1="180.15" x2="564.3" y2="321.35" stroke="#e6e6e6" stroke-width="0.55"/>
<line x1="573.53" y1="180.15" x2="573.53" y2="321.35" stroke="#e6e6e6" stroke-width="0.55"/>
<line x1="580.69" y1="180.15" x2="580.69" y2="321.35" stroke="#e6e6e6" stroke-width="0.55"/>
<line x1="586.54" y1="180.15" x2="586.54" y2="321.35" stroke="#e6e6e6" stroke-width="0.55"/>
<line x1="591.48" y1="180.15" x2="591.48" y2="321.35" stroke="#e6e6e6" stroke-width="0.55"/>
<line x1="595.77" y1="180.15" x2="595.77" y2="321.35" stroke="#e6e6e6" stroke-width="0.55"/>
<line x1="599.54" y1="180.15" x2="599.54" y2="321.35" stroke="#e6e6e6" stroke-width="0.55"/>
<line x1="602.92" y1="180.15" x2="602.92" y2="321.35" stroke="#e6e6e6" stroke-width="0.55"/>
<line x1="625.16" y1="180.15" x2="625.16" y2="321.35" stroke="#e6e6e6" stroke-width="0.55"/>
<line x1="638.17" y1="180.15" x2="638.17" y2="321.35" stroke="#e6e6e6" stroke-width="0.55"/>
<line x1="647.4" y1="180.15" x2="647.4" y2="321.35" stroke="#e6e6e6" stroke-width="0.55"/>
<line x1="654.56" y1="180.15" x2="654.56" y2="321.35" stroke="#e6e6e6" stroke-width="0.55"/>
<line x1="660.41" y1="180.15" x2="660.41" y2="321.35" stroke="#e6e6e6" stroke-width="0.55"/>
<line x1="665.36" y1="180.15" x2="665.36" y2="321.35" stroke="#e6e6e6" stroke-width="0.55"/>
<line x1="669.64" y1="180.15" x2="669.64" y2="321.35" stroke="#e6e6e6" stroke-width="0.55"/>
<line x1="673.42" y1="180.15" x2="673.42" y2="321.35" stroke="#e6e6e6" stroke-width="0.55"/>
<clipPath id="clipd"><rect x="381.3" y="179.15" width="295.5" height="142.2"/></clipPath>
<polyline clip-path="url(#clipd)" fill="none" stroke="#ff1f10" stroke-width="1.15" stroke-linejoin="round" points="401.89,301.44 424.13,306.67 437.14,309.72 446.37,311.89 453.53,313.57 459.38,314.95 464.32,316.11 468.61,317.11 472.39,315.98 475.77,308.64 478.83,294.52 481.62,312.88 484.19,316.79 486.56,317.32 488.78,317.68 490.85,315.7 492.79,317.41 494.63,317.4 496.36,316.3 498.01,316.98 499.57,308.22 501.06,317.96 502.49,317.67 503.86,317.97 505.17,318.08 506.42,316.38 507.63,317.15 508.8,317.89 509.93,316.95 511.02,316.1 512.07,317.95 513.09,303.98 514.07,317.3 515.03,317.17 515.96,318.54 516.86,317.52 517.74,315 518.6,316.95 519.43,316.74 520.25,317.55 521.04,316.88 521.81,313.58 522.57,317.4 523.3,316.79 524.02,315.1 524.73,318.95 525.42,317.76 526.09,314.91 526.76,318.14 527.4,315.14 528.04,319.82 528.66,315.74 529.27,316.66 529.87,312.52 530.46,305.82 531.04,318.9 531.61,319.85 532.17,319.44 532.71,315.85 533.25,315.37 533.78,314.73 534.31,316.2 534.82,319.38 535.32,321.19 535.82,321.22 536.31,310.05 536.79,317.15 537.27,317.57 537.74,314.24 538.2,317.86 538.65,317.55 539.1,317.68 539.55,319.29 539.98,316.25 540.41,314.84 540.84,312.67 541.26,291.7 541.67,317.38 542.08,319.98 542.48,321.29 542.88,321.22 543.28,321.2 543.66,321.25 544.05,321.23 544.43,320.63 544.8,315.99 545.17,317.01 545.54,273.34 545.9,318.57 546.26,315.39 546.62,314.71 546.97,313.8 547.31,314.13 547.66,317.43 548,314.04 548.33,319.33 548.67,319.58 548.99,321.27 549.32,304.41 549.64,321.28 549.96,321.13 550.28,320.05 550.59,320.15 550.9,317.83 551.21,318.11 551.51,315.98 551.81,315.14 552.11,318.3 552.41,313.59 552.7,236.63 552.99,316.55 553.28,318.8 553.56,318.99 553.85,317.34 554.13,315.67 554.4,309.37 554.68,308.27 554.95,311.7 555.22,310.99 555.49,307.24 555.76,218.27 556.02,311.78 556.28,305.46 556.54,310.81 556.8,307.24 557.06,304.01 557.31,307.4 557.56,304.75 557.81,306.36 558.06,317.3 558.31,318 558.55,182.97 558.79,318.44 559.03,318.39 559.27,318.75 559.51,316.59 559.74,311.45 559.98,306.34 560.21,312.23 560.44,312.17 560.67,313.02 560.89,314.01 561.12,245.1 561.34,320.79 561.56,321.04 561.78,320.88 562,321.04 562.22,320.82 562.44,321.09 562.65,320.78 562.86,320.95 563.08,320.84 563.29,320.6 563.5,270.52 563.7,312.19 563.91,314.52 564.12,312.11 564.32,295.07 564.52,293.19 564.72,278.25 564.92,308.33 565.12,290.73 565.32,296.82 565.51,299.58 565.71,293.11 565.9,314.06 566.1,319.44 566.29,320.91 566.48,320.84 566.67,321.03 566.86,320.86 567.04,320.79 567.23,321.06 567.41,320.61 567.6,320.74 567.78,298.76 567.96,320.99 568.14,318.39 568.32,315.96 568.5,315.44 568.68,313.43 568.86,304.21 569.03,278.56 569.21,300.92 569.38,276.48 569.55,295.65 569.73,269.11 569.9,297.91 570.07,276.65 570.24,288.22 570.4,291.33 570.57,299.46 570.74,308.08 570.9,307.8 571.07,306.01 571.23,316.5 571.4,313.84 571.56,263.46 571.72,317.84 571.88,316.05 572.04,317.01 572.2,305.42 572.36,311.17 572.52,313.27 572.67,315.94 572.83,315.13 572.99,313.14 573.14,310.52 573.29,254.28 573.45,300.43 573.6,298.79 573.75,308.6 573.9,296.3 574.05,282.35 574.2,305.97 574.35,275.24 574.5,291.13 574.65,273.49 574.79,292.73 574.94,279.42 575.08,284.73 575.23,302.29 575.37,273.47 575.52,269.94 575.66,284.23 575.8,287.72 575.94,260.29 576.09,287.11 576.23,262.4 576.37,285.02 576.5,226.75 576.64,288.85 576.78,303.32 576.92,293.89 577.06,296.53 577.19,304.3 577.33,284.9 577.46,290.62 577.6,308.13 577.73,305.06 577.86,284.93 578,208.39 578.13,307.34 578.26,301.52 578.39,316.16 578.52,314.92 578.65,313.9 578.78,319.49 578.91,319.46 579.04,315.51 579.17,316.48 579.3,318.36 579.42,180.15 579.55,318.15 579.68,314.35 579.8,313.63 579.93,318.72 580.05,315.2 580.18,317.19 580.3,314.62 580.42,310.16 580.54,308.94 580.67,314.32 580.79,240.87 580.91,308.65 581.03,308.2 581.15,301.51 581.27,298.45 581.39,307.45 581.51,305.44 581.63,313.46 581.75,308.45 581.86,299.74 581.98,308.59 582.1,271.93 582.22,309.42 582.33,310.56 582.45,308.06 582.56,314.41 582.68,313.59 582.79,306.43 582.91,311 583.02,305.37 583.13,315.72 583.24,308.97 583.36,306.55 583.47,314.74 583.58,313.71 583.69,319.35 583.8,319.28 583.91,320.78 584.02,320.83 584.13,320.47 584.24,320.79 584.35,319.09 584.46,319.94 584.57,249.34 584.68,309.61 584.78,309.76 584.89,314.32 585,307.26 585.1,313.91 585.21,312.07 585.32,317.25 585.42,317.95 585.53,318.73 585.63,320.2 585.73,259.09 585.84,320.91 585.94,320.47 586.05,321.09 586.15,321.05 586.25,321.05 586.35,320.39 586.46,318.55 586.56,319.57 586.66,311.57 586.76,315.68 586.86,304.1 586.96,308.69 587.06,313.26 587.16,300.55 587.26,309.82 587.36,306.09 587.46,305.82 587.56,310.65 587.66,302.49 587.75,297.52 587.85,304.32 587.95,233.1 588.05,299.61 588.14,302.03 588.24,305.32 588.33,302.12 588.43,309.87 588.53,309.26 588.62,305.61 588.72,314.1 588.81,305.15 588.91,312.48 589,222.51 589.09,300.42 589.19,305.51 589.28,311.15 589.37,302.41 589.47,295.79 589.56,296.46 589.65,297.23 589.74,306.42 589.84,299.8 589.93,298.79 590.02,263.58 590.11,294.34 590.2,298.26 590.29,297.76 590.38,291.37 590.47,309.73 590.56,305.81 590.65,283.71 590.74,303.4 590.83,304.84 590.92,310.19 591.01,229.57 591.09,298.26 591.18,312.19 591.27,306.95 591.36,308.66 591.44,311.69 591.53,300.94 591.62,299.91 591.71,302.39 591.79,310.37 591.88,315.9 591.96,218.27 592.05,309.28 592.13,310.62 592.22,303.81 592.31,301.63 592.39,296.11 592.47,302.95 592.56,306.81 592.64,286.6 592.73,284.39 592.81,306.32 592.89,254.99 592.98,284.94 593.06,277.12 593.14,269.89 593.23,306.8 593.31,299.35 593.39,288.88 593.47,282.87 593.55,272.57 593.64,282.21 593.72,284.03 593.8,279.32 593.88,279.64 593.96,283.64 594.04,270.65 594.12,301.57 594.2,304.98 594.28,298.41 594.36,300.94 594.44,298.9 594.52,308.13 594.6,296.43 594.68,265.27 594.76,314.41 594.83,297.55 594.91,313.63 594.99,310.04 595.07,306.97 595.15,307.97 595.22,311.47 595.3,301.72 595.38,299.13 595.46,310.52 595.53,246.51 595.61,304.89 595.69,312.34 595.76,299.01 595.84,302.49 595.91,305.22 595.99,313.06 596.07,312.48 596.14,318.16 596.22,320.78 596.29,321.04 596.37,264.54 596.44,320.63 596.51,320.97 596.59,320.43 596.66,320.71 596.74,320.7 596.81,320.48 596.88,320.9 596.96,321.11 597.03,320.96 597.1,320.79 597.18,256.4 597.25,320.92 597.32,320.59 597.4,320.85 597.47,320.87 597.54,320.95 597.61,320.74 597.68,317.52 597.76,317.89 597.83,308.65 597.9,305.23 597.97,260.63 598.04,302.91 598.11,300.99 598.18,309.91 598.25,295.92 598.32,281.91 598.39,288.3 598.46,295.81 598.53,296.11 598.6,281.81 598.67,310.18 598.74,298.01 598.81,279.38 598.88,289.64 598.95,284.57 599.02,294.3 599.09,309.86 599.16,295.14 599.23,292.84 599.29,309.09 599.36,298.14 599.43,285.68 599.5,273.35 599.57,311.22 599.63,310.01 599.7,295.74 599.77,291.55 599.84,309.95 599.9,295.23 599.97,309.76 600.04,304.43 600.1,301.77 600.17,314.1 600.24,275.41 600.3,306.7 600.37,314.42 600.43,312.47 600.5,316.94 600.57,317.18 600.63,320.66 600.7,320.57 600.76,321.08 600.83,320.9 600.89,321.03 600.96,268.84 601.02,320.86 601.09,320.97 601.15,320.85 601.22,320.68 601.28,320.75 601.34,320.97 601.41,320.66 601.47,320.66 601.53,320.85 601.6,320.83 601.66,269.11 601.73,320.59 601.79,320.9 601.85,320.94 601.91,320.53 601.98,320.94 602.04,321.01 602.1,320.89 602.17,320.8 602.23,320.74 602.29,320.88 602.35,267.22 602.41,321.12 602.48,320.54 602.54,320.84 602.6,320.85 602.66,320.85 602.72,320.96 602.78,320.62 602.84,320.85 602.91,321.08 602.97,320.92 603.03,298.91 603.09,320.92 603.15,321.08 603.21,319.79 603.27,319.93 603.33,316.47 603.39,316.62 603.45,314.79 603.51,311.66 603.57,317.4 603.63,310.64 603.69,254.99 603.75,308.73 603.81,315.2 603.87,314.38 603.93,303.16 603.99,302.43 604.04,304.1 604.1,308.92 604.16,300.89 604.22,290.2 604.28,283.96 604.34,267.67 604.4,309.68 604.45,297.43 604.51,291.55 604.57,279.48 604.63,288.58 604.69,280.2 604.74,284.91 604.8,307.19 604.86,276.99 604.92,292.4 604.97,277.62 605.03,303.92 605.09,287.06 605.14,286.75 605.2,304.97 605.26,302.83 605.31,313.07 605.37,300.14 605.43,303.82 605.48,311.89 605.54,303.14 605.6,285.01 605.65,303.57 605.71,305.73 605.76,315.59 605.82,313.86 605.87,305.8 605.93,316.48 605.99,315.01 606.04,303.61 606.1,304.53 606.15,312.27 606.21,271.93 606.26,315 606.32,313.05 606.37,314.77 606.43,302.75 606.48,301.17 606.54,310.55 606.59,293.47 606.64,300.64 606.7,296.57 606.75,293.52 606.81,301.83 606.86,286.46 606.91,297.52 606.97,293.66 607.02,305.49 607.08,300.37 607.13,292.4 607.18,281.53 607.24,290.95 607.29,286.37 607.34,278.14 607.4,291.92 607.45,307.41 607.5,285.7 607.55,270.55 607.61,306.61 607.66,289.82 607.71,282.7 607.76,289.71 607.82,304.86 607.87,290.08 607.92,306.47 607.97,307.22 608.03,298.54 608.08,304.56 608.13,294.76 608.18,282.28 608.23,305.24 608.28,284.09 608.34,302.94 608.39,291.26 608.44,300.37 608.49,295.41 608.54,288.06 608.59,296.84 608.64,311.89 608.69,298.73 608.75,313.5 608.8,304.08 608.85,315.63 608.9,312.46 608.95,315.27 609,309.79 609.05,314.03 609.1,288.58 609.15,315.91 609.2,314.58 609.25,310.44 609.3,313.49 609.35,314.55 609.4,312.72 609.45,310.41 609.5,315.77 609.55,317.48 609.6,316.13 609.65,312.05 609.7,313.75 609.75,309.45 609.8,308.32 609.84,315.72 609.89,314.57 609.94,311.18 609.99,302.91 610.04,307.74 610.09,305.94 610.14,309.73 610.19,254.99 610.24,302.24 610.28,307.19 610.33,300.97 610.38,296.99 610.43,305.65 610.48,303.04 610.53,310.49 610.57,307.42 610.62,312.57 610.67,312.28 610.72,298.55 610.76,293.56 610.81,297.81 610.86,301.66 610.91,297.87 610.96,311.21 611,308.28 611.05,304.78 611.1,300.97 611.14,307.27 611.19,314.43 611.24,305.69 611.29,316.57 611.33,308.37 611.38,308.01 611.43,316.64 611.47,311.24 611.52,318.4 611.57,313.23 611.61,315.08 611.66,317.13 611.71,317.77 611.75,290.44 611.8,317.52 611.84,319.85 611.89,320.19 611.94,319.66 611.98,320.29 612.03,320.56 612.07,320.67 612.12,321.05 612.17,321.03 612.21,320.26 612.26,310.65 612.3,320.05 612.35,319.7 612.39,320.03 612.44,319.9 612.48,318.04 612.53,319.85 612.57,319.49 612.62,317.29 612.66,315.02 612.71,311.53 612.75,301.97 612.8,315.22 612.84,307.87 612.89,314.2 612.93,311.47 612.98,310.9 613.02,316.23 613.07,315.13 613.11,316.32 613.16,304.3 613.2,310.28 613.24,304.78 613.29,308.97 613.33,308.18 613.38,302.39 613.42,309.94 613.46,314.65 613.51,306.22 613.55,316.04 613.6,309.33 613.64,311.84 613.68,311.54 613.73,285.27 613.77,307.91 613.81,307.5 613.86,310.38 613.9,310.94 613.94,310.99 613.99,316.11 614.03,317.01 614.07,319.35 614.12,317.67 614.16,319.86 614.2,299.63 614.25,319.74 614.29,320.35 614.33,320.72 614.37,321.01 614.42,320.9 614.46,321.2 614.5,320.9 614.54,320.88 614.59,321.2 614.63,321.06 614.67,287.78 614.71,321.15 614.76,320.87 614.8,320.8 614.84,320.88 614.88,320.95 614.92,320.88 614.97,320.82 615.01,320.81 615.05,321.07 615.09,320.94 615.13,304.14 615.17,320.83 615.22,321.19 615.26,321.09 615.3,320.97 615.34,321.12 615.38,321.04 615.42,321.07 615.46,320.94 615.51,321 615.55,320.87 615.59,303.59 615.63,320.92 615.67,321.21 615.71,320.94 615.75,320.84 615.79,321.16 615.83,320.9 615.87,320.9 615.91,321.18 615.96,320.97 616,321.09 616.04,276.17 616.08,320.82 616.12,320.99 616.16,320.67 616.2,319.49 616.24,319.58 616.28,319.85 616.32,316.06 616.36,318.98 616.4,314.48 616.44,313.12 616.48,308.51 616.52,317.87 616.56,314.74 616.6,313.48 616.64,310.64 616.68,307.84 616.72,315.17 616.76,317.23 616.8,305.95 616.84,317.27 616.88,305 616.92,305.35 616.95,304.78 616.99,311.17 617.03,313.77 617.07,307.79 617.11,309.94 617.15,305.47 617.19,313.18 617.23,308.62 617.27,301.24 617.31,306.21 617.35,300.32 617.38,303.01 617.42,313.33 617.46,304.35 617.5,312.25 617.54,314.17 617.58,304.58 617.62,315.18 617.66,314.36 617.69,308.17 617.73,311.97 617.77,303.13 617.81,310.19 617.85,310.89 617.89,305.32 617.92,305.92 617.96,300.33 618,300.95 618.04,299.26 618.08,313.71 618.11,314.76 618.15,303.34 618.19,289.03 618.23,315.2 618.27,307.95 618.3,311.46 618.34,313.31 618.38,307.12 618.42,306.62 618.45,313.44 618.49,308.51 618.53,314.44 618.57,306.89 618.6,299.15 618.64,312.6 618.68,316.17 618.72,313.5 618.75,315.66 618.79,311.5 618.83,317.46 618.86,314.58 618.9,315.96 618.94,312.85 618.98,315.09 619.01,304.83 619.05,318.76 619.09,319.19 619.12,317.13 619.16,316.24 619.2,319.84 619.23,318.88 619.27,319.32 619.31,320.45 619.34,319.24 619.38,319.85 619.42,310.48 619.45,319.77 619.49,320.28 619.53,320.81 619.56,320.35 619.6,320.57 619.63,320.79 619.67,321.13 619.71,320.94 619.74,321.2 619.78,321.06 619.82,311.18 619.85,320.84 619.89,320.51 619.92,320.55 619.96,320.29 619.99,320.36 620.03,319.77 620.07,320.46 620.1,318.95 620.14,318.74 620.17,318.25 620.21,309.03 620.24,317.95 620.28,319.27 620.32,316.84 620.35,316.89 620.39,317.98 620.42,319.43 620.46,315.16 620.49,318.61 620.53,318.69 620.56,316.46 620.6,288.17 620.63,317.74 620.67,317.99 620.7,314.17 620.74,315.39 620.77,315.2 620.81,314.84 620.84,313.14 620.88,313.15 620.91,316.85 620.95,316.01 620.98,294.73 621.02,312.02 621.05,314.27 621.09,315.97 621.12,311.05 621.16,316.13 621.19,314.52 621.22,313.3 621.26,311.68 621.29,312.11 621.33,312.21 621.36,292.16 621.4,315.22 621.43,311.39 621.46,312.91 621.5,309.72 621.53,317.56 621.57,308.92 621.6,313.5 621.63,315.36 621.67,317.21 621.7,317.49 621.74,293.2 621.77,310.56 621.8,308.68 621.84,309.95 621.87,313.97 621.91,316.27 621.94,312.95 621.97,315.83 622.01,316.61 622.04,312.82 622.07,312.71 622.11,299.63 622.14,310.56 622.17,318.03 622.21,316.61 622.24,313.03 622.27,311.7 622.31,309.18 622.34,313.29 622.37,314.08 622.41,318.26 622.44,314.51 622.47,310.8 622.51,317.93 622.54,313.93 622.57,310.36 622.61,310.37 622.64,318.42 622.67,316.04 622.71,317.02 622.74,310.69 622.77,312.27 622.8,316.58 622.84,296.27 622.87,313.52 622.9,318.6 622.94,317.55 622.97,312.9 623,316.59 623.03,317.14 623.07,312.25 623.1,313.7 623.13,312.77 623.16,313.36 623.2,298.15 623.23,317.68 623.26,314.1 623.29,315.16 623.32,313.9 623.36,314.28 623.39,313.48 623.42,318.62 623.45,317.84 623.49,312.74 623.52,314.09 623.55,295.56 623.58,318.52 623.61,315.09 623.65,318.78 623.68,317.66 623.71,318.45 623.74,317.3 623.77,316.71 623.81,318.11 623.84,313.35 623.87,313.74 623.9,304.11 623.93,310.1 623.96,315.97 624,316.22 624.03,315.57 624.06,310.79 624.09,312.11 624.12,311.06 624.15,315.87 624.18,316.79 624.22,313.39 624.25,309 624.28,315.38 624.31,310.21 624.34,310.76 624.37,314.16 624.4,310.68 624.44,308.4 624.47,315.72 624.5,315.21 624.53,313.9 624.56,315.91 624.59,298.65 624.62,310.55 624.65,309.39 624.68,311.4 624.71,312.71 624.75,309.1 624.78,316.32 624.81,311.51 624.84,314.62 624.87,309.51 624.9,316.48 624.93,293.11 624.96,317.3 624.99,314.31 625.02,312.28 625.05,315.83 625.08,310.56 625.11,311.43 625.14,316.06 625.17,313.15 625.21,312.67 625.24,317.19 625.27,302.98 625.3,312.72 625.33,310.36 625.36,315.5 625.39,316.92 625.42,312.94 625.45,309.68 625.48,316.82 625.51,315.83 625.54,316.77 625.57,307.22 625.6,309.38 625.63,316.57 625.66,307.79 625.69,312.31 625.72,317.06 625.75,316.51 625.78,314.07 625.81,316.6 625.84,314.83 625.87,316.1 625.9,314.97 625.93,308.67 625.96,310.89 625.99,305.16 626.02,305.62 626.05,309.11 626.08,315.7 626.11,302.96 626.14,315.61 626.16,316.38 626.19,305.78 626.22,307.6 626.25,305.78 626.28,312.72 626.31,304.07 626.34,304.55 626.37,316.14 626.4,303.75 626.43,306.55 626.46,305.66 626.49,310.79 626.52,306.95 626.55,305.79 626.58,303.88 626.6,314.04 626.63,315.46 626.66,310.16 626.69,312.71 626.72,308.46 626.75,313.1 626.78,316.32 626.81,314.33 626.84,308.89 626.87,311.74 626.9,301.55 626.92,316.8 626.95,315.26 626.98,310.93 627.01,314.63 627.04,316.73 627.07,317.32 627.1,317.2 627.13,315.33 627.15,317.69 627.18,318.5 627.21,314.1 627.24,315.32 627.27,315.85 627.3,317.97 627.33,317.13 627.35,314.73 627.38,318.18 627.41,317.36 627.44,319.14 627.47,317.71 627.5,319.28 627.52,309.16 627.55,314.86 627.58,319.37 627.61,318.01 627.64,315.13 627.67,319.14 627.69,315.78 627.72,319.16 627.75,317.38 627.78,315.69 627.81,315.58 627.83,301.58 627.86,317.82 627.89,316.56 627.92,318.75 627.95,313.68 627.97,315.02 628,316.93 628.03,316.16 628.06,315.43 628.09,316.75 628.11,316.81 628.14,301.88 628.17,317.78 628.2,311.79 628.22,314.59 628.25,315.1 628.28,314.86 628.31,318.47 628.34,315.76 628.36,314.45 628.39,317.97 628.42,318.21 628.45,313.28 628.47,312.36 628.5,318.07 628.53,308.76 628.56,311.81 628.58,310.72 628.61,317.51 628.64,312.62 628.66,315.68 628.69,308.04 628.72,313.97 628.75,311.21 628.77,313.04 628.8,314.15 628.83,316.09 628.86,309.02 628.88,315.22 628.91,307.48 628.94,309.38 628.96,307.96 628.99,309.43 629.02,307.68 629.04,306.88 629.07,317.49 629.1,314.72 629.13,307.51 629.15,311.56 629.18,307.4 629.21,312.53 629.23,313.89 629.26,308.52 629.29,314.81 629.31,313.26 629.34,308.73 629.37,313.51 629.39,310.68 629.42,316.14 629.45,315.53 629.47,307.34 629.5,315.75 629.53,316.08 629.55,317.66 629.58,317.04 629.61,313.67 629.63,311.43 629.66,308.69 629.69,307.62 629.71,314.21 629.74,312.76 629.77,313.75 629.79,313.14 629.82,309.11 629.85,313.66 629.87,310.28 629.9,309.12 629.92,306.17 629.95,314.42 629.98,316.99 630,311 630.03,309.69 630.06,311.37 630.08,315.06 630.11,310.62 630.13,315.57 630.16,309.52 630.19,308.05 630.21,314.46 630.24,311.51 630.26,313.05 630.29,314.31 630.32,308.34 630.34,314.43 630.37,309.28 630.39,309.65 630.42,316.53 630.45,308.69 630.47,313.58 630.5,312.16 630.52,312.7 630.55,313.15 630.57,312.85 630.6,309.01 630.63,313.98 630.65,315.68 630.68,308.69 630.7,312.41 630.73,311.05 630.75,315.32 630.78,305.92 630.81,309.86 630.83,309.49 630.86,305.74 630.88,316.27 630.91,310.64 630.93,316.54 630.96,312.41 630.98,308.79 631.01,306.49 631.03,313.39 631.06,305.26 631.09,304.96 631.11,304.99 631.14,311.31 631.16,308.88 631.19,310.84 631.21,316.15 631.24,313.49 631.26,306.22 631.29,314.71 631.31,311.33 631.34,306.59 631.36,311.78 631.39,309.6 631.41,309.85 631.44,315.45 631.46,316.6 631.49,310.44 631.51,309.05 631.54,310.05 631.56,304.77 631.59,315.2 631.61,308.64 631.64,306.62 631.66,305.93 631.69,304.99 631.71,305.97 631.74,312.2 631.76,310.09 631.79,309.33 631.81,310.28 631.84,312.25 631.86,307.51 631.89,308.35 631.91,317.12 631.94,307.08 631.96,312.85 631.98,309.54 632.01,307.1 632.03,310.76 632.06,315.02 632.08,311.55 632.11,313.51 632.13,316.15 632.16,307.79 632.18,310.59 632.21,314 632.23,314.03 632.25,314.9 632.28,312.67 632.3,312.65 632.33,311.27 632.35,315.73 632.38,313.2 632.4,314.12 632.43,317.67 632.45,311.3 632.47,313.51 632.5,314.63 632.52,314.4 632.55,314.41 632.57,315.38 632.6,314.61 632.62,312.17 632.64,315.75 632.67,312.79 632.69,310.71 632.72,316.29 632.74,313.01 632.76,313.73 632.79,318.05 632.81,316.05 632.84,315.41 632.86,312.58 632.88,317.97 632.91,317.65 632.93,316.52 632.96,315.74 632.98,313.48 633,315.85 633.03,313.42 633.05,317.12 633.07,316.13 633.1,313.06 633.12,315.63 633.15,315.09 633.17,315.74 633.19,318.2 633.22,315.17 633.24,318.58 633.26,317.78 633.29,313.63 633.31,313.61 633.34,312.04 633.36,313.67 633.38,316.19 633.41,317.58 633.43,317.59 633.45,317.3 633.48,310.28 633.5,316.17 633.52,315.55 633.55,315.66 633.57,318.37 633.59,315.17 633.62,319.14 633.64,315.05 633.66,317.71 633.69,313.07 633.71,315.22 633.74,311.34 633.76,318.51 633.78,317.54 633.8,317.53 633.83,313.48 633.85,316.08 633.87,316.12 633.9,316.37 633.92,317.11 633.94,315.16 633.97,316.41 633.99,310.91 634.01,314.88 634.04,315.27 634.06,318.17 634.08,313.59 634.11,318.19 634.13,315.7 634.15,313.43 634.18,312.97 634.2,316.95 634.22,315.64 634.24,313.89 634.27,317.66 634.29,316.46 634.31,315.19 634.34,317.77 634.36,314.1 634.38,312.45 634.4,319.08 634.43,312.36 634.45,315.76 634.47,313.68 634.5,312.31 634.52,315.85 634.54,318.51 634.56,317.18 634.59,318.78 634.61,315.3 634.63,314.48 634.66,316.26 634.68,312.84 634.7,312.45 634.72,317.38 634.75,315.62 634.77,317.71 634.79,317.61 634.81,314.5 634.84,313.97 634.86,312.66 634.88,315.71 634.9,316.5 634.93,313.04 634.95,318.88 634.97,315.91 634.99,311.85 635.02,314.76 635.04,317.33 635.06,318.58 635.08,313.77 635.11,313.85 635.13,314.17 635.15,318.59 635.17,317.77 635.19,317.54 635.22,317.49 635.24,316.98 635.26,315.62 635.28,314.91 635.31,316.22 635.33,316.33 635.35,317.79 635.37,318.64 635.39,315.92 635.42,318.43 635.44,316.32 635.46,317.33 635.48,314.15 635.51,319.49 635.53,317.87 635.55,318.18 635.57,318.6 635.59,318.83 635.62,319.68 635.64,318.1 635.66,319.27 635.68,318.43 635.7,318.84 635.73,316.08 635.75,320.37 635.77,320.48 635.79,320.15 635.81,319.3 635.83,320.66 635.86,320.81 635.88,320.67 635.9,320.67 635.92,320.35 635.94,320.9 635.97,317.91 635.99,320.59 636.01,320.65 636.03,320.54 636.05,320.92 636.07,320.6 636.1,320.93 636.12,320.86 636.14,320.83 636.16,321.04 636.18,320.88 636.2,316.39 636.23,321.02 636.25,321.02 636.27,321.19 636.29,321 636.31,320.81 636.33,320.89 636.36,321.04 636.38,320.87 636.4,320.75 636.42,320.7 636.44,314.8 636.46,320.53 636.48,320.78 636.51,320.44 636.53,320.59 636.55,320.66 636.57,320.5 636.59,319.81 636.61,320 636.63,320.22 636.65,319.42 636.68,314.17 636.7,319.85 636.72,319.61 636.74,319.91 636.76,320.6 636.78,319.74 636.8,320.06 636.82,318.39 636.85,318.77 636.87,320.2 636.89,319.98 636.91,319.19 636.93,318.11 636.95,318.14 636.97,319.29 636.99,319.74 637.01,319.38 637.04,318.19 637.06,319.71 637.08,320.02 637.1,319.05 637.12,316.3 637.14,314.55 637.16,317.37 637.18,316.22 637.2,316.31 637.22,317.24 637.25,317.93 637.27,316.71 637.29,316.03 637.31,318.15 637.33,317.33 637.35,317.39 637.37,319.28 637.39,315.75 637.41,315.81 637.43,315.63 637.45,318.95 637.48,318.61 637.5,317.34 637.52,318.29 637.54,318.96 637.56,319.69 637.58,318.89 637.6,318.61 637.62,317.26 637.64,315.36 637.66,319.45 637.68,319.51 637.7,314.99 637.72,319.69 637.74,318.8 637.76,316.17 637.79,316.92 637.81,317.79 637.83,315.28 637.85,319.28 637.87,317.09 637.89,315.95 637.91,315.74 637.93,319.41 637.95,317.31 637.97,318.81 637.99,318.32 638.01,319.41 638.03,319.55 638.05,314.51 638.07,318.51 638.09,318.06 638.11,317.25 638.13,316.44 638.15,316.79 638.17,317.69 638.19,316.5 638.21,319.12 638.23,317.15 638.25,319.86 638.27,315.11 638.3,317.61 638.32,317.87 638.34,318.11 638.36,317.15 638.38,319.71 638.4,318.81 638.42,319.44 638.44,319.01 638.46,318.24 638.48,318.23 638.5,315.1 638.52,320.25 638.54,320.03 638.56,318.98 638.58,318.99 638.6,318.77 638.62,319.76 638.64,319.36 638.66,320.06 638.68,319.2 638.7,320.48 638.72,316.69 638.74,319.19 638.76,319.63 638.78,319.98 638.8,320.08 638.82,320.69 638.84,320.81 638.86,319.72 638.88,320.64 638.9,320.24 638.92,320.73 638.94,319.11 638.96,320.44 638.98,320.77 639,320.49 639.02,320.78 639.04,320.93 639.06,321.01 639.07,320.91 639.09,320.53 639.11,320.88 639.13,320.94 639.15,315.88 639.17,321.16 639.19,320.84 639.21,320.97 639.23,321.1 639.25,321.1 639.27,320.99 639.29,321.09 639.31,321.18 639.33,321.23 639.35,321.05 639.37,319.23 639.39,321.15 639.41,321.21 639.43,321.22 639.45,321.24 639.47,321.19 639.49,321.13 639.51,321.28 639.53,321.17 639.55,321.16 639.57,321.24 639.58,317.24 639.6,321.13 639.62,321.14 639.64,321.04 639.66,321.06 639.68,321.11 639.7,321.01 639.72,320.98 639.74,321.09 639.76,321.1 639.78,320.78 639.8,320.23 639.82,321.03 639.84,320.67 639.86,320.93 639.87,321.04 639.89,320.99 639.91,320.93 639.93,320.58 639.95,320.89 639.97,320.36 639.99,320.98 640.01,318.97 640.03,320.42 640.05,320.14 640.07,320.23 640.09,320.66 640.11,320.68 640.12,320.97 640.14,320.79 640.16,320.85 640.18,320.19 640.2,320.89 640.22,319.82 640.24,319.97 640.26,320.86 640.28,320.13 640.3,320.84 640.32,320.29 640.33,319.48 640.35,320.44 640.37,319.42 640.39,319.96 640.41,319.65 640.43,319.94 640.45,319.95 640.47,320.26 640.49,320.55 640.5,319.32 640.52,319.15 640.54,320.15 640.56,320.3 640.58,319.56 640.6,320.65 640.62,320.51 640.64,316.91 640.66,319.63 640.67,319.04 640.69,319.75 640.71,320.65 640.73,319.74 640.75,319.2 640.77,320.43 640.79,320.01 640.81,319.86 640.82,319.96 640.84,317.77 640.86,319.3 640.88,319.5 640.9,320.51 640.92,320.13 640.94,319.92 640.95,319.65 640.97,319.64 640.99,319.73 641.01,319.25 641.03,319.73 641.05,318.17 641.07,320.44 641.09,318.77 641.1,319.44 641.12,320.46 641.14,320.11 641.16,319.4 641.18,319.4 641.2,320.63 641.21,318.77 641.23,320.05 641.25,318.05 641.27,318.92 641.29,318.77 641.31,320.29 641.33,319.43 641.34,320.23 641.36,319.26 641.38,319.01 641.4,319.82 641.42,320.14 641.44,320.65 641.45,317.66 641.47,320.63 641.49,319.36 641.51,319 641.53,320.01 641.55,320.34 641.56,320 641.58,319.37 641.6,318.94 641.62,320.11 641.64,319.79 641.66,318.38 641.67,320.37 641.69,320.53 641.71,319.37 641.73,320.11 641.75,320.62 641.76,320.05 641.78,320.37 641.8,320.23 641.82,320.32 641.84,319.48 641.86,317.13 641.87,320.06 641.89,319.28 641.91,319.85 641.93,319.42 641.95,319.17 641.96,320.59 641.98,319.05 642,319.16 642.02,318.81 642.04,319.6 642.05,318.73 642.07,320.18 642.09,319.99 642.11,320.45 642.13,320.56 642.14,320.08 642.16,319.99 642.18,319.99 642.2,320.53 642.22,320.51 642.23,318.1 642.25,318.65 642.27,319.71 642.29,320.03 642.3,319.83 642.32,319.66 642.34,320.4 642.36,318.67 642.38,319.43 642.39,320 642.41,317.78 642.43,317.91 642.45,318.57 642.47,317.87 642.48,318.6 642.5,319.59 642.52,317.02 642.54,318.41 642.55,320.01 642.57,319.75 642.59,318.87 642.61,317.42 642.62,317.01 642.64,316.49 642.66,317.66 642.68,316.8 642.7,317.58 642.71,316.51 642.73,316.27 642.75,318.18 642.77,318.92 642.78,318.15 642.8,318.14 642.82,319.1 642.84,316.45 642.85,316.32 642.87,319.19 642.89,318.4 642.91,317.88 642.92,319.66 642.94,319.9 642.96,317.46 642.98,318.71 642.99,316.65 643.01,316.81 643.03,318.49 643.05,317.66 643.06,317.97 643.08,316.67 643.1,318.55 643.12,316.42 643.13,317.03 643.15,317.95 643.17,318.61 643.19,317.52 643.2,316.4 643.22,319.55 643.24,316.24 643.26,316.89 643.27,319.08 643.29,319.95 643.31,317.89 643.32,319.79 643.34,316.4 643.36,318.32 643.38,318.62 643.39,320.06 643.41,318.21 643.43,317.59 643.45,318.1 643.46,316.75 643.48,317.55 643.5,317.78 643.51,318.68 643.53,318.58 643.55,318.41 643.57,317.12 643.58,317.56 643.6,319.91 643.62,319.92 643.63,318.12 643.65,319.49 643.67,319.33 643.69,319.91 643.7,320.29 643.72,319.88 643.74,318.46 643.75,318.9 643.77,319.33 643.79,317.77 643.81,318.91 643.82,320.08 643.84,320.48 643.86,320.54 643.87,320.56 643.89,319.41 643.91,320.27 643.92,319.28 643.94,320.59 643.96,319.5 643.98,320.01 643.99,320.15 644.01,319.25 644.03,319.44 644.04,319.77 644.06,319.17 644.08,319.54 644.09,320.83 644.11,320.06 644.13,320.07 644.14,320.12 644.16,319.77 644.18,320.55 644.2,320.03 644.21,319.66 644.23,320.77 644.25,320.06 644.26,320.15 644.28,320.47 644.3,319.92 644.31,320.88 644.33,320.67 644.35,318.73 644.36,320.08 644.38,320.18 644.4,320.68 644.41,320.56 644.43,320.78 644.45,320.25 644.46,320.17 644.48,320.44 644.5,320.9 644.51,320.48 644.53,319.2 644.55,320.27 644.56,320.62 644.58,320.43 644.6,320.42 644.61,320.79 644.63,320.45 644.65,320.58 644.66,320.6 644.68,320.72 644.7,320.68 644.71,320.29 644.73,320.46 644.75,320.57 644.76,320.53 644.78,320.85 644.8,320.41 644.81,320.63 644.83,320.95 644.85,320.67 644.86,320.82 644.88,320.33 644.89,318.34 644.91,320.95 644.93,320.65 644.94,320.91 644.96,320.36 644.98,320.95 644.99,320.91 645.01,320.63 645.03,320.61 645.04,320.82 645.06,320.11 645.08,318.82 645.09,320.42 645.11,320.21 645.12,320.69 645.14,319.88 645.16,320.85 645.17,320.57 645.19,320.14 645.21,320.8 645.22,320.15 645.24,320.02 645.26,319.68 645.27,319.66 645.29,320.34 645.3,320.31 645.32,319.66 645.34,319.63 645.35,319.4 645.37,320.72 645.39,319.95 645.4,320.82 645.42,320.12 645.43,319.67 645.45,319.52 645.47,320.47 645.48,320 645.5,320.56 645.51,319.86 645.53,319.92 645.55,319.05 645.56,319.68 645.58,319.49 645.6,320.61 645.61,319.6 645.63,320.12 645.64,319.69 645.66,320.21 645.68,320.2 645.69,319.5 645.71,319.92 645.72,319.64 645.74,319.25 645.76,320.63 645.77,320.39 645.79,319.92 645.8,320.61 645.82,320.47 645.84,319.06 645.85,320.44 645.87,319.71 645.88,319.8 645.9,319.64 645.92,320.42 645.93,320.08 645.95,319.26 645.96,319.15 645.98,319.84 646,319.23 646.01,320.15 646.03,320.46 646.04,320.65 646.06,318.67 646.08,320.63 646.09,320.24 646.11,319.14 646.12,320.41 646.14,319.14 646.16,319.12 646.17,318.73 646.19,318.68 646.2,319.3 646.22,319.55 646.23,319.46 646.25,319.16 646.27,320.11 646.28,319.28 646.3,319.41 646.31,319.71 646.33,319.07 646.34,319.53 646.36,320.2 646.38,319.19 646.39,320.16 646.41,319.79 646.42,319.34 646.44,319.91 646.45,319.65 646.47,318.98 646.49,319.24 646.5,319.89 646.52,319.49 646.53,319.67 646.55,319.13 646.56,320.63 646.58,319.64 646.6,319.13 646.61,318.87 646.63,320.39 646.64,320.72 646.66,319.04 646.67,320.29 646.69,320.26 646.7,319.76 646.72,319.57 646.74,319.37 646.75,320.07 646.77,320.12 646.78,319.11 646.8,319.98 646.81,320.65 646.83,319.78 646.84,319.93 646.86,320.71 646.88,320.23 646.89,320.26 646.91,319.38 646.92,319.58 646.94,319.18 646.95,319.28 646.97,319.22 646.98,319.71 647,319.9 647.01,320.06 647.03,319.94 647.05,319.21 647.06,319.38 647.08,319.64 647.09,319.41 647.11,320.67 647.12,320.13 647.14,320.01 647.15,319.98 647.17,320.6 647.18,320.25 647.2,319.56 647.21,319.66 647.23,319.59 647.25,320.13 647.26,320.48 647.28,320.12 647.29,319.37 647.31,320.35 647.32,320.41 647.34,319.75 647.35,320.12 647.37,320.57 647.38,320.17 647.4,319.63 647.41,319.79 647.43,320.2 647.44,320.76 647.46,319.76 647.47,320.12 647.49,320.58 647.5,319.15 647.52,320.73 647.54,320.8 647.55,320.29 647.57,320.51 647.58,319.96 647.6,320.24 647.61,320.07 647.63,320.4 647.64,320.34 647.66,320.04 647.67,319.95 647.69,320.96 647.7,320.2 647.72,320.84 647.73,320.36 647.75,320.45 647.76,320.87 647.78,320.43 647.79,320.78 647.81,320.4 647.82,320.35 647.84,320.71 647.85,321.04 647.87,320.57 647.88,320.51 647.9,320.92 647.91,320.65 647.93,320.73 647.94,320.94 647.96,321.07 647.97,321.01 647.99,321.06 648,320.19 648.02,320.98 648.03,320.95 648.05,320.92 648.06,320.99 648.08,321.06 648.09,321.15 648.11,321.15 648.12,321.23 648.14,321.24 648.15,321.3 648.17,320.77 648.18,321.32 648.2,321.33 648.21,321.3 648.23,321.32 648.24,321.31 648.26,321.32 648.27,321.31 648.29,321.3 648.3,321.32 648.31,321.33 648.33,320.23 648.34,321.3 648.36,321.32 648.37,321.33 648.39,321.34 648.4,321.33 648.42,321.31 648.43,321.32 648.45,321.31 648.46,321.32 648.48,321.31 648.49,319.34 648.51,321.34 648.52,321.32 648.54,321.31 648.55,321.31 648.57,321.33 648.58,321.33 648.59,321.32 648.61,321.33 648.62,321.34 648.64,321.3 648.65,319.91 648.67,321.33 648.68,321.31 648.7,321.33 648.71,321.33 648.73,321.32 648.74,321.31 648.76,321.34 648.77,321.31 648.79,321.33 648.8,321.33 648.81,320.7 648.83,321.33 648.84,321.33 648.86,321.3 648.87,321.33 648.89,321.33 648.9,321.33 648.92,321.32 648.93,321.32 648.95,321.33 648.96,321.32 648.97,319.56 648.99,321.32 649,321.32 649.02,321.31 649.03,321.34 649.05,321.33 649.06,321.32 649.08,321.31 649.09,321.34 649.1,321.32 649.12,321.32 649.13,320.23 649.15,321.34 649.16,321.33 649.18,321.33 649.19,321.32 649.21,321.33 649.22,321.31 649.23,321.31 649.25,321.31 649.26,321.33 649.28,321.32 649.29,320.89 649.31,321.34 649.32,321.33 649.34,321.32 649.35,321.32 649.36,321.34 649.38,321.32 649.39,321.34 649.41,321.33 649.42,321.31 649.44,321.32 649.45,320.36 649.46,321.31 649.48,321.32 649.49,321.32 649.51,321.34 649.52,321.32 649.54,321.33 649.55,321.32 649.56,321.31 649.58,321.31 649.59,321.31 649.61,319.99 649.62,321.32 649.64,321.32 649.65,321.32 649.66,321.31 649.68,321.34 649.69,321.33 649.71,321.32 649.72,321.32 649.73,321.33 649.75,321.31 649.76,320.26 649.78,321.31 649.79,321.31 649.81,321.26 649.82,321.24 649.83,321.18 649.85,321.18 649.86,321.21 649.88,321.16 649.89,321.24 649.9,321.09 649.92,320.63 649.93,321.19 649.95,321.05 649.96,321.2 649.97,321.22 649.99,321.05 650,320.92 650.02,321.05 650.03,320.98 650.04,321.11 650.06,320.86 650.07,320.58 650.09,321.11 650.1,320.86 650.11,320.78 650.13,320.78 650.14,320.83 650.16,321.07 650.17,321 650.18,320.86 650.2,320.82 650.21,320.85 650.23,320.22 650.24,321.01 650.25,320.95 650.27,321.12 650.28,321.11 650.3,320.64 650.31,320.79 650.32,320.98 650.34,321.05 650.35,320.71 650.37,320.35 650.38,320.4 650.39,320.5 650.41,320.43 650.42,320.81 650.44,320.98 650.45,320.71 650.46,320.21 650.48,320.75 650.49,320.23 650.5,320.45 650.52,320.32 650.53,320.18 650.55,320.7 650.56,320.86 650.57,320.56 650.59,320.92 650.6,320.14 650.62,320.76 650.63,320.76 650.64,320.96 650.66,320.14 650.67,320.78 650.68,320.64 650.7,320.21 650.71,320.48 650.73,320.7 650.74,320.1 650.75,320.97 650.77,320.1 650.78,320.23 650.79,320.2 650.81,320.74 650.82,320.45 650.83,320.34 650.85,320.91 650.86,319.98 650.88,320.35 650.89,320.88 650.9,320.45 650.92,319.98 650.93,320.01 650.94,320.36 650.96,320.77 650.97,320.33 650.99,319.9 651,320.44 651.01,320.17 651.03,320.26 651.04,320.53 651.05,320.06 651.07,320.26 651.08,320.75 651.09,320.14 651.11,320.98 651.12,320.96 651.13,320.35 651.15,320.62 651.16,320.39 651.18,321.01 651.19,321.01 651.2,320.62 651.22,320.84 651.23,320.6 651.24,320.67 651.26,320.67 651.27,320.33 651.28,319.93 651.3,320.54 651.31,320.62 651.32,320.64 651.34,320.94 651.35,320.55 651.36,320.49 651.38,320.56 651.39,320.74 651.4,320.53 651.42,320.62 651.43,320.57 651.45,320.79 651.46,320.6 651.47,321.15 651.49,320.7 651.5,321 651.51,320.82 651.53,320.95 651.54,321.13 651.55,321.16 651.57,320.87 651.58,320.82 651.59,320.88 651.61,320.97 651.62,321.13 651.63,320.97 651.65,320.91 651.66,320.99 651.67,321 651.69,321.21 651.7,321.08 651.71,321.06 651.73,320.37 651.74,321.07 651.75,321.16 651.77,321.25 651.78,321.25 651.79,321.1 651.81,321.23 651.82,321.27 651.83,321.2 651.85,321.15 651.86,321.29 651.87,319.89 651.89,321.28 651.9,321.23 651.91,321.26 651.93,321.3 651.94,321.25 651.95,321.22 651.96,321.29 651.98,321.26 651.99,321.3 652,321.21 652.02,320.86 652.03,321.24 652.04,321.23 652.06,321.21 652.07,321.28 652.08,321.21 652.1,321.23 652.11,321.26 652.12,321.2 652.14,321.24 652.15,321.25 652.16,320.98 652.18,321.23 652.19,321.09 652.2,321.17 652.22,321.18 652.23,321.19 652.24,321.26 652.25,321.17 652.27,321.04 652.28,321.19 652.29,321.12 652.31,320.15 652.32,321.09 652.33,321.06 652.35,321.07 652.36,320.97 652.37,320.96 652.39,321 652.4,320.82 652.41,321.02 652.42,320.82 652.44,321.01 652.45,320.96 652.46,320.91 652.48,321.08 652.49,320.6 652.5,320.58 652.52,321.05 652.53,320.59 652.54,321.07 652.55,320.84 652.57,320.92 652.58,321.04 652.59,320.56 652.61,320.32 652.62,321 652.63,320.26 652.65,320.86 652.66,320.5 652.67,321.01 652.68,320.32 652.7,321.01 652.71,320.29 652.72,320.91 652.74,319.96 652.75,320.57 652.76,319.94 652.77,320.83 652.79,320.78 652.8,320.08 652.81,319.92 652.83,320.93 652.84,320.49 652.85,320.88 652.86,320.45 652.88,320.41 652.89,319.75 652.9,319.93 652.92,319.7 652.93,320.06 652.94,320.76 652.95,320.78 652.97,320.34 652.98,320.87 652.99,320.81 653.01,320.03 653.02,319.88 653.03,320.05 653.04,319.99 653.06,320.32 653.07,320.27 653.08,319.9 653.09,319.93 653.11,320.34 653.12,319.74 653.13,320.58 653.15,319.6 653.16,320.54 653.17,319.35 653.18,320.04 653.2,320.21 653.21,319.92 653.22,319.26 653.23,319.16 653.25,320.7 653.26,319.44 653.27,319.61 653.29,319.71 653.3,320.38 653.31,320.19 653.32,320.46 653.34,319.73 653.35,320.53 653.36,320.38 653.37,319.2 653.39,320.25 653.4,320.73 653.41,319.26 653.43,319.8 653.44,319.85 653.45,319.61 653.46,319.3 653.48,320.74 653.49,319.6 653.5,320.31 653.51,320.43 653.53,320.65 653.54,319.41 653.55,320.21 653.56,319.88 653.58,320.07 653.59,319.63 653.6,319.14 653.61,319.67 653.63,320.21 653.64,319.38 653.65,319.68 653.66,319.76 653.68,320.38 653.69,320.13 653.7,320.56 653.71,319.43 653.73,319.86 653.74,319.35 653.75,319.67 653.76,320.56 653.78,320.46 653.79,320.33 653.8,319.05 653.81,320.54 653.83,320.19 653.84,320 653.85,319.73 653.86,320.66 653.88,319.88 653.89,320.38 653.9,318.97 653.91,320.13 653.93,320.44 653.94,319.93 653.95,320.19 653.96,319.4 653.98,319.57 653.99,319.66 654,319.46 654.01,319.5 654.03,319.69 654.04,320.57 654.05,320.65 654.06,319.04 654.08,320.26 654.09,318.93 654.1,320.06 654.11,320.58 654.12,319.65 654.14,320.11 654.15,320.09 654.16,319.38 654.17,319.2 654.19,320.52 654.2,318.78 654.21,318.85 654.22,320.48 654.24,320 654.25,319.56 654.26,320.25 654.27,319.04 654.28,319.96 654.3,319.97 654.31,320.03 654.32,320.03 654.33,320.16 654.35,320.28 654.36,318.68 654.37,320.51 654.38,320.21 654.4,319.9 654.41,319.78 654.42,319.39 654.43,320.47 654.44,319.21 654.46,319.5 654.47,319.36 654.48,320.33 654.49,320.33 654.51,319.04 654.52,319.96 654.53,319.31 654.54,318.89 654.55,319.5 654.57,320.16 654.58,318.97 654.59,320.53 654.6,320.11 654.62,318.98 654.63,318.87 654.64,320.43 654.65,320.48 654.66,320.52 654.68,319.36 654.69,320.26 654.7,319.74 654.71,319.4 654.72,318.94 654.74,319.58 654.75,320.4 654.76,318.8 654.77,318.89 654.79,320.01 654.8,320.33 654.81,319.79 654.82,319.76 654.83,320.05 654.85,320.11 654.86,319.59 654.87,318.78 654.88,319.46 654.89,319.57 654.91,318.86 654.92,318.91 654.93,319.67 654.94,319.09 654.95,320.13 654.97,319.09 654.98,319.08 654.99,319.61 655,319.61 655.01,319.53 655.03,318.74 655.04,319.14 655.05,320.14 655.06,319.25 655.07,318.95 655.09,319.92 655.1,318.79 655.11,319.8 655.12,319.68 655.13,319.44 655.15,320.47 655.16,319.72 655.17,319.96 655.18,318.91 655.19,319.96 655.21,319.72 655.22,319.81 655.23,320.72 655.24,320.38 655.25,319.09 655.27,320.57 655.28,320.04 655.29,319.86 655.3,320.7 655.31,319.17 655.33,319.63 655.34,319.38 655.35,320.03 655.36,319.28 655.37,320.37 655.38,320.29 655.4,320.45 655.41,319.89 655.42,319.79 655.43,319.62 655.44,320.52 655.46,319.54 655.47,320.29 655.48,320.68 655.49,320.26 655.5,320.79 655.52,320.25 655.53,320.91 655.54,319.94 655.55,319.9 655.56,320.93 655.57,320.02 655.59,320.02 655.6,320.05 655.61,320.41 655.62,320.09 655.63,319.94 655.65,319.97 655.66,320.76 655.67,320.92 655.68,320.23 655.69,320.8 655.7,320.47 655.72,320.37 655.73,320.6 655.74,320.28 655.75,320.96 655.76,320.46 655.77,320.36 655.79,320.65 655.8,320.4 655.81,320.72 655.82,321.06 655.83,321.05 655.85,320.08 655.86,321.07 655.87,320.59 655.88,321.08 655.89,320.44 655.9,321.02 655.92,320.75 655.93,320.86 655.94,320.83 655.95,321.13 655.96,320.81 655.97,320.14 655.99,320.88 656,320.9 656.01,320.85 656.02,321.07 656.03,321.1 656.04,320.65 656.06,320.91 656.07,320.61 656.08,320.62 656.09,321.02 656.1,321.1 656.11,320.7 656.12,320.89 656.14,321.13 656.15,320.77 656.16,321.04 656.17,320.78 656.18,320.63 656.19,320.69 656.21,320.65 656.22,321.15 656.23,320.55 656.24,320.85 656.25,320.72 656.26,320.78 656.28,320.57 656.29,321.14 656.3,320.72 656.31,320.6 656.32,320.84 656.33,320.59 656.34,320.5 656.36,320.49 656.37,320.6 656.38,320.49 656.39,321 656.4,320.77 656.41,320.7 656.43,320.85 656.44,320.74 656.45,320.98 656.46,320.98 656.47,320.42 656.48,321.02 656.49,320.6 656.51,320.55 656.52,320.58 656.53,320.47 656.54,320.88 656.55,320.34 656.56,320.56 656.57,320.37 656.59,320.39 656.6,320.41 656.61,320.58 656.62,320.74 656.63,320.69 656.64,320.6 656.65,320.66 656.67,320.93 656.68,320.79 656.69,320.94 656.7,320.25 656.71,321.03 656.72,320.88 656.73,320.46 656.75,320.21 656.76,321.02 656.77,320.52 656.78,320.45 656.79,320.75 656.8,320.63 656.81,320.9 656.83,320.16 656.84,320.59 656.85,320.23 656.86,320.7 656.87,320.68 656.88,320.5 656.89,320.48 656.9,320.8 656.92,320.69 656.93,320.9 656.94,320.1 656.95,320.34 656.96,320.99 656.97,320.26 656.98,320.3 657,320.7 657.01,320.39 657.02,320.4 657.03,320.29 657.04,320.28 657.05,320.27 657.06,320.62 657.07,320.88 657.09,320.51 657.1,320.72 657.11,320.57 657.12,320.87 657.13,320.86 657.14,320.46 657.15,320.15 657.16,320.43 657.18,320.32 657.19,320.97 657.2,320.31 657.21,321.03 657.22,320.83 657.23,320.54 657.24,320.73 657.25,320.86 657.27,320.37 657.28,321.01 657.29,320.96 657.3,321.01 657.31,321 657.32,320.94 657.33,320.46 657.34,320.49 657.36,320.52 657.37,320.67 657.38,320.94 657.39,321.02 657.4,320.48 657.41,320.34 657.42,320.37 657.43,320.71 657.44,320.51 657.46,320.79 657.47,321.07 657.48,321.07 657.49,321.03 657.5,320.48 657.51,320.45 657.52,320.51 657.53,320.69 657.54,320.72 657.56,320.6 657.57,320.89 657.58,320.48 657.59,321.1 657.6,320.43 657.61,320.64 657.62,320.66 657.63,320.73 657.64,320.65 657.66,320.88 657.67,320.94 657.68,320.87 657.69,320.82 657.7,320.69 657.71,320.99 657.72,320.96 657.73,321.03 657.74,320.57 657.75,320.69 657.77,320.71 657.78,320.61 657.79,320.86 657.8,320.87 657.81,320.93 657.82,320.93 657.83,321.04 657.84,320.28 657.85,320.85 657.87,320.63 657.88,321.02 657.89,320.82 657.9,320.75 657.91,321.11 657.92,321.14 657.93,320.83 657.94,320.66 657.95,320.98 657.96,321.07 657.97,320.83 657.99,321.09 658,320.97 658.01,321.12 658.02,321.12 658.03,320.8 658.04,321.12 658.05,320.92 658.06,320.98 658.07,320.89 658.08,320.9 658.1,320.58 658.11,320.85 658.12,320.76 658.13,320.58 658.14,320.69 658.15,320.82 658.16,320.96 658.17,320.66 658.18,320.62 658.19,320.8 658.2,320.62 658.22,321.09 658.23,320.78 658.24,320.59 658.25,321.12 658.26,320.76 658.27,321.05 658.28,320.66 658.29,320.76 658.3,320.98 658.31,320.96 658.32,320.36 658.33,320.71 658.35,320.85 658.36,320.74 658.37,320.81 658.38,320.96 658.39,320.56 658.4,320.54 658.41,320.45 658.42,320.32 658.43,320.32 658.44,320.59 658.45,320.35 658.46,320.78 658.48,320.2 658.49,320.35 658.5,320.48 658.51,320.83 658.52,320.16 658.53,320.96 658.54,320.43 658.55,320.71 658.56,320.37 658.57,320.96 658.58,320.1 658.59,320.66 658.6,320.93 658.62,320.52 658.63,320.49 658.64,320.68 658.65,320.21 658.66,320.85 658.67,320.72 658.68,320.37 658.69,320.04 658.7,320.46 658.71,320.41 658.72,320.03 658.73,320.68 658.74,320.5 658.75,320.62 658.77,320.12 658.78,320.34 658.79,319.8 658.8,320.28 658.81,319.98 658.82,320.87 658.83,319.89 658.84,319.78 658.85,319.9 658.86,320.91 658.87,320.73 658.88,320.88 658.89,320.6 658.9,320.61 658.91,319.92 658.93,320.49 658.94,320.63 658.95,320.51 658.96,320.65 658.97,319.67 658.98,320.03 658.99,320.8 659,320.21 659.01,320.52 659.02,320.26 659.03,320.11 659.04,320.73 659.05,319.94 659.06,320.58 659.07,320.17 659.08,319.95 659.1,319.74 659.11,320.48 659.12,320.19 659.13,320.8 659.14,320.69 659.15,320.43 659.16,320.38 659.17,320.47 659.18,320.85 659.19,320.13 659.2,320.11 659.21,320.43 659.22,319.78 659.23,319.67 659.24,319.5 659.25,319.96 659.26,320.26 659.27,320.68 659.29,319.98 659.3,320.23 659.31,320.7 659.32,319.52 659.33,320.5 659.34,319.97 659.35,319.8 659.36,320.16 659.37,319.91 659.38,319.52 659.39,319.82 659.4,320.87 659.41,320.78 659.42,319.56 659.43,320.6 659.44,320.64 659.45,320.41 659.46,319.8 659.47,320.17 659.48,320.48 659.49,320.56 659.51,320.61 659.52,320.16 659.53,320.56 659.54,320.2 659.55,320.6 659.56,319.65 659.57,320.56 659.58,320.07 659.59,320.38 659.6,320.61 659.61,320.1 659.62,320.46 659.63,319.6 659.64,319.64 659.65,319.65 659.66,319.93 659.67,319.67 659.68,320.11 659.69,320.66 659.7,320.63 659.71,320.63 659.72,320.84 659.73,320.42 659.74,320.2 659.76,320.33 659.77,320.76 659.78,319.82 659.79,319.62 659.8,319.98 659.81,320.88 659.82,320.32 659.83,320.07 659.84,320.72 659.85,319.89 659.86,320.4 659.87,320.28 659.88,320.69 659.89,320.3 659.9,320.66 659.91,320 659.92,320.33 659.93,319.77 659.94,320.72 659.95,320 659.96,320.88 659.97,320.62 659.98,320.73 659.99,320.71 660,319.96 660.01,320.72 660.02,320.85 660.03,320.08 660.04,320.54 660.05,320.8 660.06,320.11 660.07,320.08 660.09,320.33 660.1,320.79 660.11,320.22 660.12,320.85 660.13,320.35 660.14,320.53 660.15,320.85 660.16,320.37 660.17,320.3 660.18,320.61 660.19,320.84 660.2,319.65 660.21,320.49 660.22,320.64 660.23,320.16 660.24,319.91 660.25,320.34 660.26,320.14 660.27,320.1 660.28,320.68 660.29,319.77 660.3,319.72 660.31,320.38 660.32,319.48 660.33,320.23 660.34,320.12 660.35,320.09 660.36,320.76 660.37,320.79 660.38,319.63 660.39,319.74 660.4,320.71 660.41,319.86 660.42,320.48 660.43,320.7 660.44,319.48 660.45,320.36 660.46,320.66 660.47,319.58 660.48,320.85 660.49,320.85 660.5,320.16 660.51,320.06 660.52,320.12 660.53,320.24 660.54,320.23 660.55,319.79 660.56,320.65 660.57,319.59 660.58,320.79 660.59,320.76 660.6,320.79 660.61,319.89 660.62,319.94 660.63,319.76 660.64,320.25 660.65,320.41 660.66,320.82 660.68,320 660.69,320.41 660.7,320.19 660.71,319.45 660.72,320.8 660.73,319.65 660.74,320.71 660.75,320.31 660.76,319.41 660.77,319.51 660.78,320.63 660.79,319.59 660.8,320.76 660.81,319.95 660.82,320.46 660.83,320.19 660.84,320.57 660.85,320.44 660.86,319.71 660.87,319.87 660.88,320.65 660.89,320.25 660.9,319.91 660.91,319.68 660.92,319.31 660.93,320.63 660.94,320.69 660.95,320.63 660.96,320.25 660.97,319.51 660.98,319.83 660.99,319.66 661,319.66 661.01,320.02 661.02,320.46 661.03,320.53 661.04,319.92 661.05,319.36 661.06,319.43 661.07,319.51 661.08,320.24 661.09,319.87 661.1,319.3 661.11,319.9 661.12,320.71 661.13,319.21 661.14,320.05 661.15,319.62 661.16,320.62 661.17,319.99 661.17,319.39 661.18,320.26 661.19,319.19 661.2,320.63 661.21,320.27 661.22,319.24 661.23,319.92 661.24,320.44 661.25,319.54 661.26,319.42 661.27,319.94 661.28,319.93 661.29,320.1 661.3,320.24 661.31,320.29 661.32,320.13 661.33,320.48 661.34,320.66 661.35,319.62 661.36,320.65 661.37,319.24 661.38,319.88 661.39,319.48 661.4,320.67 661.41,320.21 661.42,319.67 661.43,320.37 661.44,319.89 661.45,319.42 661.46,319.52 661.47,319.9 661.48,320.06 661.49,320.39 661.5,319.38 661.51,320.21 661.52,319.56 661.53,319.4 661.54,320.29 661.55,320.15 661.56,319.49 661.57,320.42 661.58,319.6 661.59,319.59 661.6,320.68 661.61,319.92 661.62,320.7 661.63,319.62 661.64,320.45 661.65,319.3 661.66,320.26 661.67,320.67 661.68,320.58 661.69,320.06 661.7,320.22 661.71,319.63 661.72,319.39 661.73,320.21 661.74,319.41 661.75,319.66 661.76,319.58 661.76,320.63 661.77,319.99 661.78,319.39 661.79,319.97 661.8,319.69 661.81,319.91 661.82,319.73 661.83,320.35 661.84,320.27 661.85,319.45 661.86,319.51 661.87,319.3 661.88,320.47 661.89,319.89 661.9,320.66 661.91,319.89 661.92,320.22 661.93,319.57 661.94,320.29 661.95,320.31 661.96,320.65 661.97,320.5 661.98,320.34 661.99,320.76 662,319.92 662.01,319.49 662.02,319.37 662.03,320.61 662.04,320.59 662.05,320.4 662.06,320.74 662.07,319.48 662.07,320.67 662.08,320.26 662.09,320.24 662.1,320.63 662.11,320.7 662.12,320.69 662.13,319.59 662.14,319.71 662.15,320.42 662.16,320.6 662.17,319.72 662.18,320.48 662.19,320.27 662.2,319.59 662.21,319.66 662.22,320.67 662.23,320.85 662.24,320.78 662.25,320.25 662.26,320.01 662.27,319.83 662.28,320.29 662.29,319.84 662.3,319.97 662.31,320.92 662.32,320.26 662.32,320.64 662.33,319.81 662.34,320.38 662.35,320.67 662.36,320.33 662.37,320.46 662.38,320.96 662.39,320.16 662.4,320.97 662.41,320.45 662.42,320.56 662.43,320.52 662.44,320.8 662.45,320.26 662.46,320.28 662.47,320.84 662.48,320.76 662.49,320.14 662.5,320.63 662.51,320.32 662.52,320.39 662.53,320.15 662.53,320.42 662.54,320.23 662.55,321.04 662.56,320.7 662.57,320.94 662.58,320.98 662.59,320.42 662.6,320.76 662.61,320.33 662.62,320.55 662.63,320.75 662.64,320.99 662.65,320.94 662.66,320.4 662.67,320.66 662.68,320.84 662.69,320.63 662.7,320.49 662.71,320.8 662.71,321.1 662.72,321.1 662.73,321.04 662.74,321.01 662.75,320.83 662.76,320.67 662.77,320.64 662.78,320.72 662.79,321.1 662.8,320.8 662.81,321 662.82,320.67 662.83,320.63 662.84,320.81 662.85,320.78 662.86,321.02 662.87,320.74 662.88,320.7 662.88,320.98 662.89,320.72 662.9,320.94 662.91,321.06 662.92,320.96 662.93,321.06 662.94,320.8 662.95,321.17 662.96,321.12 662.97,321.08 662.98,320.87 662.99,321.18 663,320.87 663.01,321.17 663.02,321.03 663.03,320.91 663.03,321.09 663.04,320.99 663.05,321 663.06,321.07 663.07,321.13 663.08,320.61 663.09,321.03 663.1,321.02 663.11,320.98 663.12,320.99 663.13,321.08 663.14,320.97 663.15,321.1 663.16,320.99 663.17,321.07 663.17,321.15 663.18,321.2 663.19,321.04 663.2,321.21 663.21,321.13 663.22,321.01 663.23,321.21 663.24,321.03 663.25,321.06 663.26,321.21 663.27,321.09 663.28,321.12 663.29,321.01 663.3,321.26 663.31,321.22 663.31,321.16 663.32,321.22 663.33,321.12 663.34,321.22 663.35,321.09 663.36,321.26 663.37,321.24 663.38,321.23 663.39,321.08 663.4,321.24 663.41,321.05 663.42,321.17 663.43,321.06 663.43,321.14 663.44,321.25 663.45,321.05 663.46,321.06 663.47,321.06 663.48,321.15 663.49,320.61 663.5,321.23 663.51,321.13 663.52,321.11 663.53,321.14 663.54,321.1 663.55,321.08 663.55,321.25 663.56,321.05 663.57,320.99 663.58,321.05 663.59,320.94 663.6,321.19 663.61,321.18 663.62,321.17 663.63,321.04 663.64,321 663.65,321.03 663.66,321.21 663.67,321.15 663.67,321.03 663.68,321.09 663.69,320.83 663.7,321.05 663.71,321.22 663.72,320.94 663.73,321.21 663.74,321.14 663.75,321.05 663.76,321.12 663.77,321 663.78,321.17 663.78,320.87 663.79,320.84 663.8,321.01 663.81,321.19 663.82,321.07 663.83,321.06 663.84,321.17 663.85,320.81 663.86,320.89 663.87,321.17 663.88,320.8 663.88,320.82 663.89,320.65 663.9,320.98 663.91,320.84 663.92,321.19 663.93,321.14 663.94,321.19 663.95,320.91 663.96,321.07 663.97,320.89 663.98,321.01 663.98,320.8 663.99,320.85 664,320.88 664.01,321.07 664.02,320.85 664.03,321.14 664.04,320.69 664.05,320.92 664.06,321.13 664.07,320.88 664.08,320.76 664.08,321.15 664.09,320.67 664.1,321.15 664.11,321.09 664.12,320.67 664.13,320.89 664.14,321.1 664.15,320.94 664.16,320.71 664.17,321.03 664.18,320.58 664.18,320.96 664.19,320.7 664.2,320.94 664.21,320.52 664.22,321.01 664.23,321.06 664.24,320.94 664.25,320.77 664.26,321.04 664.27,320.56 664.27,320.85 664.28,321.04 664.29,320.85 664.3,321.09 664.31,320.7 664.32,320.71 664.33,320.62 664.34,321.11 664.35,321.02 664.36,320.76 664.36,321.04 664.37,320.95 664.38,320.87 664.39,320.54 664.4,320.77 664.41,320.74 664.42,320.72 664.43,320.67 664.44,320.74 664.44,320.33 664.45,320.7 664.46,320.54 664.47,321.01 664.48,320.86 664.49,320.68 664.5,320.77 664.51,320.7 664.52,320.94 664.53,320.5 664.53,320.35 664.54,320.92 664.55,320.4 664.56,320.35 664.57,320.58 664.58,321.01 664.59,320.7 664.6,320.92 664.61,320.58 664.61,320.59 664.62,320.79 664.63,320.94 664.64,320.52 664.65,320.93 664.66,320.87 664.67,320.74 664.68,320.88 664.69,320.76 664.69,320.94 664.7,320.31 664.71,320.36 664.72,321 664.73,320.65 664.74,320.87 664.75,320.61 664.76,320.24 664.77,320.27 664.77,320.74 664.78,320.69 664.79,320.74 664.8,320.2 664.81,320.94 664.82,320.84 664.83,320.7 664.84,320.27 664.85,320.47 664.85,320.57 664.86,320.53 664.87,320.57 664.88,320.77 664.89,320.83 664.9,320.73 664.91,320.56 664.92,320.45 664.93,320.24 664.93,320.2 664.94,320.86 664.95,320.36 664.96,320.99 664.97,320.95 664.98,320.36 664.99,320.6 665,321.05 665,320.65 665.01,320.26 665.02,320.47 665.03,320.32 665.04,320.64 665.05,320.88 665.06,320.95 665.07,320.47 665.07,320.69 665.08,320.49 665.09,320.28 665.1,320.29 665.11,320.29 665.12,320.65 665.13,320.44 665.14,320.31 665.15,320.54 665.15,320.51 665.16,320.67 665.17,320.71 665.18,320.38 665.19,321.08 665.2,320.93 665.21,320.96 665.22,320.65 665.22,321.01 665.23,320.83 665.24,320.73 665.25,320.46 665.26,320.62 665.27,320.8 665.28,320.37 665.29,320.48 665.29,320.54 665.3,320.64 665.31,320.71 665.32,320.89 665.33,320.45 665.34,320.94 665.35,320.89 665.35,320.48 665.36,320.7 665.37,321.02 665.38,320.74 665.39,320.49 665.4,320.8 665.41,320.58 665.42,320.71 665.42,320.73 665.43,321.08 665.44,320.55 665.45,321.01 665.46,320.56 665.47,320.63 665.48,320.86 665.49,321.01 665.49,320.67 665.5,320.9 665.51,320.81 665.52,320.63 665.53,320.56 665.54,320.88 665.55,320.99 665.55,320.62 665.56,320.68 665.57,320.95 665.58,320.9 665.59,320.99 665.6,321.04 665.61,321.02 665.61,320.88 665.62,321.08 665.63,321.14 665.64,321.04 665.65,320.88 665.66,320.87 665.67,320.8 665.68,320.89 665.68,320.8 665.69,320.97 665.7,320.66 665.71,320.8 665.72,320.7 665.73,321 665.74,321.07 665.74,321.08 665.75,321.04 665.76,321.13 665.77,320.94 665.78,320.71 665.79,320.8 665.8,321.12 665.8,321.12 665.81,321.15 665.82,320.96 665.83,320.94 665.84,320.87 665.85,320.69 665.86,320.84 665.86,320.68 665.87,320.7 665.88,320.75 665.89,321.15 665.9,320.68 665.91,320.91 665.92,320.67 665.92,321.02 665.93,320.92 665.94,320.81 665.95,321.04 665.96,320.91 665.97,321.01 665.98,320.73 665.98,321.03 665.99,320.81 666,320.96 666.01,321.12 666.02,320.77 666.03,320.86 666.04,321.08 666.04,320.8 666.05,320.79 666.06,321.08 666.07,321.16 666.08,320.81 666.09,320.76 666.1,320.79 666.1,320.98 666.11,320.9 666.12,320.76 666.13,321.04 666.14,321.06 666.15,321.07 666.15,321.09 666.16,321.01 666.17,320.83 666.18,320.63 666.19,320.85 666.2,320.99 666.21,320.9 666.21,321.11 666.22,320.85 666.23,321.11 666.24,320.65 666.25,320.95 666.26,320.61 666.26,321.01 666.27,320.83 666.28,320.8 666.29,320.91 666.3,320.87 666.31,320.95 666.32,320.7 666.32,321.05 666.33,321.02 666.34,320.88 666.35,320.98 666.36,320.99 666.37,321.02 666.37,321.13 666.38,320.74 666.39,320.72 666.4,320.81 666.41,320.73 666.42,320.72 666.43,320.59 666.43,321.08 666.44,320.83 666.45,321.06 666.46,320.67 666.47,320.82 666.48,321.13 666.48,320.6 666.49,320.53 666.5,321.08 666.51,321.12 666.52,320.57 666.53,320.58 666.53,320.89 666.54,320.93 666.55,320.54 666.56,320.69 666.57,320.59 666.58,321.04 666.58,320.87 666.59,320.71 666.6,320.52 666.61,320.66 666.62,321 666.63,320.51 666.64,320.56 666.64,320.83 666.65,320.96 666.66,320.79 666.67,320.58 666.68,320.8 666.69,321.12 666.69,320.73 666.7,321.02 666.71,320.73 666.72,321.08 666.73,320.78 666.74,320.62 666.74,320.9 666.75,320.82 666.76,320.66 666.77,320.71 666.78,320.57 666.79,320.59 666.79,321.09 666.8,320.72 666.81,320.61 666.82,320.63 666.83,321.08 666.84,320.8 666.84,320.55 666.85,320.85 666.86,320.6 666.87,320.57 666.88,320.69 666.89,320.85 666.89,321.1 666.9,320.57 666.91,320.56 666.92,320.97 666.93,320.59 666.94,320.7 666.94,320.94 666.95,320.68 666.96,321.01 666.97,321.01 666.98,320.86 666.98,321.01 666.99,320.67 667,320.85 667.01,320.84 667.02,320.79 667.03,321.1 667.03,320.71 667.04,320.91 667.05,321.04 667.06,320.7 667.07,321.1 667.08,320.82 667.08,321.12 667.09,320.94 667.1,320.76 667.11,320.85 667.12,321.03 667.13,321.05 667.13,320.65 667.14,320.97 667.15,321.06 667.16,321.1 667.17,321.07 667.17,320.99 667.18,320.95 667.19,320.71 667.2,320.69 667.21,320.82 667.22,321.04 667.22,320.73 667.23,321.06 667.24,320.86 667.25,320.68 667.26,320.7 667.26,320.76 667.27,320.92 667.28,321.14 667.29,320.74 667.3,320.89 667.31,321.11 667.31,320.75 667.32,321.18 667.33,320.95 667.34,321.18 667.35,321.05 667.36,320.77 667.36,320.8 667.37,320.85 667.38,320.9 667.39,321.12 667.4,320.79 667.4,321.11 667.41,321.15 667.42,321.16 667.43,320.9 667.44,321.08 667.44,321.14 667.45,320.9 667.46,321.08 667.47,321.14 667.48,321.12 667.49,321.14 667.49,320.73 667.5,320.84 667.51,320.81 667.52,320.9 667.53,320.93 667.53,320.96 667.54,321.12 667.55,321.18 667.56,321.16 667.57,321.14 667.58,320.86 667.58,320.76 667.59,320.81 667.6,320.73 667.61,321.16 667.62,320.74 667.62,321.16 667.63,321.02 667.64,320.96 667.65,321.1 667.66,320.75 667.66,321.04 667.67,320.84 667.68,320.76 667.69,320.97 667.7,321.02 667.71,321.09 667.71,320.8 667.72,321.16 667.73,321.16 667.74,321.16 667.75,321.06 667.75,320.87 667.76,320.86 667.77,320.97 667.78,321.17 667.79,320.89 667.79,320.96 667.8,320.89 667.81,321.04 667.82,320.94 667.83,320.87 667.83,320.74 667.84,320.72 667.85,320.75 667.86,321.11 667.87,320.97 667.87,320.89 667.88,320.96 667.89,321.11 667.9,320.81 667.91,321.05 667.91,320.87 667.92,320.83 667.93,320.8 667.94,320.92 667.95,320.76 667.95,320.73 667.96,321.12 667.97,320.91 667.98,320.71 667.99,320.73 668,320.73 668,320.94 668.01,320.85 668.02,320.8 668.03,320.67 668.04,321.03 668.04,320.82 668.05,321.1 668.06,320.69 668.07,320.81 668.08,321 668.08,321.09 668.09,321.02 668.1,321.13 668.11,321.06 668.12,320.87 668.12,320.78 668.13,320.96 668.14,321.05 668.15,320.98 668.16,320.96 668.16,320.87 668.17,320.61 668.18,320.67 668.19,320.91 668.2,320.77 668.2,320.85 668.21,320.96 668.22,320.71 668.23,320.96 668.23,321 668.24,321 668.25,320.97 668.26,320.75 668.27,320.61 668.27,320.8 668.28,321.01 668.29,320.62 668.3,320.62 668.31,321.05 668.31,321.11 668.32,321.07 668.33,320.68 668.34,320.76 668.35,321.01 668.35,320.61 668.36,321.03 668.37,321.01 668.38,320.61 668.39,320.91 668.39,320.58 668.4,320.67 668.41,320.76 668.42,320.63 668.43,320.86 668.43,320.79 668.44,320.78 668.45,320.51 668.46,321.07 668.46,320.91 668.47,321.1 668.48,320.55 668.49,320.55 668.5,321 668.5,321.06 668.51,320.79 668.52,320.7 668.53,320.47 668.54,321.08 668.54,320.64 668.55,320.74 668.56,320.47 668.57,320.78 668.58,320.55 668.58,320.75 668.59,321 668.6,320.61 668.61,320.74 668.61,320.84 668.62,320.8 668.63,320.99 668.64,320.61 668.65,320.83 668.65,320.8 668.66,320.88 668.67,320.78 668.68,320.58 668.69,320.89 668.69,320.86 668.7,321.05 668.71,320.73 668.72,320.61 668.72,320.46 668.73,320.54 668.74,320.32 668.75,320.73 668.76,320.85 668.76,320.58 668.77,320.82 668.78,320.29 668.79,320.45 668.8,320.22 668.8,320.86 668.81,320.87 668.82,320.5 668.83,320.66 668.83,320.83 668.84,320.85 668.85,320.77 668.86,320.71 668.87,320.56 668.87,320.5 668.88,320.14 668.89,320.57 668.9,320.8 668.9,321.03 668.91,320.6 668.92,320.31 668.93,320.42 668.94,320.94 668.94,320.41 668.95,320.75 668.96,320.1 668.97,320.29 668.97,320.26 668.98,320.33 668.99,320.97 669,320.18 669.01,320.9 669.01,321 669.02,320.97 669.03,320.72 669.04,319.99 669.04,320.57 669.05,320.62 669.06,320.64 669.07,320.92 669.08,320.45 669.08,319.91 669.09,320.11 669.1,319.9 669.11,320.84 669.11,320.65 669.12,320.38 669.13,320.95 669.14,320.89 669.15,320.45 669.15,320.51 669.16,320.87 669.17,320.24 669.18,320.03 669.18,320.69 669.19,320.02 669.2,319.81 669.21,319.96 669.21,320.82 669.22,320.71 669.23,320 669.24,320.02 669.25,320.83 669.25,320.59 669.26,320.57 669.27,319.86 669.28,319.79 669.28,320.67 669.29,320.53 669.3,320.79 669.31,320.9 669.32,319.77 669.32,320.18 669.33,320.73 669.34,320.3 669.35,320.53 669.35,319.77 669.36,320.11 669.37,320.36 669.38,320.34 669.38,320.89 669.39,320.82 669.4,320.49 669.41,320.83 669.41,320.12 669.42,320.14 669.43,320.72 669.44,320.46 669.45,320.03 669.45,320.92 669.46,320.74 669.47,320.9 669.48,320.4 669.48,319.88 669.49,320.61 669.5,320.01 669.51,320.36 669.51,320.3 669.52,319.97 669.53,319.97 669.54,320.66 669.55,320.27 669.55,320.16 669.56,320.74 669.57,320.41 669.58,320.93 669.58,320.42 669.59,319.99 669.6,320.77 669.61,320.06 669.61,320.79 669.62,320.44 669.63,320.05 669.64,320.52 669.64,320.3 669.65,320.3 669.66,319.95 669.67,320.25 669.67,320.74 669.68,320.69 669.69,320.63 669.7,319.98 669.71,320.12 669.71,319.89 669.72,320.13 669.73,320.35 669.74,320.36 669.74,319.8 669.75,320.34 669.76,320.3 669.77,320.01 669.77,320.79 669.78,320.6 669.79,320.01 669.8,320.74 669.8,320.73 669.81,320.7 669.82,319.83 669.83,319.78 669.83,320.79 669.84,320.49 669.85,320.57 669.86,320.59 669.86,320.63 669.87,320.22 669.88,320.11 669.89,320.82 669.89,320.95 669.9,320.75 669.91,320.27 669.92,320.1 669.93,319.92 669.93,320.39 669.94,320.91 669.95,320.3 669.96,319.95 669.96,320.4 669.97,319.78 669.98,319.93 669.99,320.65 669.99,319.89 670,320.8 670.01,320.09 670.02,320.73 670.02,320.86 670.03,320.71 670.04,320.24 670.05,319.83 670.05,320.69 670.06,320.05 670.07,320.51 670.08,320.82 670.08,319.99 670.09,320.56 670.1,320.88 670.11,320.39 670.11,320.24 670.12,320.08 670.13,320.03 670.14,320.55 670.14,319.93 670.15,320.14 670.16,320.62 670.17,320.88 670.17,320.28 670.18,320.73 670.19,320.38 670.2,320.15 670.2,320.79 670.21,320.55 670.22,320.62 670.23,320.44 670.23,320.59 670.24,320.7 670.25,320.37 670.26,320.54 670.26,320.25 670.27,320.89 670.28,320.11 670.29,320.93 670.29,320.88 670.3,320.29 670.31,320.36 670.32,320.28 670.32,320.42 670.33,320.74 670.34,320.52 670.35,320.82 670.35,320.51 670.36,320.51 670.37,320.71 670.38,320.63 670.38,320.69 670.39,320.33 670.4,320.6 670.4,320.77 670.41,320.89 670.42,320.45 670.43,321.08 670.43,320.82 670.44,320.9 670.45,320.85 670.46,320.64 670.46,320.55 670.47,320.59 670.48,321.03 670.49,320.99 670.49,320.92 670.5,320.62 670.51,320.49 670.52,321.11 670.52,320.63 670.53,320.65 670.54,320.78 670.55,320.56 670.55,320.78 670.56,320.76 670.57,320.79 670.58,321.12 670.58,320.9 670.59,321.02 670.6,321.06 670.61,321.05 670.61,321.16 670.62,320.91 670.63,320.76 670.63,320.84 670.64,321.01 670.65,320.79 670.66,320.72 670.66,321.02 670.67,320.81 670.68,321.02 670.69,321.16 670.69,320.96 670.7,321.07 670.71,321.12 670.72,320.95 670.72,320.89 670.73,320.95 670.74,320.85 670.75,321.18 670.75,321.2 670.76,320.87 670.77,321 670.77,321.07 670.78,320.98 670.79,321.03 670.8,321.07 670.8,321.09 670.81,321.17 670.82,321.17 670.83,321.1 670.83,320.97 670.84,321.09 670.85,321.07 670.86,321.25 670.86,321.24 670.87,321.23 670.88,321.01 670.88,321.16 670.89,321.05 670.9,321.02 670.91,321.03 670.91,321.03 670.92,321.05 670.93,321.24 670.94,321.18 670.94,321.13 670.95,321.21 670.96,321.25 670.97,321.22 670.97,320.82 670.98,321.27 670.99,321.19 670.99,321.28 671,321.23 671.01,321.11 671.02,321.18 671.02,321.19 671.03,321.14 671.04,321.26 671.05,321.22 671.05,320.99 671.06,321.29 671.07,321.21 671.07,321.19 671.08,321.24 671.09,321.19 671.1,321.29 671.1,321.18 671.11,321.24 671.12,321.22 671.13,321.26 671.13,321.06 671.14,321.29 671.15,321.29 671.15,321.25 671.16,321.19 671.17,321.17 671.18,321.3 671.18,321.24 671.19,321.22 671.2,321.26 671.21,321.27 671.21,321.2 671.22,321.24 671.23,321.23 671.23,321.27 671.24,321.18 671.25,321.28 671.26,321.29 671.26,321.25 671.27,321.17 671.28,321.23 671.29,321.29 671.29,321.1 671.3,321.18 671.31,321.29 671.31,321.27 671.32,321.25 671.33,321.23 671.34,321.26 671.34,321.23 671.35,321.24 671.36,321.27 671.37,321.3 671.37,320.82 671.38,321.26 671.39,321.2 671.39,321.16 671.4,321.26 671.41,321.29 671.42,321.17 671.42,321.28 671.43,321.23 671.44,321.2 671.44,321.26 671.45,321.01 671.46,321.24 671.47,321.21 671.47,321.24 671.48,321.15 671.49,321.18 671.49,321.14 671.5,321.09 671.51,321.27 671.52,321.25 671.52,321.23 671.53,320.93 671.54,321.26 671.55,321.17 671.55,321.23 671.56,321.11 671.57,321.22 671.57,321.19 671.58,321.22 671.59,321.23 671.6,321.23 671.6,321.05 671.61,320.89 671.62,321.02 671.62,321.1 671.63,321.21 671.64,321.17 671.65,321.24 671.65,321.04 671.66,321.24 671.67,321.17 671.67,321.1 671.68,321.03 671.69,321 671.7,321.16 671.7,320.96 671.71,321.11 671.72,320.95 671.72,321.19 671.73,321.16 671.74,321.11 671.75,321.09 671.75,321.19 671.76,321.02 671.77,321.02 671.77,321.05 671.78,321.06 671.79,321.16 671.8,321.19 671.8,321.18 671.81,320.98 671.82,321.1 671.82,321.16 671.83,320.82 671.84,320.84 671.85,320.81 671.85,320.78 671.86,320.85 671.87,320.8 671.87,320.81 671.88,320.97 671.89,320.97 671.89,321.11 671.9,320.94 671.91,320.93 671.92,321.15 671.92,320.81 671.93,321.15 671.94,320.93 671.94,320.81 671.95,321.15 671.96,321.13 671.97,320.74 671.97,320.93 671.98,320.63 671.99,320.7 671.99,320.93 672,320.83 672.01,321.15 672.02,320.85 672.02,320.58 672.03,321.15 672.04,320.99 672.04,321.11 672.05,321.12 672.06,320.66 672.06,320.79 672.07,320.97 672.08,320.6 672.09,320.93 672.09,320.63 672.1,321.11 672.11,320.53 672.11,320.87 672.12,320.66 672.13,321.01 672.14,320.83 672.14,320.52 672.15,321.02 672.16,320.44 672.16,320.54 672.17,320.72 672.18,320.54 672.18,320.39 672.19,320.56 672.2,320.62 672.21,320.89 672.21,320.41 672.22,320.76 672.23,320.53 672.23,320.82 672.24,320.74 672.25,320.92 672.26,320.9 672.26,320.94 672.27,320.86 672.28,320.33 672.28,320.45 672.29,320.61 672.3,320.56 672.3,320.8 672.31,320.65 672.32,320.84 672.33,320.7 672.33,320.65 672.34,320.96 672.35,320.23 672.35,320.9 672.36,320.79 672.37,320.85 672.37,320.64 672.38,320.36 672.39,320.38 672.4,320.96 672.4,320.33 672.41,320.78 672.42,320.36 672.42,320.88 672.43,320.68 672.44,320.9 672.44,320.78 672.45,320.74 672.46,320.38 672.47,320.54 672.47,320.56 672.48,320.39 672.49,320.78 672.49,320.19 672.5,320.45 672.51,320.58 672.51,320.77 672.52,320.24 672.53,320.83 672.53,320.27 672.54,320.56 672.55,320.48 672.56,320.19 672.56,320.77 672.57,320.58 672.58,320.94 672.58,320.53 672.59,320.33 672.6,320.92 672.6,320.33 672.61,320.74 672.62,320.77 672.63,320.36 672.63,320.36 672.64,320.94 672.65,320.31 672.65,320.87 672.66,320.15 672.67,320.91 672.67,320.34 672.68,320.82 672.69,320.52 672.69,320.48 672.7,320.58 672.71,320.58 672.72,320.19 672.72,320.61 672.73,320.44 672.74,320.8 672.74,320.86 672.75,320.13 672.76,320.76 672.76,320.38 672.77,320.79 672.78,320.41 672.78,320.17 672.79,320.85 672.8,320.99 672.81,320.17 672.81,320.55 672.82,320.49 672.83,320.35 672.83,320.27 672.84,320.45 672.85,320.75 672.85,320.3 672.86,320.45 672.87,320.8 672.87,320.93 672.88,320.49 672.89,320.55 672.89,320.67 672.9,320.81 672.91,320.39 672.92,320.19 672.92,320.79 672.93,320.64 672.94,320.21 672.94,320.6 672.95,320.29 672.96,320.82 672.96,320.75 672.97,320.67 672.98,320.87 672.98,320.97 672.99,320.31 673,320.9 673,320.76 673.01,320.93 673.02,320.32 673.03,320.4 673.03,320.76 673.04,320.91 673.05,320.89 673.05,321.03 673.06,320.81 673.07,320.55 673.07,320.85 673.08,320.73 673.09,320.4 673.09,320.65 673.1,320.63 673.11,320.95 673.11,320.9 673.12,320.83 673.13,320.88 673.14,320.6 673.14,320.87 673.15,320.79 673.16,320.71 673.16,321.08 673.17,320.68 673.18,320.44 673.18,320.77 673.19,320.84 673.2,320.5 673.2,320.96 673.21,321.1 673.22,320.66 673.22,320.79 673.23,320.91 673.24,320.87 673.24,320.88 673.25,320.75 673.26,320.76 673.26,320.71 673.27,320.79 673.28,320.59 673.28,320.5 673.29,320.53 673.3,320.84 673.31,320.47 673.31,320.54 673.32,320.88 673.33,320.9 673.33,320.6 673.34,320.72 673.35,321.02 673.35,320.55 673.36,320.99 673.37,320.95 673.37,320.6 673.38,320.85 673.39,320.73 673.39,320.91 673.4,320.97 673.41,320.86 673.41,320.57 673.42,320.91 673.43,320.97 673.43,321.08 673.44,320.82 673.45,320.88 673.45,320.58 673.46,320.58 673.47,320.61 673.47,320.64 673.48,320.71 673.49,320.72 673.5,321.1 673.5,320.97 673.51,320.85 673.52,320.67 673.52,320.61 673.53,320.66 673.54,321.02 673.54,320.84 673.55,320.68 673.56,320.97 673.56,320.95 673.57,320.68 673.58,320.87 673.58,320.97 673.59,321.07 673.6,320.84 673.6,321.07 673.61,321.03 673.62,320.9 673.62,320.99 673.63,320.88 673.64,321.12 673.64,320.64 673.65,320.78 673.66,321 673.66,320.67 673.67,321.02 673.68,320.89 673.68,320.97 673.69,321.16 673.7,320.81 673.7,320.88 673.71,320.83 673.72,320.7 673.72,321.11 673.73,321.09 673.74,320.75 673.74,320.93 673.75,320.93 673.76,321.16 673.76,321.15 673.77,321.14 673.78,320.63 673.78,320.71 673.79,320.74 673.8,320.95 673.8,320.76 673.81,321.16 673.82,320.7 673.82,320.72 673.83,320.71 673.84,320.84 673.84,320.85 673.85,320.72 673.86,320.65 673.86,320.96 673.87,321.01 673.88,320.91 673.88,320.68 673.89,320.95 673.9,320.97 673.9,320.84 673.91,320.66 673.92,320.75 673.92,320.71 673.93,320.89 673.94,320.64 673.94,320.75 673.95,320.83 673.96,321.12 673.96,320.99 673.97,320.89 673.98,320.96 673.98,321.08 673.99,321.1 674,320.67 674,320.92 674.01,321.05 674.02,320.95 674.02,321.05 674.03,320.92 674.04,320.81 674.04,320.78 674.05,320.77 674.06,320.89 674.06,320.83 674.07,320.62 674.08,320.81 674.08,321.11 674.09,320.92 674.1,320.86 674.1,320.62 674.11,320.94 674.12,321.14 674.12,320.75 674.13,320.6 674.14,320.64 674.14,320.68 674.15,321 674.16,320.62 674.16,320.8 674.17,320.83 674.18,320.7 674.18,320.96 674.19,320.95 674.2,320.66 674.2,320.95 674.21,320.96 674.22,321.02 674.22,320.59 674.23,320.64 674.24,320.64 674.24,320.62 674.25,321.05 674.26,320.89 674.26,321.14 674.27,320.54 674.28,321.04 674.28,320.99 674.29,320.89 674.3,320.98 674.3,320.58 674.31,320.75 674.32,321.13 674.32,320.53 674.33,320.52 674.34,320.84 674.34,320.7 674.35,320.78 674.36,321.12 674.36,320.89 674.37,321.14 674.37,320.91 674.38,321 674.39,320.74 674.39,320.78 674.4,320.79 674.41,321.02 674.41,320.55 674.42,320.7 674.43,320.64 674.43,320.74 674.44,320.96 674.45,320.71 674.45,320.75 674.46,320.72 674.47,320.64 674.47,320.93 674.48,320.83 674.49,320.7 674.49,320.66 674.5,320.59 674.51,321.03 674.51,320.68 674.52,320.75 674.53,320.54 674.53,321 674.54,320.69 674.55,320.79 674.55,320.74 674.56,320.92 674.57,320.71 674.57,320.87 674.58,320.93 674.58,320.85 674.59,320.59 674.6,321.01 674.6,320.95 674.61,320.82 674.62,320.68 674.62,320.94 674.63,320.48 674.64,320.96 674.64,320.81 674.65,321.01 674.66,320.91 674.66,320.77 674.67,320.89 674.68,321.1 674.68,320.81 674.69,320.5 674.7,320.59 674.7,321.06 674.71,320.94 674.72,320.49 674.72,321.09 674.73,320.86 674.73,320.61 674.74,320.97 674.75,320.88 674.75,320.94 674.76,320.57 674.77,320.85 674.77,321.08 674.78,320.69 674.79,320.97 674.79,321.05 674.8,320.61 674.81,320.64 674.81,320.54 674.82,321.07 674.83,320.73 674.83,320.77 674.84,320.51 674.84,320.61 674.85,320.77 674.86,320.76 674.86,320.55 674.87,320.86 674.88,320.84 674.88,321.05 674.89,320.51 674.9,320.81 674.9,320.52 674.91,320.96 674.92,321.01 674.92,320.57 674.93,320.79 674.94,320.59 674.94,321.12 674.95,320.94 674.95,320.73 674.96,320.69 674.97,320.85 674.97,321.04 674.98,320.66 674.99,320.86 674.99,320.68 675,320.95 675.01,320.47 675.01,320.87 675.02,320.47 675.03,320.49 675.03,320.65 675.04,321.01 675.05,320.71 675.05,320.76 675.06,320.79 675.06,320.91 675.07,321.09 675.08,320.75 675.08,321.06 675.09,320.78 675.1,320.68 675.1,320.98 675.11,320.59 675.12,320.79 675.12,320.53 675.13,320.72 675.14,320.54 675.14,320.59 675.15,320.92 675.15,320.96 675.16,320.83 675.17,320.69 675.17,320.78 675.18,321.03 675.19,321.06 675.19,321.11 675.2,320.55 675.21,320.53 675.21,321.02 675.22,320.48 675.22,320.55 675.23,321.05 675.24,320.63 675.24,320.84 675.25,320.98 675.26,320.93 675.26,320.58 675.27,321.06 675.28,321.11 675.28,320.63 675.29,320.47 675.3,321.06 675.3,320.76 675.31,320.56 675.31,320.53 675.32,320.65 675.33,320.46 675.33,320.6 675.34,320.84 675.35,320.61 675.35,320.86 675.36,320.64 675.37,321.12 675.37,320.52 675.38,321.04 675.38,321.09 675.39,320.9 675.4,320.84 675.4,320.77 675.41,320.63 675.42,320.8 675.42,320.52 675.43,320.76 675.44,320.96 675.44,320.52 675.45,321.02 675.45,320.72 675.46,320.48 675.47,320.64 675.47,321.07 675.48,320.72 675.49,320.48 675.49,320.56 675.5,321.08 675.51,320.48 675.51,320.94 675.52,320.84 675.52,320.54 675.53,321.07 675.54,320.67 675.54,320.67 675.55,320.87 675.56,321.04 675.56,320.57 675.57,320.67 675.58,320.72 675.58,321.09 675.59,320.97 675.59,320.55 675.6,320.47 675.61,320.9 675.61,321.06 675.62,320.55 675.63,320.72 675.63,321.01 675.64,320.82 675.64,320.88 675.65,321.03 675.66,320.58 675.66,321.09 675.67,320.53 675.68,320.86 675.68,320.69 675.69,321.11 675.7,321.11 675.7,320.97 675.71,320.98 675.71,320.76 675.72,320.85 675.73,320.99 675.73,320.99 675.74,320.95 675.75,320.78 675.75,320.7 675.76,320.53 675.76,320.71 675.77,320.79 675.78,320.88 675.78,320.96 675.79,320.69 675.8,320.53 675.8,320.57 675.81,320.53 675.81,320.96 675.82,320.69 675.83,320.98 675.83,321.08 675.84,320.56 675.85,321.14 675.85,320.76 675.86,320.71 675.87,320.59 675.87,320.84 675.88,320.85 675.88,320.91 675.89,321.14 675.9,320.77 675.9,320.98 675.91,321.01 675.92,320.71 675.92,321.03 675.93,320.74 675.93,321.07 675.94,320.61 675.95,321.03 675.95,320.76 675.96,320.66 675.97,320.71 675.97,320.89 675.98,321.15 675.98,321.06 675.99,320.86 676,321.07 676,320.65 676.01,320.99 676.02,321.02 676.02,320.89 676.03,320.63 676.03,320.85 676.04,321.12 676.05,321 676.05,320.89 676.06,320.75 676.07,321.03 676.07,321 676.08,320.7 676.08,320.72 676.09,320.8 676.1,320.76 676.1,320.83 676.11,320.99 676.12,321.17 676.12,320.73 676.13,320.8 676.13,321.09 676.14,320.78 676.15,321.09 676.15,321.11 676.16,320.74 676.16,321.14 676.17,321.12 676.18,320.74 676.18,320.82 676.19,321.07 676.2,320.73 676.2,321.07 676.21,320.79 676.21,320.81 676.22,321.16 676.23,320.89 676.23,320.76 676.24,320.98 676.25,320.95 676.25,320.79 676.26,320.73 676.26,321 676.27,320.79 676.28,321.15 676.28,321.04 676.29,320.89 676.3,321.01 676.3,321.05 676.31,320.98 676.31,321.02 676.32,320.88 676.33,320.83 676.33,321.08 676.34,320.92 676.34,321.14 676.35,321.18 676.36,321.13 676.36,321.01 676.37,320.84 676.38,321.05 676.38,320.94 676.39,321.19 676.39,320.9 676.4,320.8 676.41,321.1 676.41,321.18 676.42,321.14 676.43,321.17 676.43,320.94 676.44,321 676.44,321.08 676.45,320.98 676.46,321.09 676.46,321.01 676.47,321 676.47,320.96 676.48,321.09 676.49,321.18 676.49,321 676.5,321.15 676.51,320.97 676.51,321.15 676.52,320.9 676.52,321.04 676.53,321 676.54,320.82 676.54,320.95 676.55,320.97 676.55,320.88 676.56,320.97 676.57,320.9 676.57,320.93 676.58,320.94 676.58,321.18 676.59,320.89 676.6,320.95 676.6,321.07 676.61,321.1 676.62,320.87 676.62,321.11 676.63,321.2 676.63,321.05 676.64,321.08 676.65,321.21 676.65,320.91 676.66,321.2 676.66,320.97 676.67,320.82 676.68,321.13 676.68,320.92 676.69,321.17 676.7,320.88 676.7,320.95 676.71,321.17 676.71,320.91 676.72,321.2 676.73,321.04 676.73,320.86 676.74,320.99 676.74,320.91 676.75,320.98 676.76,320.89 676.76,321.07 676.77,320.97 676.77,321.2 676.78,320.89 676.79,321.21 676.79,321.13 676.8,320.85"/>
<line x1="381.3" y1="321.35" x2="381.3" y2="318.35" stroke="#262626" stroke-width="0.7"/>
<line x1="381.3" y1="180.15" x2="381.3" y2="183.15" stroke="#262626" stroke-width="0.7"/>
<line x1="403.54" y1="321.35" x2="403.54" y2="319.75" stroke="#262626" stroke-width="0.7"/>
<line x1="403.54" y1="180.15" x2="403.54" y2="181.75" stroke="#262626" stroke-width="0.7"/>
<line x1="416.55" y1="321.35" x2="416.55" y2="319.75" stroke="#262626" stroke-width="0.7"/>
<line x1="416.55" y1="180.15" x2="416.55" y2="181.75" stroke="#262626" stroke-width="0.7"/>
<line x1="425.78" y1="321.35" x2="425.78" y2="319.75" stroke="#262626" stroke-width="0.7"/>
<line x1="425.78" y1="180.15" x2="425.78" y2="181.75" stroke="#262626" stroke-width="0.7"/>
<line x1="432.94" y1="321.35" x2="432.94" y2="319.75" stroke="#262626" stroke-width="0.7"/>
<line x1="432.94" y1="180.15" x2="432.94" y2="181.75" stroke="#262626" stroke-width="0.7"/>
<line x1="438.79" y1="321.35" x2="438.79" y2="319.75" stroke="#262626" stroke-width="0.7"/>
<line x1="438.79" y1="180.15" x2="438.79" y2="181.75" stroke="#262626" stroke-width="0.7"/>
<line x1="443.73" y1="321.35" x2="443.73" y2="319.75" stroke="#262626" stroke-width="0.7"/>
<line x1="443.73" y1="180.15" x2="443.73" y2="181.75" stroke="#262626" stroke-width="0.7"/>
<line x1="448.02" y1="321.35" x2="448.02" y2="319.75" stroke="#262626" stroke-width="0.7"/>
<line x1="448.02" y1="180.15" x2="448.02" y2="181.75" stroke="#262626" stroke-width="0.7"/>
<line x1="451.79" y1="321.35" x2="451.79" y2="319.75" stroke="#262626" stroke-width="0.7"/>
<line x1="451.79" y1="180.15" x2="451.79" y2="181.75" stroke="#262626" stroke-width="0.7"/>
<line x1="455.18" y1="321.35" x2="455.18" y2="318.35" stroke="#262626" stroke-width="0.7"/>
<line x1="455.18" y1="180.15" x2="455.18" y2="183.15" stroke="#262626" stroke-width="0.7"/>
<line x1="477.41" y1="321.35" x2="477.41" y2="319.75" stroke="#262626" stroke-width="0.7"/>
<line x1="477.41" y1="180.15" x2="477.41" y2="181.75" stroke="#262626" stroke-width="0.7"/>
<line x1="490.42" y1="321.35" x2="490.42" y2="319.75" stroke="#262626" stroke-width="0.7"/>
<line x1="490.42" y1="180.15" x2="490.42" y2="181.75" stroke="#262626" stroke-width="0.7"/>
<line x1="499.65" y1="321.35" x2="499.65" y2="319.75" stroke="#262626" stroke-width="0.7"/>
<line x1="499.65" y1="180.15" x2="499.65" y2="181.75" stroke="#262626" stroke-width="0.7"/>
<line x1="506.81" y1="321.35" x2="506.81" y2="319.75" stroke="#262626" stroke-width="0.7"/>
<line x1="506.81" y1="180.15" x2="506.81" y2="181.75" stroke="#262626" stroke-width="0.7"/>
<line x1="512.66" y1="321.35" x2="512.66" y2="319.75" stroke="#262626" stroke-width="0.7"/>
<line x1="512.66" y1="180.15" x2="512.66" y2="181.75" stroke="#262626" stroke-width="0.7"/>
<line x1="517.61" y1="321.35" x2="517.61" y2="319.75" stroke="#262626" stroke-width="0.7"/>
<line x1="517.61" y1="180.15" x2="517.61" y2="181.75" stroke="#262626" stroke-width="0.7"/>
<line x1="521.89" y1="321.35" x2="521.89" y2="319.75" stroke="#262626" stroke-width="0.7"/>
<line x1="521.89" y1="180.15" x2="521.89" y2="181.75" stroke="#262626" stroke-width="0.7"/>
<line x1="525.67" y1="321.35" x2="525.67" y2="319.75" stroke="#262626" stroke-width="0.7"/>
<line x1="525.67" y1="180.15" x2="525.67" y2="181.75" stroke="#262626" stroke-width="0.7"/>
<line x1="529.05" y1="321.35" x2="529.05" y2="318.35" stroke="#262626" stroke-width="0.7"/>
<line x1="529.05" y1="180.15" x2="529.05" y2="183.15" stroke="#262626" stroke-width="0.7"/>
<line x1="551.29" y1="321.35" x2="551.29" y2="319.75" stroke="#262626" stroke-width="0.7"/>
<line x1="551.29" y1="180.15" x2="551.29" y2="181.75" stroke="#262626" stroke-width="0.7"/>
<line x1="564.3" y1="321.35" x2="564.3" y2="319.75" stroke="#262626" stroke-width="0.7"/>
<line x1="564.3" y1="180.15" x2="564.3" y2="181.75" stroke="#262626" stroke-width="0.7"/>
<line x1="573.53" y1="321.35" x2="573.53" y2="319.75" stroke="#262626" stroke-width="0.7"/>
<line x1="573.53" y1="180.15" x2="573.53" y2="181.75" stroke="#262626" stroke-width="0.7"/>
<line x1="580.69" y1="321.35" x2="580.69" y2="319.75" stroke="#262626" stroke-width="0.7"/>
<line x1="580.69" y1="180.15" x2="580.69" y2="181.75" stroke="#262626" stroke-width="0.7"/>
<line x1="586.54" y1="321.35" x2="586.54" y2="319.75" stroke="#262626" stroke-width="0.7"/>
<line x1="586.54" y1="180.15" x2="586.54" y2="181.75" stroke="#262626" stroke-width="0.7"/>
<line x1="591.48" y1="321.35" x2="591.48" y2="319.75" stroke="#262626" stroke-width="0.7"/>
<line x1="591.48" y1="180.15" x2="591.48" y2="181.75" stroke="#262626" stroke-width="0.7"/>
<line x1="595.77" y1="321.35" x2="595.77" y2="319.75" stroke="#262626" stroke-width="0.7"/>
<line x1="595.77" y1="180.15" x2="595.77" y2="181.75" stroke="#262626" stroke-width="0.7"/>
<line x1="599.54" y1="321.35" x2="599.54" y2="319.75" stroke="#262626" stroke-width="0.7"/>
<line x1="599.54" y1="180.15" x2="599.54" y2="181.75" stroke="#262626" stroke-width="0.7"/>
<line x1="602.92" y1="321.35" x2="602.92" y2="318.35" stroke="#262626" stroke-width="0.7"/>
<line x1="602.92" y1="180.15" x2="602.92" y2="183.15" stroke="#262626" stroke-width="0.7"/>
<line x1="625.16" y1="321.35" x2="625.16" y2="319.75" stroke="#262626" stroke-width="0.7"/>
<line x1="625.16" y1="180.15" x2="625.16" y2="181.75" stroke="#262626" stroke-width="0.7"/>
<line x1="638.17" y1="321.35" x2="638.17" y2="319.75" stroke="#262626" stroke-width="0.7"/>
<line x1="638.17" y1="180.15" x2="638.17" y2="181.75" stroke="#262626" stroke-width="0.7"/>
<line x1="647.4" y1="321.35" x2="647.4" y2="319.75" stroke="#262626" stroke-width="0.7"/>
<line x1="647.4" y1="180.15" x2="647.4" y2="181.75" stroke="#262626" stroke-width="0.7"/>
<line x1="654.56" y1="321.35" x2="654.56" y2="319.75" stroke="#262626" stroke-width="0.7"/>
<line x1="654.56" y1="180.15" x2="654.56" y2="181.75" stroke="#262626" stroke-width="0.7"/>
<line x1="660.41" y1="321.35" x2="660.41" y2="319.75" stroke="#262626" stroke-width="0.7"/>
<line x1="660.41" y1="180.15" x2="660.41" y2="181.75" stroke="#262626" stroke-width="0.7"/>
<line x1="665.36" y1="321.35" x2="665.36" y2="319.75" stroke="#262626" stroke-width="0.7"/>
<line x1="665.36" y1="180.15" x2="665.36" y2="181.75" stroke="#262626" stroke-width="0.7"/>
<line x1="669.64" y1="321.35" x2="669.64" y2="319.75" stroke="#262626" stroke-width="0.7"/>
<line x1="669.64" y1="180.15" x2="669.64" y2="181.75" stroke="#262626" stroke-width="0.7"/>
<line x1="673.42" y1="321.35" x2="673.42" y2="319.75" stroke="#262626" stroke-width="0.7"/>
<line x1="673.42" y1="180.15" x2="673.42" y2="181.75" stroke="#262626" stroke-width="0.7"/>
<line x1="676.8" y1="321.35" x2="676.8" y2="318.35" stroke="#262626" stroke-width="0.7"/>
<line x1="676.8" y1="180.15" x2="676.8" y2="183.15" stroke="#262626" stroke-width="0.7"/>
<line x1="676.8" y1="321.35" x2="676.8" y2="318.35" stroke="#262626" stroke-width="0.7"/>
<line x1="381.3" y1="321.35" x2="384.3" y2="321.35" stroke="#262626" stroke-width="0.8"/>
<line x1="676.8" y1="321.35" x2="673.8" y2="321.35" stroke="#262626" stroke-width="0.8"/>
<line x1="381.3" y1="293.11" x2="384.3" y2="293.11" stroke="#262626" stroke-width="0.8"/>
<line x1="676.8" y1="293.11" x2="673.8" y2="293.11" stroke="#262626" stroke-width="0.8"/>
<line x1="381.3" y1="264.87" x2="384.3" y2="264.87" stroke="#262626" stroke-width="0.8"/>
<line x1="676.8" y1="264.87" x2="673.8" y2="264.87" stroke="#262626" stroke-width="0.8"/>
<line x1="381.3" y1="236.63" x2="384.3" y2="236.63" stroke="#262626" stroke-width="0.8"/>
<line x1="676.8" y1="236.63" x2="673.8" y2="236.63" stroke="#262626" stroke-width="0.8"/>
<line x1="381.3" y1="208.39" x2="384.3" y2="208.39" stroke="#262626" stroke-width="0.8"/>
<line x1="676.8" y1="208.39" x2="673.8" y2="208.39" stroke="#262626" stroke-width="0.8"/>
<line x1="381.3" y1="180.15" x2="384.3" y2="180.15" stroke="#262626" stroke-width="0.8"/>
<line x1="676.8" y1="180.15" x2="673.8" y2="180.15" stroke="#262626" stroke-width="0.8"/>
<rect x="381.3" y="180.15" width="295.5" height="141.2" fill="none" stroke="#262626" stroke-width="0.9"/>
<text x="378.2" y="324.25" text-anchor="end" font-size="9.3" fill="#262626">0</text>
<text x="378.2" y="296.01" text-anchor="end" font-size="9.3" fill="#262626">0.2</text>
<text x="378.2" y="267.77" text-anchor="end" font-size="9.3" fill="#262626">0.4</text>
<text x="378.2" y="239.53" text-anchor="end" font-size="9.3" fill="#262626">0.6</text>
<text x="378.2" y="211.29" text-anchor="end" font-size="9.3" fill="#262626">0.8</text>
<text x="378.2" y="183.05" text-anchor="end" font-size="9.3" fill="#262626">1</text>
<text x="455.38" y="333.15" text-anchor="middle" font-size="9.3" fill="#262626">10<tspan font-size="6.2" dy="-3.5">-4</tspan></text>
<text x="529.25" y="333.15" text-anchor="middle" font-size="9.3" fill="#262626">10<tspan font-size="6.2" dy="-3.5">-3</tspan></text>
<text x="603.12" y="333.15" text-anchor="middle" font-size="9.3" fill="#262626">10<tspan font-size="6.2" dy="-3.5">-2</tspan></text>
<text x="677" y="333.15" text-anchor="middle" font-size="9.3" fill="#262626">10<tspan font-size="6.2" dy="-3.5">-1</tspan></text>
<text x="529.05" y="345.95" text-anchor="middle" font-size="9.8" fill="#262626">Normalized frequency (a.u.)</text>
<text transform="translate(363.4,250.75) rotate(-90)" text-anchor="middle" font-size="9.8" fill="#262626">Normalized spectral intensity (a.u.)</text>
<text x="388.4" y="199.1" font-size="18.9" font-weight="bold" fill="#000" stroke="#000" stroke-width="0.45">d</text>
</svg>
</body></html>
